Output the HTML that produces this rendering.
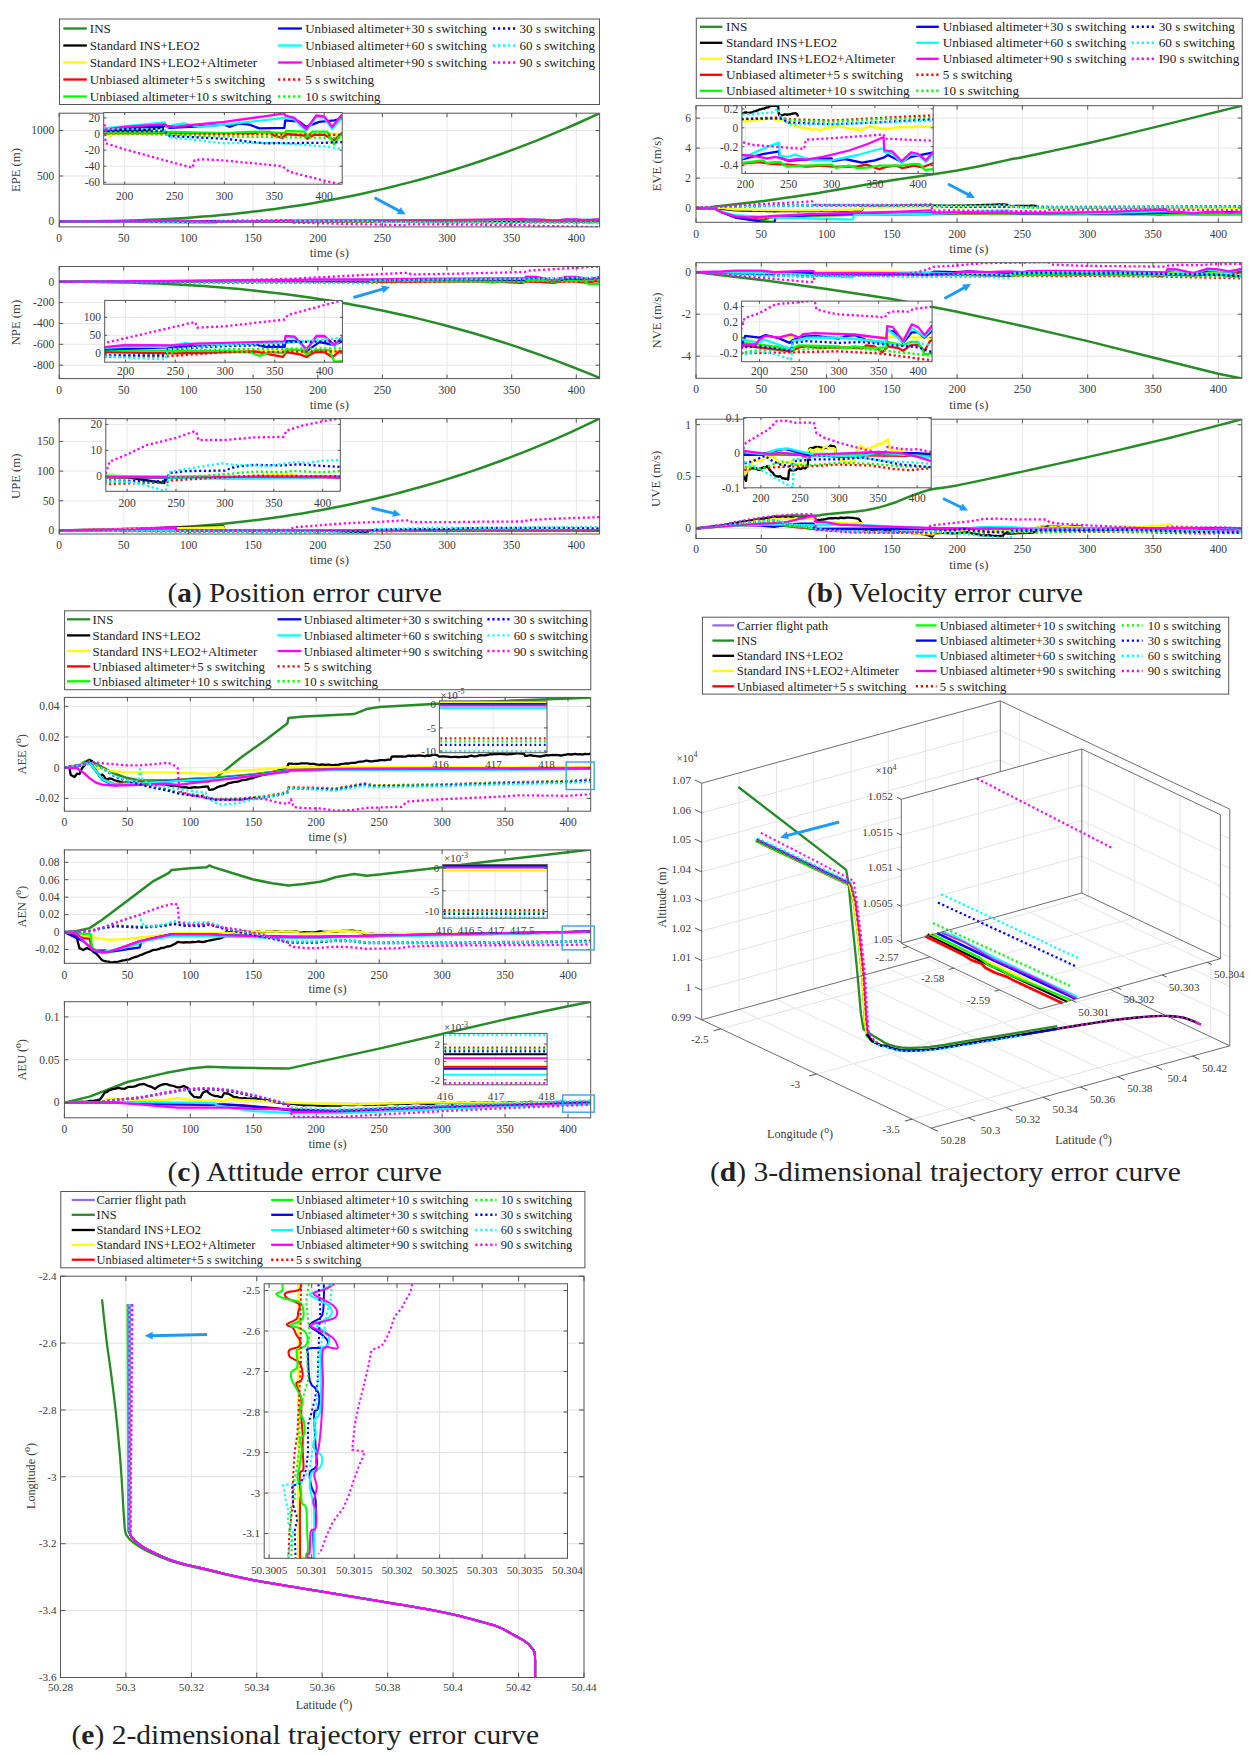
<!DOCTYPE html>
<html><head><meta charset="utf-8"><title>Error curves</title>
<style>
html,body{margin:0;padding:0;background:#fff}
svg{display:block;font-family:'Liberation Serif', 'DejaVu Serif', serif}
</style></head><body>
<svg width="1254" height="1756" viewBox="0 0 1254 1756">
<rect width="1254" height="1756" fill="#fff"/>
<rect x="59.5" y="19" width="540" height="85.5" fill="#fff" stroke="#555555" stroke-width="1"/>
<line x1="63.3" y1="28.5" x2="86.8" y2="28.5" stroke="#278c27" stroke-width="2.3"/>
<text x="89.8" y="33.1" font-size="13.05" text-anchor="start" fill="#222">INS</text>
<line x1="63.3" y1="45.5" x2="86.8" y2="45.5" stroke="#000000" stroke-width="2.3"/>
<text x="89.8" y="50.1" font-size="13.05" text-anchor="start" fill="#222">Standard INS+LEO2</text>
<line x1="63.3" y1="62.5" x2="86.8" y2="62.5" stroke="#ffff00" stroke-width="2.3"/>
<text x="89.8" y="67.1" font-size="13.05" text-anchor="start" fill="#222">Standard INS+LEO2+Altimeter</text>
<line x1="63.3" y1="79.5" x2="86.8" y2="79.5" stroke="#ff0000" stroke-width="2.3"/>
<text x="89.8" y="84.1" font-size="13.05" text-anchor="start" fill="#222">Unbiased altimeter+5 s switching</text>
<line x1="63.3" y1="96.5" x2="86.8" y2="96.5" stroke="#00ff00" stroke-width="2.3"/>
<text x="89.8" y="101.1" font-size="13.05" text-anchor="start" fill="#222">Unbiased altimeter+10 s switching</text>
<line x1="278.1" y1="28.5" x2="301.9" y2="28.5" stroke="#0000ff" stroke-width="2.3"/>
<text x="305.2" y="33.1" font-size="13.05" text-anchor="start" fill="#222">Unbiased altimeter+30 s switching</text>
<line x1="278.1" y1="45.5" x2="301.9" y2="45.5" stroke="#00ffff" stroke-width="2.3"/>
<text x="305.2" y="50.1" font-size="13.05" text-anchor="start" fill="#222">Unbiased altimeter+60 s switching</text>
<line x1="278.1" y1="62.5" x2="301.9" y2="62.5" stroke="#ff00ff" stroke-width="2.3"/>
<text x="305.2" y="67.1" font-size="13.05" text-anchor="start" fill="#222">Unbiased altimeter+90 s switching</text>
<line x1="278.1" y1="79.5" x2="301.9" y2="79.5" stroke="#ff0000" stroke-width="2.4" stroke-dasharray="2.2 2.8"/>
<text x="305.2" y="84.1" font-size="13.05" text-anchor="start" fill="#222">5 s switching</text>
<line x1="278.1" y1="96.5" x2="301.9" y2="96.5" stroke="#00ff00" stroke-width="2.4" stroke-dasharray="2.2 2.8"/>
<text x="305.2" y="101.1" font-size="13.05" text-anchor="start" fill="#222">10 s switching</text>
<line x1="493" y1="28.5" x2="515.4" y2="28.5" stroke="#0000ff" stroke-width="2.4" stroke-dasharray="2.2 2.8"/>
<text x="519.6" y="33.1" font-size="13.05" text-anchor="start" fill="#222">30 s switching</text>
<line x1="493" y1="45.5" x2="515.4" y2="45.5" stroke="#00ffff" stroke-width="2.4" stroke-dasharray="2.2 2.8"/>
<text x="519.6" y="50.1" font-size="13.05" text-anchor="start" fill="#222">60 s switching</text>
<line x1="493" y1="62.5" x2="515.4" y2="62.5" stroke="#ff00ff" stroke-width="2.4" stroke-dasharray="2.2 2.8"/>
<text x="519.6" y="67.1" font-size="13.05" text-anchor="start" fill="#222">90 s switching</text>
<clipPath id="c1"><rect x="59.2" y="113.2" width="540.4" height="113.7"/></clipPath>
<rect x="59.2" y="113.2" width="540.4" height="113.7" fill="#fff" stroke="none" stroke-width="1"/>
<line x1="123.8" y1="113.2" x2="123.8" y2="226.9" stroke="#e7e7e7" stroke-width="1"/>
<line x1="188.5" y1="113.2" x2="188.5" y2="226.9" stroke="#e7e7e7" stroke-width="1"/>
<line x1="253.1" y1="113.2" x2="253.1" y2="226.9" stroke="#e7e7e7" stroke-width="1"/>
<line x1="317.8" y1="113.2" x2="317.8" y2="226.9" stroke="#e7e7e7" stroke-width="1"/>
<line x1="382.4" y1="113.2" x2="382.4" y2="226.9" stroke="#e7e7e7" stroke-width="1"/>
<line x1="447" y1="113.2" x2="447" y2="226.9" stroke="#e7e7e7" stroke-width="1"/>
<line x1="511.7" y1="113.2" x2="511.7" y2="226.9" stroke="#e7e7e7" stroke-width="1"/>
<line x1="576.3" y1="113.2" x2="576.3" y2="226.9" stroke="#e7e7e7" stroke-width="1"/>
<line x1="59.2" y1="221.4" x2="599.6" y2="221.4" stroke="#e7e7e7" stroke-width="1"/>
<line x1="59.2" y1="176" x2="599.6" y2="176" stroke="#e7e7e7" stroke-width="1"/>
<line x1="59.2" y1="130.5" x2="599.6" y2="130.5" stroke="#e7e7e7" stroke-width="1"/>
<polyline points="59.2,221.4 68.2,221.4 77.2,221.4 86.2,221.3 95.2,221.3 104.2,221.1 113.2,221 122.2,220.7 131.3,220.5 140.3,220.2 149.3,219.8 158.3,219.4 167.3,219 176.3,218.5 185.3,217.9 194.3,217.3 203.3,216.6 212.3,215.9 221.3,215.1 230.3,214.2 239.3,213.3 248.3,212.3 257.3,211.2 266.4,210.1 275.4,208.9 284.4,207.6 293.4,206.3 302.4,204.9 311.4,203.4 320.4,201.8 329.4,200.2 338.4,198.5 347.4,196.7 356.4,194.9 365.4,193 374.4,190.9 383.4,188.9 392.4,186.7 401.5,184.4 410.5,182.1 419.5,179.7 428.5,177.2 437.5,174.6 446.5,172 455.5,169.2 464.5,166.4 473.5,163.5 482.5,160.5 491.5,157.4 500.5,154.2 509.5,150.9 518.5,147.6 527.5,144.1 536.6,140.6 545.6,136.9 554.6,133.2 563.6,129.4 572.6,125.5 581.6,121.5 590.6,117.4 599.6,113.2" fill="none" stroke="#278c27" stroke-width="2.5" stroke-linecap="butt" stroke-linejoin="round" clip-path="url(#c1)"/>
<polyline points="59.2,221.4 290.6,221.2 346.2,221 366.9,220.7 367.5,221.1" fill="none" stroke="#000000" stroke-width="2.3" stroke-linecap="butt" stroke-linejoin="round" clip-path="url(#c1)"/>
<polyline points="59.2,221.4 290.6,221.3 295.8,221.4 298.4,221.7 304.8,221.4 369.5,221.4 599.6,221.4" fill="none" stroke="#ffff00" stroke-width="2.3" stroke-linecap="butt" stroke-linejoin="round" clip-path="url(#c1)"/>
<polyline points="59.2,221.4 290.6,221.4 382.4,221.4 485.8,221.4 492.3,221.2 505.2,221.2 511.7,221.6 522,221.9 527.2,221.4 550.5,221.6 554.4,222 563.4,221.5 576.3,221.5 589.3,222.1 595.7,221.6 599.6,221.3" fill="none" stroke="#ff0000" stroke-width="2.3" stroke-linecap="butt" stroke-linejoin="round" clip-path="url(#c1)"/>
<polyline points="59.2,221.4 290.6,221.3 382.4,221.2 447,221.4 485.8,221.2 524.6,221.4 527.2,221.1 550.5,221.2 554.4,221.7 560.8,221.2 580.2,221.2 589.3,222.6 594.4,221.9 599.6,221.4" fill="none" stroke="#00ff00" stroke-width="2.3" stroke-linecap="butt" stroke-linejoin="round" clip-path="url(#c1)"/>
<polyline points="59.2,221.4 290.6,221 369.5,220.5 375.9,220.7 421.2,220.5 447,220.4 453.5,220.6 466.4,220.3 479.4,220.4 492.3,220.8 524.6,220.7 525.9,219.9 544,220 553.1,220.6 569.9,220.1 589.3,219.9 599.6,219.7" fill="none" stroke="#0000ff" stroke-width="2.3" stroke-linecap="butt" stroke-linejoin="round" clip-path="url(#c1)"/>
<polyline points="59.2,221.4 136.8,221.9 188.5,222.8 215.6,223.1 216.9,221.4 290.6,220.8 369.5,220.1 372.1,220.6 385,220.4 395.3,220.3 414.7,220.6 447,220.4 524.6,219.6 525.9,219.5 537.5,219.8 553.1,221.1 566,219.5 576.3,219.6 586.7,220.9 599.6,219.5" fill="none" stroke="#00ffff" stroke-width="2.3" stroke-linecap="butt" stroke-linejoin="round" clip-path="url(#c1)"/>
<polyline points="59.2,221.4 136.8,221.7 175.6,220.5 214.3,221.9 290.6,221 317.8,220.6 369.5,220.4 373.4,220.5 382.4,220.6 408.3,220.4 447,220.1 498.8,219.4 524.6,219.1 525.9,219.4 537.5,219.6 553.1,220.9 566,219.4 576.3,219.4 586.7,220.6 598.3,219.4 599.6,219.4" fill="none" stroke="#ff00ff" stroke-width="2.3" stroke-linecap="butt" stroke-linejoin="round" clip-path="url(#c1)"/>
<polyline points="59.2,221.4 290.6,221.4 382.4,221.4 599.6,221.5" fill="none" stroke="#ff0000" stroke-width="2.3" stroke-linecap="butt" stroke-linejoin="round" stroke-dasharray="2.2 2.6" clip-path="url(#c1)"/>
<polyline points="59.2,221.4 290.6,221.4 375.9,221.5 447,221.7 524.6,221.8 599.6,221.9" fill="none" stroke="#00ff00" stroke-width="2.3" stroke-linecap="butt" stroke-linejoin="round" stroke-dasharray="2.2 2.6" clip-path="url(#c1)"/>
<polyline points="59.2,221.4 290.6,221.1 369.5,221.1 375.9,221.7 447,222 498.8,222.5 576.3,222.4 599.6,222.4" fill="none" stroke="#0000ff" stroke-width="2.3" stroke-linecap="butt" stroke-linejoin="round" stroke-dasharray="2.2 2.6" clip-path="url(#c1)"/>
<polyline points="59.2,221.4 290.6,220.9 369.5,220.9 375.9,221.8 447,222.5 511.7,222.4 576.3,222.8 599.6,223.1" fill="none" stroke="#00ffff" stroke-width="2.3" stroke-linecap="butt" stroke-linejoin="round" stroke-dasharray="2.2 2.6" clip-path="url(#c1)"/>
<polyline points="59.2,221.4 175.6,221 176.8,221.4 290.6,220.1 291.9,220.4 293.2,222.5 317.8,223.2 382.4,224.7 405.7,225.3 408.3,224.4 421.2,224.3 447,224.4 511.7,225 522,225.1 531.1,225.7 576.3,226.7 599.6,227.2" fill="none" stroke="#ff00ff" stroke-width="2.3" stroke-linecap="butt" stroke-linejoin="round" stroke-dasharray="2.2 2.6" clip-path="url(#c1)"/>
<rect x="59.2" y="113.2" width="540.4" height="113.7" fill="none" stroke="#555555" stroke-width="1"/>
<line x1="59.2" y1="226.9" x2="59.2" y2="222.9" stroke="#555555" stroke-width="1"/>
<line x1="59.2" y1="113.2" x2="59.2" y2="117.2" stroke="#555555" stroke-width="1"/>
<text x="59.2" y="242" font-size="11.5" text-anchor="middle" fill="#3a3a3a">0</text>
<line x1="123.8" y1="226.9" x2="123.8" y2="222.9" stroke="#555555" stroke-width="1"/>
<line x1="123.8" y1="113.2" x2="123.8" y2="117.2" stroke="#555555" stroke-width="1"/>
<text x="123.8" y="242" font-size="11.5" text-anchor="middle" fill="#3a3a3a">50</text>
<line x1="188.5" y1="226.9" x2="188.5" y2="222.9" stroke="#555555" stroke-width="1"/>
<line x1="188.5" y1="113.2" x2="188.5" y2="117.2" stroke="#555555" stroke-width="1"/>
<text x="188.5" y="242" font-size="11.5" text-anchor="middle" fill="#3a3a3a">100</text>
<line x1="253.1" y1="226.9" x2="253.1" y2="222.9" stroke="#555555" stroke-width="1"/>
<line x1="253.1" y1="113.2" x2="253.1" y2="117.2" stroke="#555555" stroke-width="1"/>
<text x="253.1" y="242" font-size="11.5" text-anchor="middle" fill="#3a3a3a">150</text>
<line x1="317.8" y1="226.9" x2="317.8" y2="222.9" stroke="#555555" stroke-width="1"/>
<line x1="317.8" y1="113.2" x2="317.8" y2="117.2" stroke="#555555" stroke-width="1"/>
<text x="317.8" y="242" font-size="11.5" text-anchor="middle" fill="#3a3a3a">200</text>
<line x1="382.4" y1="226.9" x2="382.4" y2="222.9" stroke="#555555" stroke-width="1"/>
<line x1="382.4" y1="113.2" x2="382.4" y2="117.2" stroke="#555555" stroke-width="1"/>
<text x="382.4" y="242" font-size="11.5" text-anchor="middle" fill="#3a3a3a">250</text>
<line x1="447" y1="226.9" x2="447" y2="222.9" stroke="#555555" stroke-width="1"/>
<line x1="447" y1="113.2" x2="447" y2="117.2" stroke="#555555" stroke-width="1"/>
<text x="447" y="242" font-size="11.5" text-anchor="middle" fill="#3a3a3a">300</text>
<line x1="511.7" y1="226.9" x2="511.7" y2="222.9" stroke="#555555" stroke-width="1"/>
<line x1="511.7" y1="113.2" x2="511.7" y2="117.2" stroke="#555555" stroke-width="1"/>
<text x="511.7" y="242" font-size="11.5" text-anchor="middle" fill="#3a3a3a">350</text>
<line x1="576.3" y1="226.9" x2="576.3" y2="222.9" stroke="#555555" stroke-width="1"/>
<line x1="576.3" y1="113.2" x2="576.3" y2="117.2" stroke="#555555" stroke-width="1"/>
<text x="576.3" y="242" font-size="11.5" text-anchor="middle" fill="#3a3a3a">400</text>
<line x1="59.2" y1="221.4" x2="63.2" y2="221.4" stroke="#555555" stroke-width="1"/>
<line x1="599.6" y1="221.4" x2="595.6" y2="221.4" stroke="#555555" stroke-width="1"/>
<text x="54.2" y="225.2" font-size="11.5" text-anchor="end" fill="#3a3a3a">0</text>
<line x1="59.2" y1="176" x2="63.2" y2="176" stroke="#555555" stroke-width="1"/>
<line x1="599.6" y1="176" x2="595.6" y2="176" stroke="#555555" stroke-width="1"/>
<text x="54.2" y="179.8" font-size="11.5" text-anchor="end" fill="#3a3a3a">500</text>
<line x1="59.2" y1="130.5" x2="63.2" y2="130.5" stroke="#555555" stroke-width="1"/>
<line x1="599.6" y1="130.5" x2="595.6" y2="130.5" stroke="#555555" stroke-width="1"/>
<text x="54.2" y="134.3" font-size="11.5" text-anchor="end" fill="#3a3a3a">1000</text>
<text x="329.4" y="257.4" font-size="12.7" text-anchor="middle" fill="#3a3a3a">time (s)</text>
<text x="20.3" y="170.1" font-size="12.7" text-anchor="middle" fill="#3a3a3a" transform="rotate(-90 20.3 170.1)">EPE (m)</text>
<clipPath id="c2"><rect x="103.7" y="112.6" width="238.5" height="71.6"/></clipPath>
<rect x="103.7" y="112.6" width="238.5" height="71.6" fill="#fff" stroke="none" stroke-width="1"/>
<line x1="124.7" y1="112.6" x2="124.7" y2="184.2" stroke="#e7e7e7" stroke-width="1"/>
<line x1="174.6" y1="112.6" x2="174.6" y2="184.2" stroke="#e7e7e7" stroke-width="1"/>
<line x1="224.4" y1="112.6" x2="224.4" y2="184.2" stroke="#e7e7e7" stroke-width="1"/>
<line x1="274.3" y1="112.6" x2="274.3" y2="184.2" stroke="#e7e7e7" stroke-width="1"/>
<line x1="324.2" y1="112.6" x2="324.2" y2="184.2" stroke="#e7e7e7" stroke-width="1"/>
<line x1="103.7" y1="117.9" x2="342.2" y2="117.9" stroke="#e7e7e7" stroke-width="1"/>
<line x1="103.7" y1="134" x2="342.2" y2="134" stroke="#e7e7e7" stroke-width="1"/>
<line x1="103.7" y1="150.1" x2="342.2" y2="150.1" stroke="#e7e7e7" stroke-width="1"/>
<line x1="103.7" y1="166.2" x2="342.2" y2="166.2" stroke="#e7e7e7" stroke-width="1"/>
<line x1="103.7" y1="182.3" x2="342.2" y2="182.3" stroke="#e7e7e7" stroke-width="1"/>
<polyline points="98.9,11.7 105.8,-0.2 112.8,-12.6 119.7,-25.7 126.7,-39.4 133.6,-53.8 140.6,-68.8 147.5,-84.5 154.5,-100.9 161.4,-118 168.4,-135.8 175.3,-154.2 182.3,-173.4 189.3,-193.3 196.2,-213.9 203.2,-235.2 210.1,-257.3 217.1,-280 224,-303.6 231,-327.9 237.9,-352.9 244.9,-378.7 251.8,-405.3 258.8,-432.7 265.7,-460.8 272.7,-489.7 279.6,-519.4 286.6,-549.9 293.5,-581.3 300.5,-613.4 307.4,-646.3 314.4,-680.1 321.3,-714.6 328.3,-750 335.2,-786.3 342.2,-823.3" fill="none" stroke="#278c27" stroke-width="2.5" stroke-linecap="butt" stroke-linejoin="round" clip-path="url(#c2)"/>
<polyline points="-74.9,134 103.7,131.6 146.6,130 162.6,127.6 163.1,130.8" fill="none" stroke="#000000" stroke-width="2.3" stroke-linecap="butt" stroke-linejoin="round" clip-path="url(#c2)"/>
<polyline points="-74.9,134 103.7,132.4 107.7,134 109.7,136.4 114.7,134 164.6,133.2 342.2,134" fill="none" stroke="#ffff00" stroke-width="2.3" stroke-linecap="butt" stroke-linejoin="round" clip-path="url(#c2)"/>
<polyline points="-74.9,134 103.7,133.2 174.6,133.2 254.4,133.2 259.4,132 269.4,132 274.3,135.6 282.3,138 286.3,134 304.3,135.6 307.3,138.8 314.3,134.8 324.2,134.8 334.2,140.2 339.2,135.6 342.2,132.8" fill="none" stroke="#ff0000" stroke-width="2.3" stroke-linecap="butt" stroke-linejoin="round" clip-path="url(#c2)"/>
<polyline points="-74.9,134 103.7,132.4 174.6,132 224.4,133.2 254.4,131.6 284.3,133.2 286.3,130.8 304.3,131.6 307.3,136.4 312.3,131.6 327.2,131.6 334.2,144.5 338.2,138 342.2,133.2" fill="none" stroke="#00ff00" stroke-width="2.3" stroke-linecap="butt" stroke-linejoin="round" clip-path="url(#c2)"/>
<polyline points="-74.9,134 103.7,130 164.6,126 169.6,127.8 204.5,126 224.4,124.7 229.4,126.8 239.4,123.5 249.4,124.7 259.4,128.4 284.3,127.8 285.3,120.3 299.3,121.6 306.3,126.8 319.2,121.9 334.2,120.3 342.2,118.7" fill="none" stroke="#0000ff" stroke-width="2.3" stroke-linecap="butt" stroke-linejoin="round" clip-path="url(#c2)"/>
<polyline points="46.8,134 103.7,128.4 164.6,122.3 166.6,126.8 176.5,124.3 184.5,123.5 199.5,126.8 224.4,124.7 284.3,117.9 285.3,117.1 294.3,119.5 306.3,130.8 316.3,117.1 324.2,117.9 332.2,129.2 342.2,117.1" fill="none" stroke="#00ffff" stroke-width="2.3" stroke-linecap="butt" stroke-linejoin="round" clip-path="url(#c2)"/>
<polyline points="44.8,138 103.7,130 124.7,126.8 164.6,124.3 167.6,126 174.6,126.8 194.5,124.7 224.4,121.9 264.4,116.3 284.3,113.4 285.3,115.5 294.3,117.9 306.3,129.2 316.3,115.5 324.2,116.3 332.2,126.8 341.2,115.5 342.2,115.5" fill="none" stroke="#ff00ff" stroke-width="2.3" stroke-linecap="butt" stroke-linejoin="round" clip-path="url(#c2)"/>
<polyline points="-74.9,134 103.7,133.2 174.6,134 342.2,134.8" fill="none" stroke="#ff0000" stroke-width="2.3" stroke-linecap="butt" stroke-linejoin="round" stroke-dasharray="2.2 2.6" clip-path="url(#c2)"/>
<polyline points="-74.9,134 103.7,133.2 169.6,134.8 224.4,136.4 284.3,137.2 342.2,138" fill="none" stroke="#00ff00" stroke-width="2.3" stroke-linecap="butt" stroke-linejoin="round" stroke-dasharray="2.2 2.6" clip-path="url(#c2)"/>
<polyline points="-74.9,134 103.7,130.8 164.6,130.9 169.6,136 224.4,138.8 264.4,143.3 324.2,142.8 342.2,142" fill="none" stroke="#0000ff" stroke-width="2.3" stroke-linecap="butt" stroke-linejoin="round" stroke-dasharray="2.2 2.6" clip-path="url(#c2)"/>
<polyline points="-74.9,134 103.7,129.2 164.6,129.2 169.6,137.2 224.4,143.3 274.3,142.8 324.2,146.4 342.2,149" fill="none" stroke="#00ffff" stroke-width="2.3" stroke-linecap="butt" stroke-linejoin="round" stroke-dasharray="2.2 2.6" clip-path="url(#c2)"/>
<polyline points="15.9,134 103.7,121.9 104.7,125.2 105.7,143.3 124.7,149.3 174.6,163 192.5,167.8 194.5,160.1 204.5,159.3 224.4,160.5 274.3,165.4 282.3,166.2 289.3,171.8 324.2,180.7 342.2,184.7" fill="none" stroke="#ff00ff" stroke-width="2.3" stroke-linecap="butt" stroke-linejoin="round" stroke-dasharray="2.2 2.6" clip-path="url(#c2)"/>
<rect x="103.7" y="112.6" width="238.5" height="71.6" fill="none" stroke="#555555" stroke-width="1"/>
<line x1="124.7" y1="184.2" x2="124.7" y2="181.7" stroke="#555555" stroke-width="1"/>
<line x1="124.7" y1="112.6" x2="124.7" y2="115.1" stroke="#555555" stroke-width="1"/>
<text x="124.7" y="199.6" font-size="11.5" text-anchor="middle" fill="#3a3a3a">200</text>
<line x1="174.6" y1="184.2" x2="174.6" y2="181.7" stroke="#555555" stroke-width="1"/>
<line x1="174.6" y1="112.6" x2="174.6" y2="115.1" stroke="#555555" stroke-width="1"/>
<text x="174.6" y="199.6" font-size="11.5" text-anchor="middle" fill="#3a3a3a">250</text>
<line x1="224.4" y1="184.2" x2="224.4" y2="181.7" stroke="#555555" stroke-width="1"/>
<line x1="224.4" y1="112.6" x2="224.4" y2="115.1" stroke="#555555" stroke-width="1"/>
<text x="224.4" y="199.6" font-size="11.5" text-anchor="middle" fill="#3a3a3a">300</text>
<line x1="274.3" y1="184.2" x2="274.3" y2="181.7" stroke="#555555" stroke-width="1"/>
<line x1="274.3" y1="112.6" x2="274.3" y2="115.1" stroke="#555555" stroke-width="1"/>
<text x="274.3" y="199.6" font-size="11.5" text-anchor="middle" fill="#3a3a3a">350</text>
<line x1="324.2" y1="184.2" x2="324.2" y2="181.7" stroke="#555555" stroke-width="1"/>
<line x1="324.2" y1="112.6" x2="324.2" y2="115.1" stroke="#555555" stroke-width="1"/>
<text x="324.2" y="199.6" font-size="11.5" text-anchor="middle" fill="#3a3a3a">400</text>
<line x1="103.7" y1="117.9" x2="106.2" y2="117.9" stroke="#555555" stroke-width="1"/>
<line x1="342.2" y1="117.9" x2="339.7" y2="117.9" stroke="#555555" stroke-width="1"/>
<text x="100" y="121.7" font-size="11.5" text-anchor="end" fill="#3a3a3a">20</text>
<line x1="103.7" y1="134" x2="106.2" y2="134" stroke="#555555" stroke-width="1"/>
<line x1="342.2" y1="134" x2="339.7" y2="134" stroke="#555555" stroke-width="1"/>
<text x="100" y="137.8" font-size="11.5" text-anchor="end" fill="#3a3a3a">0</text>
<line x1="103.7" y1="150.1" x2="106.2" y2="150.1" stroke="#555555" stroke-width="1"/>
<line x1="342.2" y1="150.1" x2="339.7" y2="150.1" stroke="#555555" stroke-width="1"/>
<text x="100" y="153.9" font-size="11.5" text-anchor="end" fill="#3a3a3a">-20</text>
<line x1="103.7" y1="166.2" x2="106.2" y2="166.2" stroke="#555555" stroke-width="1"/>
<line x1="342.2" y1="166.2" x2="339.7" y2="166.2" stroke="#555555" stroke-width="1"/>
<text x="100" y="170" font-size="11.5" text-anchor="end" fill="#3a3a3a">-40</text>
<line x1="103.7" y1="182.3" x2="106.2" y2="182.3" stroke="#555555" stroke-width="1"/>
<line x1="342.2" y1="182.3" x2="339.7" y2="182.3" stroke="#555555" stroke-width="1"/>
<text x="100" y="186.1" font-size="11.5" text-anchor="end" fill="#3a3a3a">-60</text>
<line x1="374.6" y1="197.7" x2="399.6" y2="211.1" stroke="#1f9bf5" stroke-width="3.0"/>
<polygon points="405.8,214.4 396.9,214.1 400.6,207.2" fill="#1f9bf5"/>
<clipPath id="c3"><rect x="59.2" y="266.5" width="540.4" height="112.1"/></clipPath>
<rect x="59.2" y="266.5" width="540.4" height="112.1" fill="#fff" stroke="none" stroke-width="1"/>
<line x1="123.8" y1="266.5" x2="123.8" y2="378.6" stroke="#e7e7e7" stroke-width="1"/>
<line x1="188.5" y1="266.5" x2="188.5" y2="378.6" stroke="#e7e7e7" stroke-width="1"/>
<line x1="253.1" y1="266.5" x2="253.1" y2="378.6" stroke="#e7e7e7" stroke-width="1"/>
<line x1="317.8" y1="266.5" x2="317.8" y2="378.6" stroke="#e7e7e7" stroke-width="1"/>
<line x1="382.4" y1="266.5" x2="382.4" y2="378.6" stroke="#e7e7e7" stroke-width="1"/>
<line x1="447" y1="266.5" x2="447" y2="378.6" stroke="#e7e7e7" stroke-width="1"/>
<line x1="511.7" y1="266.5" x2="511.7" y2="378.6" stroke="#e7e7e7" stroke-width="1"/>
<line x1="576.3" y1="266.5" x2="576.3" y2="378.6" stroke="#e7e7e7" stroke-width="1"/>
<line x1="59.2" y1="281.8" x2="599.6" y2="281.8" stroke="#e7e7e7" stroke-width="1"/>
<line x1="59.2" y1="302.6" x2="599.6" y2="302.6" stroke="#e7e7e7" stroke-width="1"/>
<line x1="59.2" y1="323.5" x2="599.6" y2="323.5" stroke="#e7e7e7" stroke-width="1"/>
<line x1="59.2" y1="344.3" x2="599.6" y2="344.3" stroke="#e7e7e7" stroke-width="1"/>
<line x1="59.2" y1="365.2" x2="599.6" y2="365.2" stroke="#e7e7e7" stroke-width="1"/>
<polyline points="59.2,281.8 68.2,281.8 77.2,281.8 86.2,281.8 95.2,281.9 104.2,282 113.2,282.2 122.2,282.4 131.3,282.6 140.3,282.9 149.3,283.2 158.3,283.5 167.3,284 176.3,284.4 185.3,284.9 194.3,285.5 203.3,286.1 212.3,286.7 221.3,287.4 230.3,288.2 239.3,289 248.3,289.9 257.3,290.9 266.4,291.9 275.4,292.9 284.4,294.1 293.4,295.2 302.4,296.5 311.4,297.8 320.4,299.2 329.4,300.6 338.4,302.1 347.4,303.7 356.4,305.4 365.4,307.1 374.4,308.9 383.4,310.7 392.4,312.7 401.5,314.7 410.5,316.7 419.5,318.9 428.5,321.1 437.5,323.4 446.5,325.7 455.5,328.2 464.5,330.7 473.5,333.3 482.5,336 491.5,338.7 500.5,341.5 509.5,344.4 518.5,347.4 527.5,350.5 536.6,353.6 545.6,356.9 554.6,360.2 563.6,363.6 572.6,367 581.6,370.6 590.6,374.2 599.6,378" fill="none" stroke="#278c27" stroke-width="2.5" stroke-linecap="butt" stroke-linejoin="round" clip-path="url(#c3)"/>
<polyline points="59.2,281.8 290.6,281.2 369.5,281.2 599.6,281.2" fill="none" stroke="#ffff00" stroke-width="2.3" stroke-linecap="butt" stroke-linejoin="round" clip-path="url(#c3)"/>
<polyline points="59.2,281.8 290.6,281.4 382.4,281.8 447,281.4 485.8,281.2 511.7,282.4 522,282.8 527.2,281.4 544,282.1 553.1,282.8 563.4,281.4 576.3,281.4 586.7,282.9 595.7,281.2 599.6,281.2" fill="none" stroke="#ff0000" stroke-width="2.3" stroke-linecap="butt" stroke-linejoin="round" clip-path="url(#c3)"/>
<polyline points="59.2,281.8 290.6,280.9 447,281.1 479.4,281.4 492.3,282.5 505.2,281.4 524.6,281.8 525.9,280.6 547.9,280.8 553.1,282.1 563.4,280.9 582.8,280.9 589.3,284.2 599.6,284.1" fill="none" stroke="#00ff00" stroke-width="2.3" stroke-linecap="butt" stroke-linejoin="round" clip-path="url(#c3)"/>
<polyline points="59.2,281.8 290.6,280.6 382.4,280 447,279.1 485.8,279.1 498.8,279.9 524.6,279.9 525.9,278.2 544,278.3 553.1,281.1 569.9,278.5 589.3,279.4 599.6,278.2" fill="none" stroke="#0000ff" stroke-width="2.3" stroke-linecap="butt" stroke-linejoin="round" clip-path="url(#c3)"/>
<polyline points="59.2,281.8 290.6,280.2 317.8,279.9 369.5,279.9 382.4,279.3 395.3,278.8 408.3,279.2 524.6,278.6 525.9,277.1 537.5,277.3 553.1,280.8 566,277.1 576.3,277.1 589.3,279.7 599.6,277.4" fill="none" stroke="#00ffff" stroke-width="2.3" stroke-linecap="butt" stroke-linejoin="round" clip-path="url(#c3)"/>
<polyline points="59.2,281.8 290.6,280 317.8,279.4 382.4,279.5 408.3,278.9 524.6,278.3 525.9,276.7 537.5,277 553.1,280.6 566,276.8 576.3,276.8 589.3,279.4 599.6,277" fill="none" stroke="#ff00ff" stroke-width="2.3" stroke-linecap="butt" stroke-linejoin="round" clip-path="url(#c3)"/>
<polyline points="59.2,281.8 290.6,282.8 369.5,282.6 447,281.4 599.6,281.2" fill="none" stroke="#ff0000" stroke-width="2.3" stroke-linecap="butt" stroke-linejoin="round" stroke-dasharray="2.2 2.6" clip-path="url(#c3)"/>
<polyline points="59.2,281.8 290.6,282.4 369.5,282.4 382.4,281.2 447,280.6 599.6,280.3" fill="none" stroke="#00ff00" stroke-width="2.3" stroke-linecap="butt" stroke-linejoin="round" stroke-dasharray="2.2 2.6" clip-path="url(#c3)"/>
<polyline points="59.2,281.8 290.6,282.4 369.5,282.4 372.1,280.6 447,279.7 524.6,279.3 527.2,278.5 599.6,278.2" fill="none" stroke="#0000ff" stroke-width="2.3" stroke-linecap="butt" stroke-linejoin="round" stroke-dasharray="2.2 2.6" clip-path="url(#c3)"/>
<polyline points="59.2,281.8 290.6,282.6 369.5,283.5 372.1,280.6 447,279.4 524.6,278.8 599.6,277.3" fill="none" stroke="#00ffff" stroke-width="2.3" stroke-linecap="butt" stroke-linejoin="round" stroke-dasharray="2.2 2.6" clip-path="url(#c3)"/>
<polyline points="59.2,281.8 188.5,281.2 290.6,278.8 408.3,272.7 410.8,274.4 447,273.9 524.6,272 528.5,270.7 576.3,267.8 599.6,266.4" fill="none" stroke="#ff00ff" stroke-width="2.3" stroke-linecap="butt" stroke-linejoin="round" stroke-dasharray="2.2 2.6" clip-path="url(#c3)"/>
<rect x="59.2" y="266.5" width="540.4" height="112.1" fill="none" stroke="#555555" stroke-width="1"/>
<line x1="59.2" y1="378.6" x2="59.2" y2="374.6" stroke="#555555" stroke-width="1"/>
<line x1="59.2" y1="266.5" x2="59.2" y2="270.5" stroke="#555555" stroke-width="1"/>
<text x="59.2" y="393.7" font-size="11.5" text-anchor="middle" fill="#3a3a3a">0</text>
<line x1="123.8" y1="378.6" x2="123.8" y2="374.6" stroke="#555555" stroke-width="1"/>
<line x1="123.8" y1="266.5" x2="123.8" y2="270.5" stroke="#555555" stroke-width="1"/>
<text x="123.8" y="393.7" font-size="11.5" text-anchor="middle" fill="#3a3a3a">50</text>
<line x1="188.5" y1="378.6" x2="188.5" y2="374.6" stroke="#555555" stroke-width="1"/>
<line x1="188.5" y1="266.5" x2="188.5" y2="270.5" stroke="#555555" stroke-width="1"/>
<text x="188.5" y="393.7" font-size="11.5" text-anchor="middle" fill="#3a3a3a">100</text>
<line x1="253.1" y1="378.6" x2="253.1" y2="374.6" stroke="#555555" stroke-width="1"/>
<line x1="253.1" y1="266.5" x2="253.1" y2="270.5" stroke="#555555" stroke-width="1"/>
<text x="253.1" y="393.7" font-size="11.5" text-anchor="middle" fill="#3a3a3a">150</text>
<line x1="317.8" y1="378.6" x2="317.8" y2="374.6" stroke="#555555" stroke-width="1"/>
<line x1="317.8" y1="266.5" x2="317.8" y2="270.5" stroke="#555555" stroke-width="1"/>
<text x="317.8" y="393.7" font-size="11.5" text-anchor="middle" fill="#3a3a3a">200</text>
<line x1="382.4" y1="378.6" x2="382.4" y2="374.6" stroke="#555555" stroke-width="1"/>
<line x1="382.4" y1="266.5" x2="382.4" y2="270.5" stroke="#555555" stroke-width="1"/>
<text x="382.4" y="393.7" font-size="11.5" text-anchor="middle" fill="#3a3a3a">250</text>
<line x1="447" y1="378.6" x2="447" y2="374.6" stroke="#555555" stroke-width="1"/>
<line x1="447" y1="266.5" x2="447" y2="270.5" stroke="#555555" stroke-width="1"/>
<text x="447" y="393.7" font-size="11.5" text-anchor="middle" fill="#3a3a3a">300</text>
<line x1="511.7" y1="378.6" x2="511.7" y2="374.6" stroke="#555555" stroke-width="1"/>
<line x1="511.7" y1="266.5" x2="511.7" y2="270.5" stroke="#555555" stroke-width="1"/>
<text x="511.7" y="393.7" font-size="11.5" text-anchor="middle" fill="#3a3a3a">350</text>
<line x1="576.3" y1="378.6" x2="576.3" y2="374.6" stroke="#555555" stroke-width="1"/>
<line x1="576.3" y1="266.5" x2="576.3" y2="270.5" stroke="#555555" stroke-width="1"/>
<text x="576.3" y="393.7" font-size="11.5" text-anchor="middle" fill="#3a3a3a">400</text>
<line x1="59.2" y1="281.8" x2="63.2" y2="281.8" stroke="#555555" stroke-width="1"/>
<line x1="599.6" y1="281.8" x2="595.6" y2="281.8" stroke="#555555" stroke-width="1"/>
<text x="54.2" y="285.6" font-size="11.5" text-anchor="end" fill="#3a3a3a">0</text>
<line x1="59.2" y1="302.6" x2="63.2" y2="302.6" stroke="#555555" stroke-width="1"/>
<line x1="599.6" y1="302.6" x2="595.6" y2="302.6" stroke="#555555" stroke-width="1"/>
<text x="54.2" y="306.4" font-size="11.5" text-anchor="end" fill="#3a3a3a">-200</text>
<line x1="59.2" y1="323.5" x2="63.2" y2="323.5" stroke="#555555" stroke-width="1"/>
<line x1="599.6" y1="323.5" x2="595.6" y2="323.5" stroke="#555555" stroke-width="1"/>
<text x="54.2" y="327.3" font-size="11.5" text-anchor="end" fill="#3a3a3a">-400</text>
<line x1="59.2" y1="344.3" x2="63.2" y2="344.3" stroke="#555555" stroke-width="1"/>
<line x1="599.6" y1="344.3" x2="595.6" y2="344.3" stroke="#555555" stroke-width="1"/>
<text x="54.2" y="348.1" font-size="11.5" text-anchor="end" fill="#3a3a3a">-600</text>
<line x1="59.2" y1="365.2" x2="63.2" y2="365.2" stroke="#555555" stroke-width="1"/>
<line x1="599.6" y1="365.2" x2="595.6" y2="365.2" stroke="#555555" stroke-width="1"/>
<text x="54.2" y="368.9" font-size="11.5" text-anchor="end" fill="#3a3a3a">-800</text>
<text x="329.4" y="408.6" font-size="12.7" text-anchor="middle" fill="#3a3a3a">time (s)</text>
<text x="20.3" y="322.6" font-size="12.7" text-anchor="middle" fill="#3a3a3a" transform="rotate(-90 20.3 322.6)">NPE (m)</text>
<clipPath id="c4"><rect x="104.7" y="300.4" width="237.7" height="61.8"/></clipPath>
<rect x="104.7" y="300.4" width="237.7" height="61.8" fill="#fff" stroke="none" stroke-width="1"/>
<line x1="125.6" y1="300.4" x2="125.6" y2="362.2" stroke="#e7e7e7" stroke-width="1"/>
<line x1="175.3" y1="300.4" x2="175.3" y2="362.2" stroke="#e7e7e7" stroke-width="1"/>
<line x1="225" y1="300.4" x2="225" y2="362.2" stroke="#e7e7e7" stroke-width="1"/>
<line x1="274.8" y1="300.4" x2="274.8" y2="362.2" stroke="#e7e7e7" stroke-width="1"/>
<line x1="324.5" y1="300.4" x2="324.5" y2="362.2" stroke="#e7e7e7" stroke-width="1"/>
<line x1="104.7" y1="353.3" x2="342.4" y2="353.3" stroke="#e7e7e7" stroke-width="1"/>
<line x1="104.7" y1="335.3" x2="342.4" y2="335.3" stroke="#e7e7e7" stroke-width="1"/>
<line x1="104.7" y1="317.3" x2="342.4" y2="317.3" stroke="#e7e7e7" stroke-width="1"/>
<polyline points="99.9,395.8 106.8,399.9 113.8,404.2 120.7,408.7 127.6,413.5 134.5,418.5 141.5,423.7 148.4,429.2 155.3,434.9 162.3,440.8 169.2,447 176.1,453.4 183,460 190,466.9 196.9,474.1 203.8,481.5 210.8,489.2 217.7,497.1 224.6,505.2 231.5,513.7 238.5,522.4 245.4,531.3 252.3,540.6 259.3,550.1 266.2,559.8 273.1,569.9 280,580.2 287,590.8 293.9,601.7 300.8,612.8 307.8,624.2 314.7,636 321.6,648 328.5,660.3 335.5,672.8 342.4,685.7" fill="none" stroke="#278c27" stroke-width="2.5" stroke-linecap="butt" stroke-linejoin="round" clip-path="url(#c4)"/>
<polyline points="-73.3,353.3 104.7,351.3 165.4,351.3 342.4,351.5" fill="none" stroke="#ffff00" stroke-width="2.3" stroke-linecap="butt" stroke-linejoin="round" clip-path="url(#c4)"/>
<polyline points="-73.3,353.3 104.7,352.2 175.3,353.3 225,352.2 254.9,351.3 274.8,355.4 282.7,356.9 286.7,352.2 299.6,354.4 306.6,356.9 314.6,352.2 324.5,352.2 332.5,357.3 339.4,351.3 342.4,351.3" fill="none" stroke="#ff0000" stroke-width="2.3" stroke-linecap="butt" stroke-linejoin="round" clip-path="url(#c4)"/>
<polyline points="-73.3,353.3 104.7,350.2 225,351.1 249.9,352.2 259.9,355.8 269.8,352.2 284.7,353.3 285.7,349.3 302.6,350.1 306.6,354.4 314.6,350.2 329.5,350.2 334.4,361.6 342.4,361.2" fill="none" stroke="#00ff00" stroke-width="2.3" stroke-linecap="butt" stroke-linejoin="round" clip-path="url(#c4)"/>
<polyline points="-73.3,353.3 104.7,349.3 175.3,347.2 225,343.9 254.9,343.9 264.8,346.8 284.7,346.8 285.7,341.1 299.6,341.4 306.6,351.1 319.5,342.1 334.4,345 342.4,341.1" fill="none" stroke="#0000ff" stroke-width="2.3" stroke-linecap="butt" stroke-linejoin="round" clip-path="url(#c4)"/>
<polyline points="-73.3,353.3 104.7,347.9 125.6,346.8 165.4,346.8 175.3,344.7 185.3,343.2 195.2,344.3 284.7,342.5 285.7,337.1 294.7,337.8 306.6,350.1 316.5,337.1 324.5,337.1 334.4,346.1 342.4,338.2" fill="none" stroke="#00ffff" stroke-width="2.3" stroke-linecap="butt" stroke-linejoin="round" clip-path="url(#c4)"/>
<polyline points="-73.3,353.3 104.7,347.2 125.6,345 175.3,345.4 195.2,343.6 284.7,341.4 285.7,335.8 294.7,336.7 306.6,349.3 316.5,336 324.5,336 334.4,345 342.4,336.7" fill="none" stroke="#ff00ff" stroke-width="2.3" stroke-linecap="butt" stroke-linejoin="round" clip-path="url(#c4)"/>
<polyline points="-73.3,353.3 104.7,356.9 165.4,356.4 225,352.2 342.4,351.3" fill="none" stroke="#ff0000" stroke-width="2.3" stroke-linecap="butt" stroke-linejoin="round" stroke-dasharray="2.2 2.6" clip-path="url(#c4)"/>
<polyline points="-73.3,353.3 104.7,355.4 165.4,355.4 175.3,351.3 225,349.3 342.4,348.3" fill="none" stroke="#00ff00" stroke-width="2.3" stroke-linecap="butt" stroke-linejoin="round" stroke-dasharray="2.2 2.6" clip-path="url(#c4)"/>
<polyline points="-73.3,353.3 104.7,355.4 165.4,355.4 167.4,349.3 225,346.1 284.7,344.7 286.7,342.1 342.4,341.1" fill="none" stroke="#0000ff" stroke-width="2.3" stroke-linecap="butt" stroke-linejoin="round" stroke-dasharray="2.2 2.6" clip-path="url(#c4)"/>
<polyline points="-73.3,353.3 104.7,356.4 165.4,359.4 167.4,349.3 225,345 284.7,343 342.4,337.8" fill="none" stroke="#00ffff" stroke-width="2.3" stroke-linecap="butt" stroke-linejoin="round" stroke-dasharray="2.2 2.6" clip-path="url(#c4)"/>
<polyline points="26.1,351.5 104.7,343 195.2,322 197.2,327.7 225,326.3 284.7,319.5 287.7,315.1 324.5,305 342.4,300.4" fill="none" stroke="#ff00ff" stroke-width="2.3" stroke-linecap="butt" stroke-linejoin="round" stroke-dasharray="2.2 2.6" clip-path="url(#c4)"/>
<rect x="104.7" y="300.4" width="237.7" height="61.8" fill="none" stroke="#555555" stroke-width="1"/>
<line x1="125.6" y1="362.2" x2="125.6" y2="359.7" stroke="#555555" stroke-width="1"/>
<line x1="125.6" y1="300.4" x2="125.6" y2="302.9" stroke="#555555" stroke-width="1"/>
<text x="125.6" y="375.2" font-size="11.5" text-anchor="middle" fill="#3a3a3a">200</text>
<line x1="175.3" y1="362.2" x2="175.3" y2="359.7" stroke="#555555" stroke-width="1"/>
<line x1="175.3" y1="300.4" x2="175.3" y2="302.9" stroke="#555555" stroke-width="1"/>
<text x="175.3" y="375.2" font-size="11.5" text-anchor="middle" fill="#3a3a3a">250</text>
<line x1="225" y1="362.2" x2="225" y2="359.7" stroke="#555555" stroke-width="1"/>
<line x1="225" y1="300.4" x2="225" y2="302.9" stroke="#555555" stroke-width="1"/>
<text x="225" y="375.2" font-size="11.5" text-anchor="middle" fill="#3a3a3a">300</text>
<line x1="274.8" y1="362.2" x2="274.8" y2="359.7" stroke="#555555" stroke-width="1"/>
<line x1="274.8" y1="300.4" x2="274.8" y2="302.9" stroke="#555555" stroke-width="1"/>
<text x="274.8" y="375.2" font-size="11.5" text-anchor="middle" fill="#3a3a3a">350</text>
<line x1="324.5" y1="362.2" x2="324.5" y2="359.7" stroke="#555555" stroke-width="1"/>
<line x1="324.5" y1="300.4" x2="324.5" y2="302.9" stroke="#555555" stroke-width="1"/>
<text x="324.5" y="375.2" font-size="11.5" text-anchor="middle" fill="#3a3a3a">400</text>
<line x1="104.7" y1="353.3" x2="107.2" y2="353.3" stroke="#555555" stroke-width="1"/>
<line x1="342.4" y1="353.3" x2="339.9" y2="353.3" stroke="#555555" stroke-width="1"/>
<text x="101" y="357.1" font-size="11.5" text-anchor="end" fill="#3a3a3a">0</text>
<line x1="104.7" y1="335.3" x2="107.2" y2="335.3" stroke="#555555" stroke-width="1"/>
<line x1="342.4" y1="335.3" x2="339.9" y2="335.3" stroke="#555555" stroke-width="1"/>
<text x="101" y="339.1" font-size="11.5" text-anchor="end" fill="#3a3a3a">50</text>
<line x1="104.7" y1="317.3" x2="107.2" y2="317.3" stroke="#555555" stroke-width="1"/>
<line x1="342.4" y1="317.3" x2="339.9" y2="317.3" stroke="#555555" stroke-width="1"/>
<text x="101" y="321.1" font-size="11.5" text-anchor="end" fill="#3a3a3a">100</text>
<line x1="353.5" y1="297.5" x2="383.3" y2="288.9" stroke="#1f9bf5" stroke-width="3.0"/>
<polygon points="390,287 383.4,293 381.2,285.5" fill="#1f9bf5"/>
<clipPath id="c5"><rect x="59.2" y="418.6" width="540.4" height="115.4"/></clipPath>
<rect x="59.2" y="418.6" width="540.4" height="115.4" fill="#fff" stroke="none" stroke-width="1"/>
<line x1="123.8" y1="418.6" x2="123.8" y2="534" stroke="#e7e7e7" stroke-width="1"/>
<line x1="188.5" y1="418.6" x2="188.5" y2="534" stroke="#e7e7e7" stroke-width="1"/>
<line x1="253.1" y1="418.6" x2="253.1" y2="534" stroke="#e7e7e7" stroke-width="1"/>
<line x1="317.8" y1="418.6" x2="317.8" y2="534" stroke="#e7e7e7" stroke-width="1"/>
<line x1="382.4" y1="418.6" x2="382.4" y2="534" stroke="#e7e7e7" stroke-width="1"/>
<line x1="447" y1="418.6" x2="447" y2="534" stroke="#e7e7e7" stroke-width="1"/>
<line x1="511.7" y1="418.6" x2="511.7" y2="534" stroke="#e7e7e7" stroke-width="1"/>
<line x1="576.3" y1="418.6" x2="576.3" y2="534" stroke="#e7e7e7" stroke-width="1"/>
<line x1="59.2" y1="530.5" x2="599.6" y2="530.5" stroke="#e7e7e7" stroke-width="1"/>
<line x1="59.2" y1="500.8" x2="599.6" y2="500.8" stroke="#e7e7e7" stroke-width="1"/>
<line x1="59.2" y1="471.1" x2="599.6" y2="471.1" stroke="#e7e7e7" stroke-width="1"/>
<line x1="59.2" y1="441.4" x2="599.6" y2="441.4" stroke="#e7e7e7" stroke-width="1"/>
<polyline points="59.2,530.5 68.2,530.5 77.2,530.5 86.2,530.4 95.2,530.3 104.2,530.2 113.2,530 122.2,529.8 131.3,529.5 140.3,529.2 149.3,528.8 158.3,528.4 167.3,527.9 176.3,527.4 185.3,526.8 194.3,526.2 203.3,525.5 212.3,524.7 221.3,523.9 230.3,523 239.3,522 248.3,521 257.3,519.9 266.4,518.7 275.4,517.5 284.4,516.2 293.4,514.8 302.4,513.4 311.4,511.8 320.4,510.2 329.4,508.5 338.4,506.8 347.4,505 356.4,503 365.4,501 374.4,499 383.4,496.8 392.4,494.6 401.5,492.2 410.5,489.8 419.5,487.3 428.5,484.8 437.5,482.1 446.5,479.4 455.5,476.5 464.5,473.6 473.5,470.6 482.5,467.5 491.5,464.3 500.5,461 509.5,457.6 518.5,454.1 527.5,450.6 536.6,446.9 545.6,443.1 554.6,439.3 563.6,435.3 572.6,431.3 581.6,427.2 590.6,422.9 599.6,418.6" fill="none" stroke="#278c27" stroke-width="2.5" stroke-linecap="butt" stroke-linejoin="round" clip-path="url(#c5)"/>
<polyline points="59.2,530.5 136.8,528.7 175.6,527.5 223.4,526.3 224.7,530.5 290.6,530.7 317.8,530.7 366.9,532 368.2,530.8" fill="none" stroke="#000000" stroke-width="2.3" stroke-linecap="butt" stroke-linejoin="round" clip-path="url(#c5)"/>
<polyline points="59.2,530.5 175.6,528.1 223.4,527.2 224.7,530.5 290.6,530.2 298.4,530.1 304.8,530.5 453.5,530.9 472.9,531 479.4,530.5 524.6,530.1 537.5,530.1 544,530.5 599.6,530.5" fill="none" stroke="#ffff00" stroke-width="2.3" stroke-linecap="butt" stroke-linejoin="round" clip-path="url(#c5)"/>
<polyline points="59.2,530.5 290.6,530.7 599.6,530.7" fill="none" stroke="#ff0000" stroke-width="2.3" stroke-linecap="butt" stroke-linejoin="round" clip-path="url(#c5)"/>
<polyline points="59.2,530.5 290.6,530.7 599.6,530.7" fill="none" stroke="#00ff00" stroke-width="2.3" stroke-linecap="butt" stroke-linejoin="round" clip-path="url(#c5)"/>
<polyline points="59.2,530.5 290.6,530.6 447,530.9 485.8,530.9 492.3,530.6 599.6,530.6" fill="none" stroke="#0000ff" stroke-width="2.3" stroke-linecap="butt" stroke-linejoin="round" clip-path="url(#c5)"/>
<polyline points="59.2,530.5 290.6,530.4 447,531.1 599.6,530.7" fill="none" stroke="#00ffff" stroke-width="2.3" stroke-linecap="butt" stroke-linejoin="round" clip-path="url(#c5)"/>
<polyline points="59.2,530.5 136.8,529.3 175.6,527.5 176.8,530.5 290.6,530.6 576.3,530.7 599.6,530.9" fill="none" stroke="#ff00ff" stroke-width="2.3" stroke-linecap="butt" stroke-linejoin="round" clip-path="url(#c5)"/>
<polyline points="59.2,530.5 290.6,532.3 369.5,531.9 375.9,531.4 447,530.7 485.8,530.4 599.6,530.5" fill="none" stroke="#ff0000" stroke-width="2.3" stroke-linecap="butt" stroke-linejoin="round" stroke-dasharray="2.2 2.6" clip-path="url(#c5)"/>
<polyline points="59.2,530.5 290.6,531.9 369.5,531.7 375.9,530.7 421.2,530.4 447,530 485.8,529.4 524.6,529.5 537.5,529.3 576.3,529.5 599.6,529.3" fill="none" stroke="#00ff00" stroke-width="2.3" stroke-linecap="butt" stroke-linejoin="round" stroke-dasharray="2.2 2.6" clip-path="url(#c5)"/>
<polyline points="59.2,530.5 290.6,531.4 369.5,531.7 373.4,529.8 395.3,529.3 447,529.2 460,528.4 485.8,527.9 524.6,528 544,527.8 576.3,528.1 599.6,528.4" fill="none" stroke="#0000ff" stroke-width="2.3" stroke-linecap="butt" stroke-linejoin="round" stroke-dasharray="2.2 2.6" clip-path="url(#c5)"/>
<polyline points="59.2,530.5 290.6,531.7 317.8,531.7 343.6,532.6 366.9,533.8 370.8,533.3 373.4,529.5 395.3,528.8 421.2,528.1 443.2,527.5 460,527.9 505.2,528.1 537.5,527.3 556.9,527.4 576.3,526.9 599.6,526.8" fill="none" stroke="#00ffff" stroke-width="2.3" stroke-linecap="butt" stroke-linejoin="round" stroke-dasharray="2.2 2.6" clip-path="url(#c5)"/>
<polyline points="59.2,530.5 136.8,528.7 175.6,526.9 176.8,530.5 289.3,529.9 290.6,529.3 294.5,527.2 317.8,525.5 343.6,523.4 382.4,521.7 405.7,520.3 409.6,520.4 412.1,522.2 447,522.2 485.8,521.6 524.6,521.5 528.5,520 550.5,518.9 576.3,517.9 599.6,517.2" fill="none" stroke="#ff00ff" stroke-width="2.3" stroke-linecap="butt" stroke-linejoin="round" stroke-dasharray="2.2 2.6" clip-path="url(#c5)"/>
<rect x="59.2" y="418.6" width="540.4" height="115.4" fill="none" stroke="#555555" stroke-width="1"/>
<line x1="59.2" y1="534" x2="59.2" y2="530" stroke="#555555" stroke-width="1"/>
<line x1="59.2" y1="418.6" x2="59.2" y2="422.6" stroke="#555555" stroke-width="1"/>
<text x="59.2" y="549.1" font-size="11.5" text-anchor="middle" fill="#3a3a3a">0</text>
<line x1="123.8" y1="534" x2="123.8" y2="530" stroke="#555555" stroke-width="1"/>
<line x1="123.8" y1="418.6" x2="123.8" y2="422.6" stroke="#555555" stroke-width="1"/>
<text x="123.8" y="549.1" font-size="11.5" text-anchor="middle" fill="#3a3a3a">50</text>
<line x1="188.5" y1="534" x2="188.5" y2="530" stroke="#555555" stroke-width="1"/>
<line x1="188.5" y1="418.6" x2="188.5" y2="422.6" stroke="#555555" stroke-width="1"/>
<text x="188.5" y="549.1" font-size="11.5" text-anchor="middle" fill="#3a3a3a">100</text>
<line x1="253.1" y1="534" x2="253.1" y2="530" stroke="#555555" stroke-width="1"/>
<line x1="253.1" y1="418.6" x2="253.1" y2="422.6" stroke="#555555" stroke-width="1"/>
<text x="253.1" y="549.1" font-size="11.5" text-anchor="middle" fill="#3a3a3a">150</text>
<line x1="317.8" y1="534" x2="317.8" y2="530" stroke="#555555" stroke-width="1"/>
<line x1="317.8" y1="418.6" x2="317.8" y2="422.6" stroke="#555555" stroke-width="1"/>
<text x="317.8" y="549.1" font-size="11.5" text-anchor="middle" fill="#3a3a3a">200</text>
<line x1="382.4" y1="534" x2="382.4" y2="530" stroke="#555555" stroke-width="1"/>
<line x1="382.4" y1="418.6" x2="382.4" y2="422.6" stroke="#555555" stroke-width="1"/>
<text x="382.4" y="549.1" font-size="11.5" text-anchor="middle" fill="#3a3a3a">250</text>
<line x1="447" y1="534" x2="447" y2="530" stroke="#555555" stroke-width="1"/>
<line x1="447" y1="418.6" x2="447" y2="422.6" stroke="#555555" stroke-width="1"/>
<text x="447" y="549.1" font-size="11.5" text-anchor="middle" fill="#3a3a3a">300</text>
<line x1="511.7" y1="534" x2="511.7" y2="530" stroke="#555555" stroke-width="1"/>
<line x1="511.7" y1="418.6" x2="511.7" y2="422.6" stroke="#555555" stroke-width="1"/>
<text x="511.7" y="549.1" font-size="11.5" text-anchor="middle" fill="#3a3a3a">350</text>
<line x1="576.3" y1="534" x2="576.3" y2="530" stroke="#555555" stroke-width="1"/>
<line x1="576.3" y1="418.6" x2="576.3" y2="422.6" stroke="#555555" stroke-width="1"/>
<text x="576.3" y="549.1" font-size="11.5" text-anchor="middle" fill="#3a3a3a">400</text>
<line x1="59.2" y1="530.5" x2="63.2" y2="530.5" stroke="#555555" stroke-width="1"/>
<line x1="599.6" y1="530.5" x2="595.6" y2="530.5" stroke="#555555" stroke-width="1"/>
<text x="54.2" y="534.3" font-size="11.5" text-anchor="end" fill="#3a3a3a">0</text>
<line x1="59.2" y1="500.8" x2="63.2" y2="500.8" stroke="#555555" stroke-width="1"/>
<line x1="599.6" y1="500.8" x2="595.6" y2="500.8" stroke="#555555" stroke-width="1"/>
<text x="54.2" y="504.6" font-size="11.5" text-anchor="end" fill="#3a3a3a">50</text>
<line x1="59.2" y1="471.1" x2="63.2" y2="471.1" stroke="#555555" stroke-width="1"/>
<line x1="599.6" y1="471.1" x2="595.6" y2="471.1" stroke="#555555" stroke-width="1"/>
<text x="54.2" y="474.9" font-size="11.5" text-anchor="end" fill="#3a3a3a">100</text>
<line x1="59.2" y1="441.4" x2="63.2" y2="441.4" stroke="#555555" stroke-width="1"/>
<line x1="599.6" y1="441.4" x2="595.6" y2="441.4" stroke="#555555" stroke-width="1"/>
<text x="54.2" y="445.2" font-size="11.5" text-anchor="end" fill="#3a3a3a">150</text>
<text x="329.4" y="564" font-size="12.7" text-anchor="middle" fill="#3a3a3a">time (s)</text>
<text x="20.3" y="476.3" font-size="12.7" text-anchor="middle" fill="#3a3a3a" transform="rotate(-90 20.3 476.3)">UPE (m)</text>
<clipPath id="c6"><rect x="105.8" y="418.7" width="234.5" height="72.6"/></clipPath>
<rect x="105.8" y="418.7" width="234.5" height="72.6" fill="#fff" stroke="none" stroke-width="1"/>
<line x1="127.1" y1="418.7" x2="127.1" y2="491.3" stroke="#e7e7e7" stroke-width="1"/>
<line x1="176" y1="418.7" x2="176" y2="491.3" stroke="#e7e7e7" stroke-width="1"/>
<line x1="224.9" y1="418.7" x2="224.9" y2="491.3" stroke="#e7e7e7" stroke-width="1"/>
<line x1="273.8" y1="418.7" x2="273.8" y2="491.3" stroke="#e7e7e7" stroke-width="1"/>
<line x1="322.7" y1="418.7" x2="322.7" y2="491.3" stroke="#e7e7e7" stroke-width="1"/>
<line x1="105.8" y1="476.3" x2="340.3" y2="476.3" stroke="#e7e7e7" stroke-width="1"/>
<line x1="105.8" y1="450.3" x2="340.3" y2="450.3" stroke="#e7e7e7" stroke-width="1"/>
<line x1="105.8" y1="424.4" x2="340.3" y2="424.4" stroke="#e7e7e7" stroke-width="1"/>
<polyline points="101.9,413.8 108.7,407.8 115.5,401.5 122.3,394.8 129.1,387.8 135.9,380.4 142.7,372.8 149.5,364.8 156.4,356.4 163.2,347.7 170,338.6 176.8,329.2 183.6,319.4 190.4,309.3 197.2,298.8 204,287.9 210.9,276.6 217.7,265 224.5,253 231.3,240.6 238.1,227.8 244.9,214.6 251.7,201.1 258.5,187.1 265.4,172.8 272.2,158 279,142.8 285.8,127.3 292.6,111.3 299.4,94.9 306.2,78.1 313,60.9 319.9,43.2 326.7,25.2 333.5,6.7 340.3,-12.2" fill="none" stroke="#278c27" stroke-width="2.5" stroke-linecap="butt" stroke-linejoin="round" clip-path="url(#c6)"/>
<polyline points="56.7,476.3 106.6,477 127.1,477.3 164.3,483 165.3,477.6" fill="none" stroke="#000000" stroke-width="2.3" stroke-linecap="butt" stroke-linejoin="round" clip-path="url(#c6)"/>
<polyline points="56.7,476.3 106.6,475 112.4,474.4 117.3,476.3 229.8,477.8 244.5,478.3 249.4,476.3 283.6,474.7 293.4,474.7 298.3,476.3 340.3,476.3" fill="none" stroke="#ffff00" stroke-width="2.3" stroke-linecap="butt" stroke-linejoin="round" clip-path="url(#c6)"/>
<polyline points="-68.5,476.3 106.6,477.3 340.3,477.3" fill="none" stroke="#ff0000" stroke-width="2.3" stroke-linecap="butt" stroke-linejoin="round" clip-path="url(#c6)"/>
<polyline points="-68.5,476.3 106.6,477 340.3,477" fill="none" stroke="#00ff00" stroke-width="2.3" stroke-linecap="butt" stroke-linejoin="round" clip-path="url(#c6)"/>
<polyline points="-68.5,476.3 106.6,476.8 224.9,477.8 254.2,478.1 259.1,476.8 340.3,476.8" fill="none" stroke="#0000ff" stroke-width="2.3" stroke-linecap="butt" stroke-linejoin="round" clip-path="url(#c6)"/>
<polyline points="-68.5,476.3 106.6,475.7 224.9,478.9 340.3,477.3" fill="none" stroke="#00ffff" stroke-width="2.3" stroke-linecap="butt" stroke-linejoin="round" clip-path="url(#c6)"/>
<polyline points="20.5,476.3 106.6,476.8 322.7,477 340.3,477.8" fill="none" stroke="#ff00ff" stroke-width="2.3" stroke-linecap="butt" stroke-linejoin="round" clip-path="url(#c6)"/>
<polyline points="-68.5,476.3 106.6,484 166.2,482.5 171.1,480.4 224.9,477.3 254.2,475.7 340.3,476.3" fill="none" stroke="#ff0000" stroke-width="2.3" stroke-linecap="butt" stroke-linejoin="round" stroke-dasharray="2.2 2.6" clip-path="url(#c6)"/>
<polyline points="-68.5,476.3 106.6,482.5 166.2,481.4 171.1,477.3 205.4,475.7 224.9,474.2 254.2,471.6 283.6,472.1 293.4,471.1 322.7,472.1 340.3,471.1" fill="none" stroke="#00ff00" stroke-width="2.3" stroke-linecap="butt" stroke-linejoin="round" stroke-dasharray="2.2 2.6" clip-path="url(#c6)"/>
<polyline points="-68.5,476.3 106.6,480.4 166.2,481.4 169.2,473.1 185.8,471.1 224.9,470.6 234.7,466.9 254.2,464.9 283.6,465.4 298.3,464.3 322.7,465.9 340.3,466.9" fill="none" stroke="#0000ff" stroke-width="2.3" stroke-linecap="butt" stroke-linejoin="round" stroke-dasharray="2.2 2.6" clip-path="url(#c6)"/>
<polyline points="-68.5,476.3 106.6,481.4 127.1,481.4 146.7,485.6 164.3,490.8 167.2,488.7 169.2,472.1 185.8,469 205.4,465.9 222,463.3 234.7,464.9 268.9,465.9 293.4,462.3 308,462.8 322.7,460.7 340.3,460.2" fill="none" stroke="#00ffff" stroke-width="2.3" stroke-linecap="butt" stroke-linejoin="round" stroke-dasharray="2.2 2.6" clip-path="url(#c6)"/>
<polyline points="105.6,473.7 106.6,471.1 109.5,461.7 127.1,454.5 146.7,445.1 176,437.9 193.6,431.7 196.5,432.2 198.5,440 224.9,440 254.2,437.4 283.6,436.9 286.5,430.6 303.1,425.4 322.7,421.3 340.3,418.2" fill="none" stroke="#ff00ff" stroke-width="2.3" stroke-linecap="butt" stroke-linejoin="round" stroke-dasharray="2.2 2.6" clip-path="url(#c6)"/>
<rect x="105.8" y="418.7" width="234.5" height="72.6" fill="none" stroke="#555555" stroke-width="1"/>
<line x1="127.1" y1="491.3" x2="127.1" y2="488.8" stroke="#555555" stroke-width="1"/>
<line x1="127.1" y1="418.7" x2="127.1" y2="421.2" stroke="#555555" stroke-width="1"/>
<text x="127.1" y="506.7" font-size="11.5" text-anchor="middle" fill="#3a3a3a">200</text>
<line x1="176" y1="491.3" x2="176" y2="488.8" stroke="#555555" stroke-width="1"/>
<line x1="176" y1="418.7" x2="176" y2="421.2" stroke="#555555" stroke-width="1"/>
<text x="176" y="506.7" font-size="11.5" text-anchor="middle" fill="#3a3a3a">250</text>
<line x1="224.9" y1="491.3" x2="224.9" y2="488.8" stroke="#555555" stroke-width="1"/>
<line x1="224.9" y1="418.7" x2="224.9" y2="421.2" stroke="#555555" stroke-width="1"/>
<text x="224.9" y="506.7" font-size="11.5" text-anchor="middle" fill="#3a3a3a">300</text>
<line x1="273.8" y1="491.3" x2="273.8" y2="488.8" stroke="#555555" stroke-width="1"/>
<line x1="273.8" y1="418.7" x2="273.8" y2="421.2" stroke="#555555" stroke-width="1"/>
<text x="273.8" y="506.7" font-size="11.5" text-anchor="middle" fill="#3a3a3a">350</text>
<line x1="322.7" y1="491.3" x2="322.7" y2="488.8" stroke="#555555" stroke-width="1"/>
<line x1="322.7" y1="418.7" x2="322.7" y2="421.2" stroke="#555555" stroke-width="1"/>
<text x="322.7" y="506.7" font-size="11.5" text-anchor="middle" fill="#3a3a3a">400</text>
<line x1="105.8" y1="476.3" x2="108.3" y2="476.3" stroke="#555555" stroke-width="1"/>
<line x1="340.3" y1="476.3" x2="337.8" y2="476.3" stroke="#555555" stroke-width="1"/>
<text x="102.1" y="480.1" font-size="11.5" text-anchor="end" fill="#3a3a3a">0</text>
<line x1="105.8" y1="450.3" x2="108.3" y2="450.3" stroke="#555555" stroke-width="1"/>
<line x1="340.3" y1="450.3" x2="337.8" y2="450.3" stroke="#555555" stroke-width="1"/>
<text x="102.1" y="454.1" font-size="11.5" text-anchor="end" fill="#3a3a3a">10</text>
<line x1="105.8" y1="424.4" x2="108.3" y2="424.4" stroke="#555555" stroke-width="1"/>
<line x1="340.3" y1="424.4" x2="337.8" y2="424.4" stroke="#555555" stroke-width="1"/>
<text x="102.1" y="428.2" font-size="11.5" text-anchor="end" fill="#3a3a3a">20</text>
<line x1="371.5" y1="508" x2="394.2" y2="513.4" stroke="#1f9bf5" stroke-width="3.0"/>
<polygon points="401,515 392.3,516.9 394.1,509.4" fill="#1f9bf5"/>
<rect x="696.3" y="18.2" width="545.9" height="80.1" fill="#fff" stroke="#555555" stroke-width="1"/>
<line x1="699.9" y1="26.8" x2="722.4" y2="26.8" stroke="#278c27" stroke-width="2.3"/>
<text x="726" y="31.4" font-size="13.2" text-anchor="start" fill="#222">INS</text>
<line x1="699.9" y1="42.8" x2="722.4" y2="42.8" stroke="#000000" stroke-width="2.3"/>
<text x="726" y="47.4" font-size="13.2" text-anchor="start" fill="#222">Standard INS+LEO2</text>
<line x1="699.9" y1="58.8" x2="722.4" y2="58.8" stroke="#ffff00" stroke-width="2.3"/>
<text x="726" y="63.4" font-size="13.2" text-anchor="start" fill="#222">Standard INS+LEO2+Altimeter</text>
<line x1="699.9" y1="74.8" x2="722.4" y2="74.8" stroke="#ff0000" stroke-width="2.3"/>
<text x="726" y="79.4" font-size="13.2" text-anchor="start" fill="#222">Unbiased altimeter+5 s switching</text>
<line x1="699.9" y1="90.8" x2="722.4" y2="90.8" stroke="#00ff00" stroke-width="2.3"/>
<text x="726" y="95.4" font-size="13.2" text-anchor="start" fill="#222">Unbiased altimeter+10 s switching</text>
<line x1="916.3" y1="26.8" x2="938.8" y2="26.8" stroke="#0000ff" stroke-width="2.3"/>
<text x="942.8" y="31.4" font-size="13.2" text-anchor="start" fill="#222">Unbiased altimeter+30 s switching</text>
<line x1="916.3" y1="42.8" x2="938.8" y2="42.8" stroke="#00ffff" stroke-width="2.3"/>
<text x="942.8" y="47.4" font-size="13.2" text-anchor="start" fill="#222">Unbiased altimeter+60 s switching</text>
<line x1="916.3" y1="58.8" x2="938.8" y2="58.8" stroke="#ff00ff" stroke-width="2.3"/>
<text x="942.8" y="63.4" font-size="13.2" text-anchor="start" fill="#222">Unbiased altimeter+90 s switching</text>
<line x1="916.3" y1="74.8" x2="938.8" y2="74.8" stroke="#ff0000" stroke-width="2.4" stroke-dasharray="2.2 2.8"/>
<text x="942.8" y="79.4" font-size="13.2" text-anchor="start" fill="#222">5 s switching</text>
<line x1="916.3" y1="90.8" x2="938.8" y2="90.8" stroke="#00ff00" stroke-width="2.4" stroke-dasharray="2.2 2.8"/>
<text x="942.8" y="95.4" font-size="13.2" text-anchor="start" fill="#222">10 s switching</text>
<line x1="1131.7" y1="26.8" x2="1155" y2="26.8" stroke="#0000ff" stroke-width="2.4" stroke-dasharray="2.2 2.8"/>
<text x="1158.7" y="31.4" font-size="13.2" text-anchor="start" fill="#222">30 s switching</text>
<line x1="1131.7" y1="42.8" x2="1155" y2="42.8" stroke="#00ffff" stroke-width="2.4" stroke-dasharray="2.2 2.8"/>
<text x="1158.7" y="47.4" font-size="13.2" text-anchor="start" fill="#222">60 s switching</text>
<line x1="1131.7" y1="58.8" x2="1155" y2="58.8" stroke="#ff00ff" stroke-width="2.4" stroke-dasharray="2.2 2.8"/>
<text x="1158.7" y="63.4" font-size="13.2" text-anchor="start" fill="#222">I90 s switching</text>
<clipPath id="c7"><rect x="696" y="105.7" width="545.8" height="116.6"/></clipPath>
<rect x="696" y="105.7" width="545.8" height="116.6" fill="#fff" stroke="none" stroke-width="1"/>
<line x1="761.3" y1="105.7" x2="761.3" y2="222.3" stroke="#e7e7e7" stroke-width="1"/>
<line x1="826.6" y1="105.7" x2="826.6" y2="222.3" stroke="#e7e7e7" stroke-width="1"/>
<line x1="891.9" y1="105.7" x2="891.9" y2="222.3" stroke="#e7e7e7" stroke-width="1"/>
<line x1="957.1" y1="105.7" x2="957.1" y2="222.3" stroke="#e7e7e7" stroke-width="1"/>
<line x1="1022.4" y1="105.7" x2="1022.4" y2="222.3" stroke="#e7e7e7" stroke-width="1"/>
<line x1="1087.7" y1="105.7" x2="1087.7" y2="222.3" stroke="#e7e7e7" stroke-width="1"/>
<line x1="1153" y1="105.7" x2="1153" y2="222.3" stroke="#e7e7e7" stroke-width="1"/>
<line x1="1218.3" y1="105.7" x2="1218.3" y2="222.3" stroke="#e7e7e7" stroke-width="1"/>
<line x1="696" y1="208" x2="1241.8" y2="208" stroke="#e7e7e7" stroke-width="1"/>
<line x1="696" y1="178.1" x2="1241.8" y2="178.1" stroke="#e7e7e7" stroke-width="1"/>
<line x1="696" y1="148.1" x2="1241.8" y2="148.1" stroke="#e7e7e7" stroke-width="1"/>
<line x1="696" y1="118.1" x2="1241.8" y2="118.1" stroke="#e7e7e7" stroke-width="1"/>
<polyline points="696,208 699.4,207.9 704.2,207.7 709.1,207.4 712.4,207.1 715.8,206.6 722.1,205.8 732.8,204.6 746.3,203.1 761.3,201.3 779.2,198.8 798.5,196 813.5,193.8 818.8,193 819.8,192.8 826.6,191.5 844.5,188.4 868.2,184.3 891.9,180.3 914.1,177 936.4,173.8 957.1,170.6 977,166.7 995.4,162.7 1009.4,159.6 1014.7,158.6 1015.7,158.6 1022.4,157.2 1040.3,153.5 1064,148.4 1087.7,143.2 1109.5,138.1 1131.2,132.9 1153,127.6 1176.3,121.9 1199.6,116.1 1218.3,111.5 1230.1,108.6 1237.3,106.8 1241.8,105.7" fill="none" stroke="#278c27" stroke-width="2.5" stroke-linecap="butt" stroke-linejoin="round" clip-path="url(#c7)"/>
<polyline points="696,208.1 698,208.1 700,208.1 702,208.1 704,208.3 706,208.4 708.1,208.4 710.1,208.5 712.1,208.6 714.1,208.6 716.1,208.7 718.1,208.7 720.1,208.9 722.1,209 724.3,209.1 726.5,209.4 728.6,209.6 730.8,209.8 733,210 735.2,210.3 737.1,210.3 739.1,210.3 741,210.5 743,210.5 745,210.6 746.9,210.6 748.9,210.7 750.8,210.8 752.8,210.7 754.8,210.7 756.7,210.7 758.7,210.8 760.6,210.8 762.6,210.8 764.6,210.9 766.5,211 768.5,211 770.4,211.1 772.4,211.2 774.3,211.3 776.4,211.2 778.4,211.2 780.4,211.2 782.4,211.2 784.4,211.2 786.4,211.2 788.4,211.2 790.4,211.2 792.4,211.2 794.4,211.2 796.4,211.2 798.5,211.3 800.5,211.2 802.4,211.2 804.4,211.2 806.4,211.2 808.4,211.1 810.4,211 812.3,211 814.3,211 816.3,210.9 818.3,210.9 820.3,210.9 822.2,210.9 824.2,210.9 826.2,210.9 828.2,210.7 830.2,210.6 832.1,210.7 834.1,210.8 836.1,210.7 838.1,210.6 840.1,210.7 842,210.6 844,210.5 846,210.5 848,210.5 850,210.4 851.9,210.3 853.9,210.4 855.9,210.4 857.9,210.4 859.8,210.3 861.8,210.3 863.1,206.6 865.1,206.6 867.1,206.6 869.1,206.5 871.1,206.4 873.1,206.4 875.1,206.4 877.1,206.3 879.1,206.3 881.1,206.3 883.1,206.4 885.1,206.4 887.1,206.3 889.1,206.3 891.1,206.2 893.1,206.2 895.1,206.2 897.1,206.1 899.1,206 901.1,206 903.1,205.9 905.1,206 907.1,205.9 909.1,205.9 911.1,205.8 913.1,205.8 915.1,205.8 917.1,205.7 919.1,205.7 921,205.8 923,205.6 925,205.6 927,205.6 929,205.6 931,205.5 933.1,205.6 935.2,205.6 937.3,205.6 939.4,205.6 941.5,205.6 943.6,205.7 945.7,205.7 947.7,205.8 949.8,205.7 951.9,205.7 954.5,205.7 957.1,205.6 959.3,205.6 961.5,205.7 963.7,205.6 965.9,205.6 968,205.5 970.2,205.4 972.4,205.4 974.6,205.3 976.7,205.2 978.9,205.1 981.1,205.1 983.3,205 985.4,205 987.6,204.9 989.8,204.8 992,204.8 994.1,204.6 996.3,204.6 998.5,204.5 1000.7,204.6 1002.8,204.5 1004.8,204.6 1006.8,204.6 1008.1,206 1010.1,206 1012.2,206.1 1014.2,206 1016.3,205.9 1018.3,205.9 1020.4,206 1022.4,205.9 1024.6,205.9 1026.8,205.8 1029,205.8 1031.1,205.7 1033.3,205.7 1035.5,205.8 1036.8,206.2" fill="none" stroke="#000000" stroke-width="2.3" stroke-linecap="butt" stroke-linejoin="round" clip-path="url(#c7)"/>
<polyline points="696,208.1 698,208 700,208 702,207.9 704,208 706,208.1 708.1,208.1 710.1,208.2 712.1,208.1 714.1,208.1 716.1,208.1 718.1,208.1 720.1,208.1 722.1,208.1 724.3,208.2 726.5,208.5 728.6,208.9 730.8,209.1 733,209.4 735.2,209.5 737.1,209.5 739.1,209.5 741,209.5 743,209.5 745,209.5 746.9,209.6 748.9,209.7 750.8,209.7 752.8,209.8 754.8,209.8 756.7,209.9 758.7,209.9 760.6,210 762.6,210.1 764.6,210.1 766.5,210.2 768.5,210.2 770.4,210.1 772.4,210.1 774.3,210.1 776.4,210.2 778.4,210.2 780.4,210.3 782.4,210.2 784.4,210.3 786.4,210.3 788.4,210.4 790.4,210.3 792.4,210.4 794.4,210.3 796.4,210.3 798.5,210.3 800.5,210.4 802.5,210.3 804.5,210.4 806.5,210.4 808.5,210.4 810.5,210.4 812.5,210.4 814.5,210.3 816.5,210.2 818.5,210.3 820.5,210.2 822.6,210.1 824.6,210.3 826.6,210.4 828.5,210.2 830.5,210.1 832.5,210.1 834.4,210.1 836.4,210.1 838.3,210 840.3,209.8 842.2,209.8 844.2,209.9 846.2,209.8 848.1,209.8 850.1,209.7 852,209.8 854,209.6 856,209.6 857.9,209.5 859.9,209.6 861.8,209.5 863.1,207.2 865.1,207.2 867.1,207.3 869.1,207.2 871,207.3 873,207.3 875,207.3 876.9,207.2 878.9,207.3 880.9,207.3 882.9,207.4 884.8,207.3 886.8,207.2 888.8,207.2 890.8,207.3 892.7,207.2 894.7,207.2 896.7,207.3 898.7,207.3 900.6,207.1 902.6,207.2 904.6,207.2 906.5,207.2 908.5,207.1 910.5,207.2 912.5,207.2 914.4,207.1 916.4,207 918.4,207.2 920.4,207.1 922.3,207.1 924.3,206.9 926.3,207 928.2,207 930.2,206.9 932.2,207 934.2,207.1 936.1,207.1 938.1,206.9 940.1,206.9 942.1,207 944,206.9 946,206.8 948,206.9 950,206.9 951.9,206.9 953.9,207 956,207 958,207 960,207 962,207 964,206.9 966.1,207 968.1,206.8 970.1,206.7 972.1,206.8 974.1,206.7 976.1,206.8 978.2,206.7 980.2,206.7 982.2,206.7 984.2,206.7 986.2,206.7 988.2,206.7 990.3,206.5 992.3,206.6 994.3,206.5 996.3,206.5 998.3,206.6 1000.2,206.7 1002.2,206.8 1004.2,206.8 1006.1,206.8 1008.1,206.8 1010,206.8 1012,206.7 1013.9,206.9 1015.9,206.9 1017.9,207.1 1019.8,207.1 1021.8,207.2 1023.7,207.2 1025.7,207.3 1027.7,207.5 1029.6,207.6 1031.6,207.7 1033.5,207.7 1035.5,207.8 1037.5,207.9 1039.4,207.9 1041.4,208 1043.3,208 1045.3,208.1 1047.2,208.1 1049.2,208.1 1051.2,208.1 1053.1,208.2 1055.1,208.2 1057,208.3 1059,208.3 1061,208.3 1062.9,208.2 1064.9,208.2 1066.8,208.3 1068.8,208.4 1070.7,208.4 1072.7,208.3 1074.7,208.3 1076.8,208.2 1079,208 1081.2,208 1083.4,208 1085.5,208 1087.7,208 1089.7,207.8 1091.7,207.9 1093.7,207.9 1095.8,207.8 1097.8,207.7 1099.8,207.8 1101.8,207.9 1103.8,207.9 1105.8,207.9 1107.8,207.9 1109.8,208.1 1111.8,208 1113.8,208.2 1116,208.3 1118.2,208.1 1120.4,208.2 1122.5,208.3 1124.7,208.2 1126.9,208.3 1128.9,208.4 1130.8,208.4 1132.8,208.3 1134.7,208.3 1136.7,208.1 1138.6,208.1 1140.6,208 1142.6,207.9 1144.5,207.9 1146.5,207.7 1148.4,207.8 1150.4,207.9 1152.4,208 1154.3,208 1156.3,207.9 1158.2,208 1160.2,208.1 1162.1,208.2 1164.1,208.2 1166.1,208.3 1168.1,208.2 1170.1,208.3 1172.1,208.1 1174.1,208.2 1176.1,208.2 1178.1,208.1 1180.1,208.1 1182.1,208 1184.1,208 1186.2,208 1188.2,207.9 1190.2,208 1192.2,207.9 1194.2,207.9 1196.2,207.9 1198.2,207.8 1200.2,208 1202.2,207.8 1204.2,207.9 1206.2,207.8 1208.3,207.9 1210.3,208 1212.3,207.9 1214.3,207.8 1216.3,207.8 1218.3,207.8 1220.3,207.8 1222.2,207.8 1224.2,207.8 1226.1,207.9 1228.1,207.9 1230,207.8 1232,207.8 1234,207.8 1235.9,207.9 1237.9,207.8 1239.8,207.8 1241.8,207.7" fill="none" stroke="#ffff00" stroke-width="2.3" stroke-linecap="butt" stroke-linejoin="round" clip-path="url(#c7)"/>
<polyline points="696,208 715.6,208.9 722.1,212.5 735.2,216.7 761.3,220 774.3,217 813.5,215.5 852.7,214.8 931,214 951.9,213.7 976.7,213.4 996.3,213.7 1022.4,213.9 1048.6,214.2 1074.7,214 1094.3,214.2 1126.9,214.2 1140,213.9 1159.5,214.6 1172.6,214.2 1185.7,214 1194.8,214.4 1211.8,214 1224.8,214.3 1241.8,213.6" fill="none" stroke="#ff0000" stroke-width="2.3" stroke-linecap="butt" stroke-linejoin="round" clip-path="url(#c7)"/>
<polyline points="696,208 715.6,208.9 722.1,212.5 735.2,217 761.3,220.8 774.3,222 775.7,217.5 813.5,215.5 852.7,214.8 931,214 951.9,213.6 983.3,213.2 989.8,213.6 1009.4,213.4 1019.8,214.2 1048.6,214 1087.7,213.9 1094.3,214.4 1113.8,214 1126.9,214.4 1146.5,214.3 1159.5,214 1193.5,214 1211.8,213.7 1220.9,213.8 1228.7,214.7 1241.8,214.6" fill="none" stroke="#00ff00" stroke-width="2.3" stroke-linecap="butt" stroke-linejoin="round" clip-path="url(#c7)"/>
<polyline points="696,208 715.6,208.9 722.1,212.5 735.2,217.5 761.3,221.5 774.3,223 775.7,217 813.5,215.2 852.7,214 931,213.4 951.9,213 983.3,212.2 1008.1,211.8 1009.4,212.8 1022.4,213.3 1048.6,213 1087.7,212.9 1089,213.3 1107.3,213 1133.4,213.5 1153,213.2 1166.1,212.8 1172.6,212.3 1193.5,213.4 1207.9,212.6 1241.8,211.9" fill="none" stroke="#0000ff" stroke-width="2.3" stroke-linecap="butt" stroke-linejoin="round" clip-path="url(#c7)"/>
<polyline points="696,208 715.6,208.9 722.1,212.2 735.2,215.2 774.3,217.5 813.5,218.5 852.7,219.7 854,215.2 891.9,214.3 931,213.7 951.9,212.9 983.3,211.4 1008.1,210.4 1009.4,212.5 1022.4,212.6 1032.9,212.3 1048.6,212.9 1061.6,213.2 1087.7,213.2 1126.9,212.3 1166.1,211.2 1167.4,211.9 1179.1,212.1 1193.5,213.6 1207.9,212.2 1218.3,212.3 1230,213.4 1241.8,212.2" fill="none" stroke="#00ffff" stroke-width="2.3" stroke-linecap="butt" stroke-linejoin="round" clip-path="url(#c7)"/>
<polyline points="696,208 715.6,208.9 722.1,212.5 735.2,216.4 748.2,217.5 761.3,217 774.3,216 813.5,214 852.7,213 891.9,211.9 931,210.3 932.3,212.5 951.9,212.3 970.2,212.5 989.8,212.9 1002.8,212.6 1022.4,213.2 1035.5,213 1048.6,213.1 1074.7,212.6 1113.8,211.6 1140,210.7 1166.1,209.5 1167.4,211.6 1179.1,211.8 1193.5,213.3 1207.9,211.9 1218.3,212.1 1230,213.2 1241.8,211.8" fill="none" stroke="#ff00ff" stroke-width="2.3" stroke-linecap="butt" stroke-linejoin="round" clip-path="url(#c7)"/>
<polyline points="696,208 722.1,206.5 813.5,205 931,205.6 951.9,206.6 1009.4,206.4 1022.4,206.7 1087.7,206.9 1153,206.5 1218.3,206.2 1241.8,206.1" fill="none" stroke="#ff0000" stroke-width="2.3" stroke-linecap="butt" stroke-linejoin="round" stroke-dasharray="2.2 2.6" clip-path="url(#c7)"/>
<polyline points="696,208 722.1,206.5 813.5,205.2 931,205.8 951.9,206.7 1009.4,206.5 1022.4,206.8 1087.7,207 1153,206.7 1218.3,206.4 1241.8,206.4" fill="none" stroke="#00ff00" stroke-width="2.3" stroke-linecap="butt" stroke-linejoin="round" stroke-dasharray="2.2 2.6" clip-path="url(#c7)"/>
<polyline points="696,208 722.1,206.5 813.5,205.3 931,205.8 951.9,206.6 1009.4,206.5 1022.4,207.2 1087.7,207.5 1153,207.2 1241.8,206.7" fill="none" stroke="#0000ff" stroke-width="2.3" stroke-linecap="butt" stroke-linejoin="round" stroke-dasharray="2.2 2.6" clip-path="url(#c7)"/>
<polyline points="696,208 722.1,206.5 813.5,205.3 931,205.6 951.9,205.9 996.3,205.6 1006.8,205 1009.4,206.1 1022.4,207.5 1087.7,207.5 1153,207.2 1241.8,206.9" fill="none" stroke="#00ffff" stroke-width="2.3" stroke-linecap="butt" stroke-linejoin="round" stroke-dasharray="2.2 2.6" clip-path="url(#c7)"/>
<polyline points="696,208 722.1,206.2 761.3,204 800.5,202.2 812.2,201.3 814.8,205 852.7,205 891.9,205 931,204.4 932.3,210.7 951.9,210.3 970.2,210.7 1009.4,211.1 1045.9,211.4 1048.6,209.9 1087.7,209.7 1153,209.2 1166.1,209.1 1168.7,209.7 1218.3,210 1241.8,210.1" fill="none" stroke="#ff00ff" stroke-width="2.3" stroke-linecap="butt" stroke-linejoin="round" stroke-dasharray="2.2 2.6" clip-path="url(#c7)"/>
<rect x="696" y="105.7" width="545.8" height="116.6" fill="none" stroke="#555555" stroke-width="1"/>
<line x1="696" y1="222.3" x2="696" y2="218.3" stroke="#555555" stroke-width="1"/>
<line x1="696" y1="105.7" x2="696" y2="109.7" stroke="#555555" stroke-width="1"/>
<text x="696" y="238.1" font-size="11.5" text-anchor="middle" fill="#3a3a3a">0</text>
<line x1="761.3" y1="222.3" x2="761.3" y2="218.3" stroke="#555555" stroke-width="1"/>
<line x1="761.3" y1="105.7" x2="761.3" y2="109.7" stroke="#555555" stroke-width="1"/>
<text x="761.3" y="238.1" font-size="11.5" text-anchor="middle" fill="#3a3a3a">50</text>
<line x1="826.6" y1="222.3" x2="826.6" y2="218.3" stroke="#555555" stroke-width="1"/>
<line x1="826.6" y1="105.7" x2="826.6" y2="109.7" stroke="#555555" stroke-width="1"/>
<text x="826.6" y="238.1" font-size="11.5" text-anchor="middle" fill="#3a3a3a">100</text>
<line x1="891.9" y1="222.3" x2="891.9" y2="218.3" stroke="#555555" stroke-width="1"/>
<line x1="891.9" y1="105.7" x2="891.9" y2="109.7" stroke="#555555" stroke-width="1"/>
<text x="891.9" y="238.1" font-size="11.5" text-anchor="middle" fill="#3a3a3a">150</text>
<line x1="957.1" y1="222.3" x2="957.1" y2="218.3" stroke="#555555" stroke-width="1"/>
<line x1="957.1" y1="105.7" x2="957.1" y2="109.7" stroke="#555555" stroke-width="1"/>
<text x="957.1" y="238.1" font-size="11.5" text-anchor="middle" fill="#3a3a3a">200</text>
<line x1="1022.4" y1="222.3" x2="1022.4" y2="218.3" stroke="#555555" stroke-width="1"/>
<line x1="1022.4" y1="105.7" x2="1022.4" y2="109.7" stroke="#555555" stroke-width="1"/>
<text x="1022.4" y="238.1" font-size="11.5" text-anchor="middle" fill="#3a3a3a">250</text>
<line x1="1087.7" y1="222.3" x2="1087.7" y2="218.3" stroke="#555555" stroke-width="1"/>
<line x1="1087.7" y1="105.7" x2="1087.7" y2="109.7" stroke="#555555" stroke-width="1"/>
<text x="1087.7" y="238.1" font-size="11.5" text-anchor="middle" fill="#3a3a3a">300</text>
<line x1="1153" y1="222.3" x2="1153" y2="218.3" stroke="#555555" stroke-width="1"/>
<line x1="1153" y1="105.7" x2="1153" y2="109.7" stroke="#555555" stroke-width="1"/>
<text x="1153" y="238.1" font-size="11.5" text-anchor="middle" fill="#3a3a3a">350</text>
<line x1="1218.3" y1="222.3" x2="1218.3" y2="218.3" stroke="#555555" stroke-width="1"/>
<line x1="1218.3" y1="105.7" x2="1218.3" y2="109.7" stroke="#555555" stroke-width="1"/>
<text x="1218.3" y="238.1" font-size="11.5" text-anchor="middle" fill="#3a3a3a">400</text>
<line x1="696" y1="208" x2="700" y2="208" stroke="#555555" stroke-width="1"/>
<line x1="1241.8" y1="208" x2="1237.8" y2="208" stroke="#555555" stroke-width="1"/>
<text x="691" y="211.8" font-size="11.5" text-anchor="end" fill="#3a3a3a">0</text>
<line x1="696" y1="178.1" x2="700" y2="178.1" stroke="#555555" stroke-width="1"/>
<line x1="1241.8" y1="178.1" x2="1237.8" y2="178.1" stroke="#555555" stroke-width="1"/>
<text x="691" y="181.9" font-size="11.5" text-anchor="end" fill="#3a3a3a">2</text>
<line x1="696" y1="148.1" x2="700" y2="148.1" stroke="#555555" stroke-width="1"/>
<line x1="1241.8" y1="148.1" x2="1237.8" y2="148.1" stroke="#555555" stroke-width="1"/>
<text x="691" y="151.9" font-size="11.5" text-anchor="end" fill="#3a3a3a">4</text>
<line x1="696" y1="118.1" x2="700" y2="118.1" stroke="#555555" stroke-width="1"/>
<line x1="1241.8" y1="118.1" x2="1237.8" y2="118.1" stroke="#555555" stroke-width="1"/>
<text x="691" y="121.9" font-size="11.5" text-anchor="end" fill="#3a3a3a">6</text>
<text x="968.9" y="252.6" font-size="12.7" text-anchor="middle" fill="#3a3a3a">time (s)</text>
<text x="660.5" y="164" font-size="12.7" text-anchor="middle" fill="#3a3a3a" transform="rotate(-90 660.5 164)">EVE (m/s)</text>
<clipPath id="c8"><rect x="741.9" y="105.4" width="191.3" height="68"/></clipPath>
<rect x="741.9" y="105.4" width="191.3" height="68" fill="#fff" stroke="none" stroke-width="1"/>
<line x1="745.4" y1="105.4" x2="745.4" y2="173.4" stroke="#e7e7e7" stroke-width="1"/>
<line x1="788.5" y1="105.4" x2="788.5" y2="173.4" stroke="#e7e7e7" stroke-width="1"/>
<line x1="831.7" y1="105.4" x2="831.7" y2="173.4" stroke="#e7e7e7" stroke-width="1"/>
<line x1="874.9" y1="105.4" x2="874.9" y2="173.4" stroke="#e7e7e7" stroke-width="1"/>
<line x1="918.1" y1="105.4" x2="918.1" y2="173.4" stroke="#e7e7e7" stroke-width="1"/>
<line x1="741.9" y1="108.9" x2="933.2" y2="108.9" stroke="#e7e7e7" stroke-width="1"/>
<line x1="741.9" y1="127.8" x2="933.2" y2="127.8" stroke="#e7e7e7" stroke-width="1"/>
<line x1="741.9" y1="146.7" x2="933.2" y2="146.7" stroke="#e7e7e7" stroke-width="1"/>
<line x1="741.9" y1="165.6" x2="933.2" y2="165.6" stroke="#e7e7e7" stroke-width="1"/>
<polyline points="731.6,-87.8 745.4,-108.5 758.5,-132.9 770.6,-158.2 779.9,-177.5 783.4,-183.8 784.1,-184.1 788.5,-192.6 800.4,-216.4 816,-248.4 831.7,-281.4 846.1,-313.4 860.5,-346.4 874.9,-379.7 890.3,-415.6 905.7,-451.8 918.1,-480.8 925.9,-499.3 930.6,-510.5 933.6,-517.7" fill="none" stroke="#278c27" stroke-width="2.5" stroke-linecap="butt" stroke-linejoin="round" clip-path="url(#c8)"/>
<polyline points="740.5,113.1 741.9,113.4 743.6,113 745.4,112.4 746.8,112.5 748.2,112.8 749.7,112.7 751.1,112.5 752.6,112 754,111.4 755.4,111.1 756.9,110.6 758.3,110.2 759.7,109.3 761.2,109.3 762.6,108.6 764.1,108.6 765.5,107.9 766.9,107.4 768.4,107.3 769.8,106.4 771.3,106 772.7,105.7 774.1,106 775.6,105.6 776.9,106 778.2,106.2 779,115.2 780.4,114.8 781.8,115.4 783.1,115 784.5,114.4 785.8,114.4 787.2,114.9 788.5,114.3 790,114.4 791.4,113.8 792.9,113.5 794.3,113.4 795.7,113.2 797.2,114 798,116.5" fill="none" stroke="#000000" stroke-width="2.3" stroke-linecap="butt" stroke-linejoin="round" clip-path="url(#c8)"/>
<polyline points="740.6,120.7 741.9,120.9 743.2,121.1 744.6,121.2 745.9,121.3 747.2,121 748.6,121.3 749.9,120.9 751.2,121.1 752.6,120.1 753.9,119.7 755.2,120.4 756.6,119.5 757.9,119.9 759.3,119.6 760.6,119.2 761.9,119.3 763.3,119.4 764.6,119.2 765.9,119.4 767.3,118.4 768.6,118.9 769.9,118.1 771.3,118.5 772.6,118.9 773.9,119.2 775.2,119.9 776.4,120.4 777.7,120.4 779,120.4 780.3,119.8 781.6,119.4 782.9,120.7 784.2,120.9 785.5,121.9 786.8,121.7 788.1,122.6 789.4,122.4 790.7,123.1 792,124.3 793.3,125.4 794.6,126 795.9,125.5 797.2,126.6 798.5,126.8 799.8,127.3 801.1,127.7 802.4,127.5 803.7,128.4 804.9,128.3 806.2,128.5 807.5,128.4 808.8,129.1 810.1,129.1 811.4,129.5 812.7,129.6 814,129.5 815.3,129.1 816.6,128.7 817.9,129.7 819.2,130.2 820.5,129.9 821.8,129.3 823.1,129.3 824.5,129.1 826,127.8 827.4,127.7 828.8,127.8 830.3,127.7 831.7,127.4 833,126.7 834.4,127.3 835.7,126.8 837,126.4 838.4,126 839.7,126.2 841,126.9 842.3,127.1 843.7,127 845,127.2 846.3,128.1 847.7,128 849,128.9 850.4,129.3 851.9,128.5 853.3,128.9 854.8,129.5 856.2,129.1 857.6,129.4 858.9,130 860.2,130.2 861.5,129.8 862.8,129.4 864.1,128.1 865.4,128.3 866.7,127.4 868,126.7 869.3,126.9 870.6,126 871.9,126.2 873.2,126.7 874.5,127.5 875.8,127.7 877.1,127.2 878.4,127.6 879.7,128.4 880.9,128.6 882.2,128.7 883.5,129.3 884.9,128.8 886.2,129.3 887.5,128.4 888.9,128.8 890.2,129.1 891.5,128.5 892.8,128.6 894.2,127.7 895.5,127.7 896.8,127.7 898.2,127.1 899.5,127.7 900.8,127.2 902.1,127 903.5,127.2 904.8,126.5 906.1,127.4 907.5,126.7 908.8,127.3 910.1,126.6 911.4,127.1 912.8,127.6 914.1,127.2 915.4,126.2 916.8,126.6 918.1,126.5 919.4,126.3 920.7,126.7 922,126.5 923.3,127.1 924.6,126.8 925.9,126.2 927.2,126.4 928.4,126.7 929.7,127.1 931,126.4 932.3,126.4 933.6,125.6" fill="none" stroke="#ffff00" stroke-width="2.3" stroke-linecap="butt" stroke-linejoin="round" clip-path="url(#c8)"/>
<polyline points="728.1,165.6 741.9,163.7 758.3,162 771.3,163.8 788.5,164.7 805.8,166.5 823.1,165.6 836,166.8 857.6,166.5 866.3,164.7 879.2,169.1 887.9,166.5 896.5,165.6 902.5,168.2 913.8,165.6 922.4,167.3 933.6,163" fill="none" stroke="#ff0000" stroke-width="2.3" stroke-linecap="butt" stroke-linejoin="round" clip-path="url(#c8)"/>
<polyline points="728.1,165.6 741.9,163 762.6,160.3 766.9,163 779.9,162 786.8,166.5 805.8,165.6 831.7,164.7 836,167.9 849,165.6 857.6,168.2 870.6,167.3 879.2,165.6 901.7,165.6 913.8,163.8 919.8,164.4 925,170 933.6,169.1" fill="none" stroke="#00ff00" stroke-width="2.3" stroke-linecap="butt" stroke-linejoin="round" clip-path="url(#c8)"/>
<polyline points="728.1,161.8 741.9,159.5 762.6,154.2 779,151.4 779.9,157.7 788.5,160.9 805.8,159.5 831.7,158.5 832.6,161.2 844.7,159 861.9,162.6 874.9,160.3 883.5,157.7 887.9,155 901.7,162 911.2,156.8 933.6,152.4" fill="none" stroke="#0000ff" stroke-width="2.3" stroke-linecap="butt" stroke-linejoin="round" clip-path="url(#c8)"/>
<polyline points="728.1,163.7 741.9,158.5 762.6,148.9 779,142.7 779.9,155.9 788.5,156.8 795.4,154.5 805.8,158.5 814.4,160.3 831.7,160.3 857.6,155 883.5,148 884.4,152.4 892.2,153.3 901.7,163 911.2,154.2 918.1,155 925.9,162 933.6,154.2" fill="none" stroke="#00ffff" stroke-width="2.3" stroke-linecap="butt" stroke-linejoin="round" clip-path="url(#c8)"/>
<polyline points="728.9,156.2 741.9,155 754,155.9 766.9,158.5 775.6,156.8 788.5,160.3 797.2,159 805.8,159.7 823.1,156.8 849,150.5 866.3,144.5 883.5,137.2 884.4,150.3 892.2,151.4 901.7,161.2 911.2,152.4 918.1,153.8 925.9,160.3 933.6,151.4" fill="none" stroke="#ff00ff" stroke-width="2.3" stroke-linecap="butt" stroke-linejoin="round" clip-path="url(#c8)"/>
<polyline points="728.1,112.7 741.9,119 779.9,117.4 788.5,119.3 831.7,120.4 874.9,118.2 918.1,116 933.6,115.5" fill="none" stroke="#ff0000" stroke-width="2.3" stroke-linecap="butt" stroke-linejoin="round" stroke-dasharray="2.2 2.6" clip-path="url(#c8)"/>
<polyline points="728.1,113.6 741.9,119.3 779.9,118.3 788.5,120.2 831.7,121.7 874.9,119.3 918.1,117.9 933.6,117.4" fill="none" stroke="#00ff00" stroke-width="2.3" stroke-linecap="butt" stroke-linejoin="round" stroke-dasharray="2.2 2.6" clip-path="url(#c8)"/>
<polyline points="728.1,113.6 741.9,119 779.9,118.2 788.5,122.5 831.7,124.3 874.9,122.5 933.6,119.3" fill="none" stroke="#0000ff" stroke-width="2.3" stroke-linecap="butt" stroke-linejoin="round" stroke-dasharray="2.2 2.6" clip-path="url(#c8)"/>
<polyline points="728.1,112.7 741.9,114.6 771.3,112.7 778.2,108.5 779.9,115.5 788.5,124.3 831.7,124.3 874.9,122.5 933.6,120.8" fill="none" stroke="#00ffff" stroke-width="2.3" stroke-linecap="butt" stroke-linejoin="round" stroke-dasharray="2.2 2.6" clip-path="url(#c8)"/>
<polyline points="728.9,144.8 741.9,142.2 754,145 779.9,147.1 804.1,148.9 805.8,139.7 831.7,138.2 874.9,135.2 883.5,134.4 885.3,138.7 918.1,140.1 933.6,140.7" fill="none" stroke="#ff00ff" stroke-width="2.3" stroke-linecap="butt" stroke-linejoin="round" stroke-dasharray="2.2 2.6" clip-path="url(#c8)"/>
<rect x="741.9" y="105.4" width="191.3" height="68" fill="none" stroke="#555555" stroke-width="1"/>
<line x1="745.4" y1="173.4" x2="745.4" y2="170.9" stroke="#555555" stroke-width="1"/>
<line x1="745.4" y1="105.4" x2="745.4" y2="107.9" stroke="#555555" stroke-width="1"/>
<text x="745.4" y="188.2" font-size="11.5" text-anchor="middle" fill="#3a3a3a">200</text>
<line x1="788.5" y1="173.4" x2="788.5" y2="170.9" stroke="#555555" stroke-width="1"/>
<line x1="788.5" y1="105.4" x2="788.5" y2="107.9" stroke="#555555" stroke-width="1"/>
<text x="788.5" y="188.2" font-size="11.5" text-anchor="middle" fill="#3a3a3a">250</text>
<line x1="831.7" y1="173.4" x2="831.7" y2="170.9" stroke="#555555" stroke-width="1"/>
<line x1="831.7" y1="105.4" x2="831.7" y2="107.9" stroke="#555555" stroke-width="1"/>
<text x="831.7" y="188.2" font-size="11.5" text-anchor="middle" fill="#3a3a3a">300</text>
<line x1="874.9" y1="173.4" x2="874.9" y2="170.9" stroke="#555555" stroke-width="1"/>
<line x1="874.9" y1="105.4" x2="874.9" y2="107.9" stroke="#555555" stroke-width="1"/>
<text x="874.9" y="188.2" font-size="11.5" text-anchor="middle" fill="#3a3a3a">350</text>
<line x1="918.1" y1="173.4" x2="918.1" y2="170.9" stroke="#555555" stroke-width="1"/>
<line x1="918.1" y1="105.4" x2="918.1" y2="107.9" stroke="#555555" stroke-width="1"/>
<text x="918.1" y="188.2" font-size="11.5" text-anchor="middle" fill="#3a3a3a">400</text>
<line x1="741.9" y1="108.9" x2="744.4" y2="108.9" stroke="#555555" stroke-width="1"/>
<line x1="933.2" y1="108.9" x2="930.7" y2="108.9" stroke="#555555" stroke-width="1"/>
<text x="738.2" y="112.7" font-size="11.5" text-anchor="end" fill="#3a3a3a">0.2</text>
<line x1="741.9" y1="127.8" x2="744.4" y2="127.8" stroke="#555555" stroke-width="1"/>
<line x1="933.2" y1="127.8" x2="930.7" y2="127.8" stroke="#555555" stroke-width="1"/>
<text x="738.2" y="131.6" font-size="11.5" text-anchor="end" fill="#3a3a3a">0</text>
<line x1="741.9" y1="146.7" x2="744.4" y2="146.7" stroke="#555555" stroke-width="1"/>
<line x1="933.2" y1="146.7" x2="930.7" y2="146.7" stroke="#555555" stroke-width="1"/>
<text x="738.2" y="150.5" font-size="11.5" text-anchor="end" fill="#3a3a3a">-0.2</text>
<line x1="741.9" y1="165.6" x2="744.4" y2="165.6" stroke="#555555" stroke-width="1"/>
<line x1="933.2" y1="165.6" x2="930.7" y2="165.6" stroke="#555555" stroke-width="1"/>
<text x="738.2" y="169.4" font-size="11.5" text-anchor="end" fill="#3a3a3a">-0.4</text>
<line x1="948" y1="184" x2="968.8" y2="194.8" stroke="#1f9bf5" stroke-width="3.0"/>
<polygon points="975,198 966.1,197.8 969.7,190.9" fill="#1f9bf5"/>
<clipPath id="c9"><rect x="696" y="262.7" width="545.8" height="115.6"/></clipPath>
<rect x="696" y="262.7" width="545.8" height="115.6" fill="#fff" stroke="none" stroke-width="1"/>
<line x1="761.3" y1="262.7" x2="761.3" y2="378.3" stroke="#e7e7e7" stroke-width="1"/>
<line x1="826.6" y1="262.7" x2="826.6" y2="378.3" stroke="#e7e7e7" stroke-width="1"/>
<line x1="891.9" y1="262.7" x2="891.9" y2="378.3" stroke="#e7e7e7" stroke-width="1"/>
<line x1="957.1" y1="262.7" x2="957.1" y2="378.3" stroke="#e7e7e7" stroke-width="1"/>
<line x1="1022.4" y1="262.7" x2="1022.4" y2="378.3" stroke="#e7e7e7" stroke-width="1"/>
<line x1="1087.7" y1="262.7" x2="1087.7" y2="378.3" stroke="#e7e7e7" stroke-width="1"/>
<line x1="1153" y1="262.7" x2="1153" y2="378.3" stroke="#e7e7e7" stroke-width="1"/>
<line x1="1218.3" y1="262.7" x2="1218.3" y2="378.3" stroke="#e7e7e7" stroke-width="1"/>
<line x1="696" y1="272.2" x2="1241.8" y2="272.2" stroke="#e7e7e7" stroke-width="1"/>
<line x1="696" y1="314.2" x2="1241.8" y2="314.2" stroke="#e7e7e7" stroke-width="1"/>
<line x1="696" y1="356.2" x2="1241.8" y2="356.2" stroke="#e7e7e7" stroke-width="1"/>
<polyline points="696,272.2 761.3,279.9 826.6,289 891.9,299.1 957.1,311.7 1022.4,326 1087.7,341.1 1153,357.5 1218.3,373.7 1241.8,378.5" fill="none" stroke="#278c27" stroke-width="2.5" stroke-linecap="butt" stroke-linejoin="round" clip-path="url(#c9)"/>
<polyline points="696,272.2 826.6,271.7 891.9,271.7 928.4,272.2 996.3,271.9 1022.4,272.2 1172.6,272.1 1241.8,272.2" fill="none" stroke="#ffff00" stroke-width="2.3" stroke-linecap="butt" stroke-linejoin="round" clip-path="url(#c9)"/>
<polyline points="696,272.2 928.4,274.3 1009.4,275.9 1022.4,274.8 1035.5,274.5 1055.1,275 1087.7,274.8 1126.9,275 1133.4,274.3 1146.5,274.5 1159.5,276.2 1168.7,274.5 1185.7,275 1193.5,275.7 1205.2,274.3 1218.3,274 1228.7,275.7 1237.9,273.1 1241.8,272.9" fill="none" stroke="#ff0000" stroke-width="2.3" stroke-linecap="butt" stroke-linejoin="round" clip-path="url(#c9)"/>
<polyline points="696,272.2 928.4,273.6 957.1,274 1009.4,275.2 1022.4,274.3 1087.7,274.5 1094.3,275 1113.8,274.5 1140,275 1166.1,274.8 1168.7,273.4 1193.5,274.3 1205.2,273.4 1218.3,273.4 1228.7,276.7 1241.8,276.4" fill="none" stroke="#00ff00" stroke-width="2.3" stroke-linecap="butt" stroke-linejoin="round" clip-path="url(#c9)"/>
<polyline points="696,272.2 774.3,274.3 775.7,272.2 852.7,274.3 928.4,274 933.6,271.7 957.1,272.2 967.6,271.4 989.8,272.4 1006.8,273.6 1012,272.9 1029,271.9 1048.6,271.7 1074.7,272.2 1087.7,272.4 1100.8,271.7 1113.8,271.4 1133.4,272.9 1166.1,273.6 1167.4,270.3 1179.1,270.5 1193.5,273.6 1207.9,270.7 1218.3,270.7 1228.7,272.2 1241.8,270.3" fill="none" stroke="#0000ff" stroke-width="2.3" stroke-linecap="butt" stroke-linejoin="round" clip-path="url(#c9)"/>
<polyline points="696,272.2 774.3,273.2 852.7,277.4 854,273.2 928.4,272.6 957.1,273.6 963.7,272.6 1009.4,275.2 1012,273.1 1035.5,272.2 1087.7,272.2 1166.1,273.4 1167.4,269.8 1193.5,273.4 1207.9,269.5 1228.7,271.9 1241.8,269.5" fill="none" stroke="#00ffff" stroke-width="2.3" stroke-linecap="butt" stroke-linejoin="round" clip-path="url(#c9)"/>
<polyline points="696,272.2 722.1,271.5 735.2,270.7 761.3,270.7 774.3,272.2 800.5,271.1 813.5,271.1 814.8,273.2 852.7,272.8 891.9,273.2 928.4,275 931,274 950.6,274 957.1,272.6 967.6,271.7 989.8,272.2 998.9,271.7 1009.4,271.3 1022.4,272.2 1029,271.2 1048.6,271 1113.8,271.3 1166.1,272.4 1167.4,269.1 1176.5,269.3 1193.5,273.1 1207.9,268.6 1218.3,269.3 1228.7,271.4 1241.8,268.8" fill="none" stroke="#ff00ff" stroke-width="2.3" stroke-linecap="butt" stroke-linejoin="round" clip-path="url(#c9)"/>
<polyline points="696,272.2 722.1,274.3 813.5,276.4 814.8,275.3 928.4,276.4 1009.4,276.2 1087.7,275.9 1153,276.4 1218.3,277.8 1241.8,278.3" fill="none" stroke="#ff0000" stroke-width="2.3" stroke-linecap="butt" stroke-linejoin="round" stroke-dasharray="2.2 2.6" clip-path="url(#c9)"/>
<polyline points="696,272.2 722.1,274.3 813.5,276.4 814.8,275.3 928.4,276.2 957.1,275.5 1009.4,275.7 1035.5,275.2 1087.7,274.8 1166.1,275.7 1218.3,276.7 1241.8,277.2" fill="none" stroke="#00ff00" stroke-width="2.3" stroke-linecap="butt" stroke-linejoin="round" stroke-dasharray="2.2 2.6" clip-path="url(#c9)"/>
<polyline points="696,272.2 722.1,274.3 813.5,276.4 814.8,275.3 928.4,274.8 957.1,274.5 1009.4,275.7 1012,273.6 1035.5,273.1 1087.7,273.6 1126.9,273.4 1166.1,274 1218.3,274.8 1241.8,276.2" fill="none" stroke="#0000ff" stroke-width="2.3" stroke-linecap="butt" stroke-linejoin="round" stroke-dasharray="2.2 2.6" clip-path="url(#c9)"/>
<polyline points="696,272.2 722.1,274.3 813.5,276.8 814.8,275.3 928.4,276.9 957.1,275.7 983.3,276.7 1009.4,278.1 1012,273.1 1048.6,272.2 1087.7,272.2 1126.9,272.6 1166.1,274 1218.3,273.6 1241.8,274.3" fill="none" stroke="#00ffff" stroke-width="2.3" stroke-linecap="butt" stroke-linejoin="round" stroke-dasharray="2.2 2.6" clip-path="url(#c9)"/>
<polyline points="696,272.2 722.1,274.3 735.2,275.9 774.3,278.9 807,281.8 813.5,281.8 814.8,274.3 826.6,275.1 891.9,275.5 918,272.2 928.4,269.3 932.3,266.9 957.1,265.5 983.3,263.1 1022.4,262.6 1045.9,262.1 1048.6,262.6 1051.2,264.5 1074.7,265.5 1087.7,265.9 1140,266.4 1163.5,266.7 1168.7,265.5 1179.1,265 1202.6,265.1 1211.8,264.3 1241.8,263.8" fill="none" stroke="#ff00ff" stroke-width="2.3" stroke-linecap="butt" stroke-linejoin="round" stroke-dasharray="2.2 2.6" clip-path="url(#c9)"/>
<rect x="696" y="262.7" width="545.8" height="115.6" fill="none" stroke="#555555" stroke-width="1"/>
<line x1="696" y1="378.3" x2="696" y2="374.3" stroke="#555555" stroke-width="1"/>
<line x1="696" y1="262.7" x2="696" y2="266.7" stroke="#555555" stroke-width="1"/>
<text x="696" y="392.9" font-size="11.5" text-anchor="middle" fill="#3a3a3a">0</text>
<line x1="761.3" y1="378.3" x2="761.3" y2="374.3" stroke="#555555" stroke-width="1"/>
<line x1="761.3" y1="262.7" x2="761.3" y2="266.7" stroke="#555555" stroke-width="1"/>
<text x="761.3" y="392.9" font-size="11.5" text-anchor="middle" fill="#3a3a3a">50</text>
<line x1="826.6" y1="378.3" x2="826.6" y2="374.3" stroke="#555555" stroke-width="1"/>
<line x1="826.6" y1="262.7" x2="826.6" y2="266.7" stroke="#555555" stroke-width="1"/>
<text x="826.6" y="392.9" font-size="11.5" text-anchor="middle" fill="#3a3a3a">100</text>
<line x1="891.9" y1="378.3" x2="891.9" y2="374.3" stroke="#555555" stroke-width="1"/>
<line x1="891.9" y1="262.7" x2="891.9" y2="266.7" stroke="#555555" stroke-width="1"/>
<text x="891.9" y="392.9" font-size="11.5" text-anchor="middle" fill="#3a3a3a">150</text>
<line x1="957.1" y1="378.3" x2="957.1" y2="374.3" stroke="#555555" stroke-width="1"/>
<line x1="957.1" y1="262.7" x2="957.1" y2="266.7" stroke="#555555" stroke-width="1"/>
<text x="957.1" y="392.9" font-size="11.5" text-anchor="middle" fill="#3a3a3a">200</text>
<line x1="1022.4" y1="378.3" x2="1022.4" y2="374.3" stroke="#555555" stroke-width="1"/>
<line x1="1022.4" y1="262.7" x2="1022.4" y2="266.7" stroke="#555555" stroke-width="1"/>
<text x="1022.4" y="392.9" font-size="11.5" text-anchor="middle" fill="#3a3a3a">250</text>
<line x1="1087.7" y1="378.3" x2="1087.7" y2="374.3" stroke="#555555" stroke-width="1"/>
<line x1="1087.7" y1="262.7" x2="1087.7" y2="266.7" stroke="#555555" stroke-width="1"/>
<text x="1087.7" y="392.9" font-size="11.5" text-anchor="middle" fill="#3a3a3a">300</text>
<line x1="1153" y1="378.3" x2="1153" y2="374.3" stroke="#555555" stroke-width="1"/>
<line x1="1153" y1="262.7" x2="1153" y2="266.7" stroke="#555555" stroke-width="1"/>
<text x="1153" y="392.9" font-size="11.5" text-anchor="middle" fill="#3a3a3a">350</text>
<line x1="1218.3" y1="378.3" x2="1218.3" y2="374.3" stroke="#555555" stroke-width="1"/>
<line x1="1218.3" y1="262.7" x2="1218.3" y2="266.7" stroke="#555555" stroke-width="1"/>
<text x="1218.3" y="392.9" font-size="11.5" text-anchor="middle" fill="#3a3a3a">400</text>
<line x1="696" y1="272.2" x2="700" y2="272.2" stroke="#555555" stroke-width="1"/>
<line x1="1241.8" y1="272.2" x2="1237.8" y2="272.2" stroke="#555555" stroke-width="1"/>
<text x="691" y="276" font-size="11.5" text-anchor="end" fill="#3a3a3a">0</text>
<line x1="696" y1="314.2" x2="700" y2="314.2" stroke="#555555" stroke-width="1"/>
<line x1="1241.8" y1="314.2" x2="1237.8" y2="314.2" stroke="#555555" stroke-width="1"/>
<text x="691" y="318" font-size="11.5" text-anchor="end" fill="#3a3a3a">-2</text>
<line x1="696" y1="356.2" x2="700" y2="356.2" stroke="#555555" stroke-width="1"/>
<line x1="1241.8" y1="356.2" x2="1237.8" y2="356.2" stroke="#555555" stroke-width="1"/>
<text x="691" y="360" font-size="11.5" text-anchor="end" fill="#3a3a3a">-4</text>
<text x="968.9" y="408.9" font-size="12.7" text-anchor="middle" fill="#3a3a3a">time (s)</text>
<text x="660.5" y="320.5" font-size="12.7" text-anchor="middle" fill="#3a3a3a" transform="rotate(-90 660.5 320.5)">NVE (m/s)</text>
<clipPath id="c10"><rect x="741.6" y="301.1" width="190.5" height="60.6"/></clipPath>
<rect x="741.6" y="301.1" width="190.5" height="60.6" fill="#fff" stroke="none" stroke-width="1"/>
<line x1="759.5" y1="301.1" x2="759.5" y2="361.7" stroke="#e7e7e7" stroke-width="1"/>
<line x1="799.2" y1="301.1" x2="799.2" y2="361.7" stroke="#e7e7e7" stroke-width="1"/>
<line x1="838.8" y1="301.1" x2="838.8" y2="361.7" stroke="#e7e7e7" stroke-width="1"/>
<line x1="878.5" y1="301.1" x2="878.5" y2="361.7" stroke="#e7e7e7" stroke-width="1"/>
<line x1="918.1" y1="301.1" x2="918.1" y2="361.7" stroke="#e7e7e7" stroke-width="1"/>
<line x1="741.6" y1="306.6" x2="932.1" y2="306.6" stroke="#e7e7e7" stroke-width="1"/>
<line x1="741.6" y1="322.1" x2="932.1" y2="322.1" stroke="#e7e7e7" stroke-width="1"/>
<line x1="741.6" y1="337.6" x2="932.1" y2="337.6" stroke="#e7e7e7" stroke-width="1"/>
<line x1="741.6" y1="353.1" x2="932.1" y2="353.1" stroke="#e7e7e7" stroke-width="1"/>
<polyline points="719.9,436.8 759.5,483.3 799.2,536 838.8,591.8 878.5,652.2 918.1,711.9 932.4,729.7" fill="none" stroke="#278c27" stroke-width="2.5" stroke-linecap="butt" stroke-linejoin="round" clip-path="url(#c10)"/>
<polyline points="719.9,336 742.1,337.6 783.3,336.8 799.2,337.6 890.4,337.2 932.4,337.6" fill="none" stroke="#ffff00" stroke-width="2.3" stroke-linecap="butt" stroke-linejoin="round" clip-path="url(#c10)"/>
<polyline points="600.9,337.6 742.1,345.3 791.2,351.5 799.2,347.3 807.1,346.1 819,348.1 838.8,347.3 862.6,348.1 866.6,345.3 874.5,346.4 882.5,352.3 888,346.4 898.3,348.1 903.1,350.8 910.2,345.3 918.1,344.6 924.5,350.8 930,341.1 932.4,340.2" fill="none" stroke="#ff0000" stroke-width="2.3" stroke-linecap="butt" stroke-linejoin="round" clip-path="url(#c10)"/>
<polyline points="600.9,337.6 742.1,342.9 759.5,344.6 791.2,349 799.2,345.3 838.8,346.4 842.8,348.1 854.7,346.4 870.6,348.1 886.4,347.3 888,342 903.1,345.3 910.2,342 918.1,342 924.5,354.3 932.4,353.4" fill="none" stroke="#00ff00" stroke-width="2.3" stroke-linecap="butt" stroke-linejoin="round" clip-path="url(#c10)"/>
<polyline points="696.1,345.3 742.1,344.6 745.2,335.8 759.5,337.6 765.9,335 779.4,338.5 789.7,342.9 792.8,340.2 803.1,336.7 815,335.8 830.9,337.6 838.8,338.5 846.8,335.8 854.7,335 866.6,340.2 886.4,342.9 887.2,330.6 894.3,331.4 903.1,342.9 911.8,332.3 918.1,332.3 924.5,337.6 932.4,330.6" fill="none" stroke="#0000ff" stroke-width="2.3" stroke-linecap="butt" stroke-linejoin="round" clip-path="url(#c10)"/>
<polyline points="696.9,341.5 742.1,339.4 759.5,342.9 763.5,339.4 791.2,349 792.8,341.1 807.1,337.6 838.8,337.6 886.4,342 887.2,328.8 903.1,342 911.8,327.9 924.5,336.7 932.4,327.9" fill="none" stroke="#00ffff" stroke-width="2.3" stroke-linecap="butt" stroke-linejoin="round" clip-path="url(#c10)"/>
<polyline points="719.9,341.5 742.1,348.1 743.7,344.6 755.6,344.6 759.5,339.4 765.9,335.8 779.4,337.6 784.9,335.8 791.2,334.5 799.2,337.6 803.1,334.1 815,333.2 854.7,334.5 886.4,338.5 887.2,326.2 892.8,327.1 903.1,341.1 911.8,324.4 918.1,327.1 924.5,335 932.4,325.3" fill="none" stroke="#ff00ff" stroke-width="2.3" stroke-linecap="butt" stroke-linejoin="round" clip-path="url(#c10)"/>
<polyline points="673.1,349.2 742.1,353.4 791.2,352.3 838.8,351.3 878.5,353.4 918.1,358.5 932.4,360.4" fill="none" stroke="#ff0000" stroke-width="2.3" stroke-linecap="butt" stroke-linejoin="round" stroke-dasharray="2.2 2.6" clip-path="url(#c10)"/>
<polyline points="673.1,349.2 742.1,352.3 759.5,350 791.2,350.8 807.1,349 838.8,347.3 886.4,350.8 918.1,354.3 932.4,356" fill="none" stroke="#00ff00" stroke-width="2.3" stroke-linecap="butt" stroke-linejoin="round" stroke-dasharray="2.2 2.6" clip-path="url(#c10)"/>
<polyline points="673.1,349.2 742.1,347.3 759.5,346.4 791.2,350.8 792.8,342.9 807.1,341.1 838.8,342.9 862.6,342 886.4,344.6 918.1,347.3 932.4,352.3" fill="none" stroke="#0000ff" stroke-width="2.3" stroke-linecap="butt" stroke-linejoin="round" stroke-dasharray="2.2 2.6" clip-path="url(#c10)"/>
<polyline points="673.1,349.2 742.1,355.1 759.5,350.8 775.4,354.3 791.2,359.5 792.8,341.1 815,337.6 838.8,337.6 862.6,339.4 886.4,344.6 918.1,342.9 932.4,345.3" fill="none" stroke="#00ffff" stroke-width="2.3" stroke-linecap="butt" stroke-linejoin="round" stroke-dasharray="2.2 2.6" clip-path="url(#c10)"/>
<polyline points="735.7,337.6 742.1,327.1 744.5,318.2 759.5,313 775.4,304.3 799.2,302.2 813.5,300.4 815,302.5 816.6,309.5 830.9,313 838.8,314.4 870.6,316.2 884.8,317.5 888,313 894.3,311.3 908.6,311.6 914.2,308.6 932.4,306.9" fill="none" stroke="#ff00ff" stroke-width="2.3" stroke-linecap="butt" stroke-linejoin="round" stroke-dasharray="2.2 2.6" clip-path="url(#c10)"/>
<rect x="741.6" y="301.1" width="190.5" height="60.6" fill="none" stroke="#555555" stroke-width="1"/>
<line x1="759.5" y1="361.7" x2="759.5" y2="359.2" stroke="#555555" stroke-width="1"/>
<line x1="759.5" y1="301.1" x2="759.5" y2="303.6" stroke="#555555" stroke-width="1"/>
<text x="759.5" y="375.2" font-size="11.5" text-anchor="middle" fill="#3a3a3a">200</text>
<line x1="799.2" y1="361.7" x2="799.2" y2="359.2" stroke="#555555" stroke-width="1"/>
<line x1="799.2" y1="301.1" x2="799.2" y2="303.6" stroke="#555555" stroke-width="1"/>
<text x="799.2" y="375.2" font-size="11.5" text-anchor="middle" fill="#3a3a3a">250</text>
<line x1="838.8" y1="361.7" x2="838.8" y2="359.2" stroke="#555555" stroke-width="1"/>
<line x1="838.8" y1="301.1" x2="838.8" y2="303.6" stroke="#555555" stroke-width="1"/>
<text x="838.8" y="375.2" font-size="11.5" text-anchor="middle" fill="#3a3a3a">300</text>
<line x1="878.5" y1="361.7" x2="878.5" y2="359.2" stroke="#555555" stroke-width="1"/>
<line x1="878.5" y1="301.1" x2="878.5" y2="303.6" stroke="#555555" stroke-width="1"/>
<text x="878.5" y="375.2" font-size="11.5" text-anchor="middle" fill="#3a3a3a">350</text>
<line x1="918.1" y1="361.7" x2="918.1" y2="359.2" stroke="#555555" stroke-width="1"/>
<line x1="918.1" y1="301.1" x2="918.1" y2="303.6" stroke="#555555" stroke-width="1"/>
<text x="918.1" y="375.2" font-size="11.5" text-anchor="middle" fill="#3a3a3a">400</text>
<line x1="741.6" y1="306.6" x2="744.1" y2="306.6" stroke="#555555" stroke-width="1"/>
<line x1="932.1" y1="306.6" x2="929.6" y2="306.6" stroke="#555555" stroke-width="1"/>
<text x="737.9" y="310.4" font-size="11.5" text-anchor="end" fill="#3a3a3a">0.4</text>
<line x1="741.6" y1="322.1" x2="744.1" y2="322.1" stroke="#555555" stroke-width="1"/>
<line x1="932.1" y1="322.1" x2="929.6" y2="322.1" stroke="#555555" stroke-width="1"/>
<text x="737.9" y="325.9" font-size="11.5" text-anchor="end" fill="#3a3a3a">0.2</text>
<line x1="741.6" y1="337.6" x2="744.1" y2="337.6" stroke="#555555" stroke-width="1"/>
<line x1="932.1" y1="337.6" x2="929.6" y2="337.6" stroke="#555555" stroke-width="1"/>
<text x="737.9" y="341.4" font-size="11.5" text-anchor="end" fill="#3a3a3a">0</text>
<line x1="741.6" y1="353.1" x2="744.1" y2="353.1" stroke="#555555" stroke-width="1"/>
<line x1="932.1" y1="353.1" x2="929.6" y2="353.1" stroke="#555555" stroke-width="1"/>
<text x="737.9" y="356.9" font-size="11.5" text-anchor="end" fill="#3a3a3a">-0.2</text>
<line x1="944.5" y1="298.5" x2="964.9" y2="287.4" stroke="#1f9bf5" stroke-width="3.0"/>
<polygon points="971,284 965.9,291.3 962.1,284.4" fill="#1f9bf5"/>
<clipPath id="c11"><rect x="696" y="419.2" width="545.8" height="119.3"/></clipPath>
<rect x="696" y="419.2" width="545.8" height="119.3" fill="#fff" stroke="none" stroke-width="1"/>
<line x1="761.3" y1="419.2" x2="761.3" y2="538.5" stroke="#e7e7e7" stroke-width="1"/>
<line x1="826.6" y1="419.2" x2="826.6" y2="538.5" stroke="#e7e7e7" stroke-width="1"/>
<line x1="891.9" y1="419.2" x2="891.9" y2="538.5" stroke="#e7e7e7" stroke-width="1"/>
<line x1="957.1" y1="419.2" x2="957.1" y2="538.5" stroke="#e7e7e7" stroke-width="1"/>
<line x1="1022.4" y1="419.2" x2="1022.4" y2="538.5" stroke="#e7e7e7" stroke-width="1"/>
<line x1="1087.7" y1="419.2" x2="1087.7" y2="538.5" stroke="#e7e7e7" stroke-width="1"/>
<line x1="1153" y1="419.2" x2="1153" y2="538.5" stroke="#e7e7e7" stroke-width="1"/>
<line x1="1218.3" y1="419.2" x2="1218.3" y2="538.5" stroke="#e7e7e7" stroke-width="1"/>
<line x1="696" y1="528.4" x2="1241.8" y2="528.4" stroke="#e7e7e7" stroke-width="1"/>
<line x1="696" y1="476.6" x2="1241.8" y2="476.6" stroke="#e7e7e7" stroke-width="1"/>
<line x1="696" y1="424.7" x2="1241.8" y2="424.7" stroke="#e7e7e7" stroke-width="1"/>
<polyline points="696,528.4 700.4,528.1 706.6,527.5 714.1,526.8 722.1,525.7 731.3,524.2 741.7,522.2 752.1,520.3 761.3,518.7 768.7,517.6 775.1,516.8 781.1,516.2 787.4,515.8 794.5,515.6 802,515.7 809,515.8 814.8,515.8 818.2,515.6 820,515.2 822.1,514.8 826.6,514.2 834.7,513.5 845.3,512.6 856.2,511.5 865.7,510.3 873.3,508.8 880,507.1 886.1,505.4 891.9,503.5 897.2,501.7 902.1,499.7 906.7,497.7 911.4,495.9 916.2,494.1 920.8,492.5 925.7,490.9 931,489.5 936.2,488.6 941.2,487.9 947.7,487.1 957.1,485.4 970.7,482.6 987.3,479.1 1005.2,475.3 1022.4,471.6 1038.8,468 1055.1,464.4 1071.4,460.8 1087.7,457.1 1104,453.4 1120.4,449.6 1136.7,445.8 1153,441.9 1170.3,437.7 1188.3,433.1 1204.9,428.9 1218.3,425.4 1227.7,423 1234.1,421.2 1238.6,420 1241.8,419.1" fill="none" stroke="#278c27" stroke-width="2.5" stroke-linecap="butt" stroke-linejoin="round" clip-path="url(#c11)"/>
<polyline points="696,528.5 697.6,528.2 699.3,527.9 700.9,528 702.5,528 704.2,527.8 705.8,527.6 707.4,527.1 709.1,526.8 710.7,526.6 712.3,526.4 714,526.1 715.6,526.2 717.2,526 718.9,526 720.5,525.4 722.1,525.5 723.7,525 725.4,525 727,524.5 728.6,524.3 730.3,524.1 731.9,523.5 733.5,523.6 735.2,523.5 736.8,522.8 738.4,522.5 740.1,522.5 741.7,521.8 743.3,521.3 745,521.4 746.6,521.2 748.2,521.1 749.9,520.9 751.5,520.5 753.1,520.4 754.8,519.9 756.4,520 758,519.8 759.7,519.2 761.3,519 762.9,518.8 764.6,518.5 766.2,518.2 767.8,518.1 769.4,518.1 771.1,517.6 772.7,517 774.3,516.6 776,516.7 777.6,517 779.2,517.1 780.9,517.1 782.5,517 784.1,517.4 785.8,517.5 787.4,517.6 789,517.6 790.7,517.4 792.3,517.5 793.9,518 795.6,517.7 797.2,517.9 798.8,518 800.5,518.2 802.1,517.9 803.7,517.7 805.4,517.1 807,517.1 808.6,516.7 810.3,516.6 811.9,516.1 813.5,516.1 814.8,516.8 816.1,520.4 817.9,520 819.6,520 821.4,519.6 823.1,519.5 824.8,519.3 826.6,518.9 828.2,518.4 829.8,518.4 831.5,518.1 833.1,518.4 834.7,518 836.4,518.1 838,518.3 839.6,518 841.3,517.7 842.9,518 844.5,518 846.2,517.7 847.8,517.7 849.4,517.7 851.1,517.9 852.7,517.9 854.3,518.2 856,518.3 857.6,518.6 859.2,519.4 861.8,523.7 863.1,530.4 864.7,530.2 866.3,530.1 867.9,530.2 869.5,530.5 871.1,530.5 872.7,530.6 874.3,530.6 875.9,530.8 877.5,530.6 879.1,530.5 880.7,530.9 882.3,531.1 883.9,530.9 885.5,531.1 887.1,530.9 888.7,531.1 890.3,531.1 891.9,531.1 893.5,531.5 895.1,531.8 896.8,532 898.4,531.9 900,532 901.7,532.4 903.3,532.2 904.9,532.4 906.6,532.8 908.2,532.9 909.8,532.7 911.4,532.9 913.1,533 914.7,533 916.3,533 918,533.2 919.7,533.7 921.5,534 923.2,534.2 924.9,534.4 926.7,534.8 928.4,535.4 930.4,536.1 932.3,536.6 935,532.7 936.8,533.2 938.6,533.1 940.4,532.9 942.3,532.9 944.1,532.9 945.7,532.8 947.4,533 949,532.9 950.6,533.1 952.3,533.4 953.9,533.4 955.5,533.4 957.1,533 958.9,532.8 960.6,532.7 962.4,532.6 964.1,532.7 965.9,532.5 967.6,532.2 969.4,532.7 971.3,533.2 973.1,533.6 974.9,534 976.7,534.2 978.6,534.6 980.4,535.1 982.2,535.3 984,535.3 985.9,535.3 987.6,535.3 989.3,535.2 991,535.5 992.7,535.9 994.4,535.8 996.1,535.9 997.8,536.1 999.5,535.9 1001.2,536 1002.8,536.2 1004.2,533.6 1005.8,533.2 1007.5,533.5 1009.2,533.5 1010.9,533.5 1012.5,533.5 1014.2,533.4 1015.9,533.4 1017.6,533 1019.3,533 1021,532.9 1022.7,533.1 1024.4,533.1 1026.1,532.9 1027.8,532.7 1029.5,532.9 1031.2,532.9 1032.9,532.6 1035.5,531.7 1038.1,527.1 1039.7,527.1 1041.3,526.9 1042.9,527 1044.5,526.9 1046.1,526.8 1047.6,526.5 1049.2,526.6 1050.8,526.6 1052.4,526.8 1054,526.6 1055.6,526.8 1057.2,526.7 1058.8,526.8 1060.4,526.8 1061.9,527 1063.5,527 1065.1,526.8 1066.7,526.8 1068.3,526.9 1069.9,526.5 1071.5,526.6 1073.1,526.2 1074.7,526.2 1076.3,526.5 1077.9,526.4 1079.6,526.4 1081.2,526.8 1082.5,529.6" fill="none" stroke="#000000" stroke-width="2.3" stroke-linecap="butt" stroke-linejoin="round" clip-path="url(#c11)"/>
<polyline points="696,528.5 697.6,528.3 699.3,527.8 700.9,527.9 702.5,527.8 704.2,527.6 705.8,527.8 707.4,527.6 709.1,527.3 710.7,527 712.3,527.3 714,527.3 715.6,527.4 717.2,526.8 718.9,526.5 720.5,526.8 722.1,526.1 723.7,525.6 725.3,525.5 726.9,525.3 728.4,525.6 730,525.7 731.6,525.3 733.2,525.3 734.8,525.2 736.4,524.9 737.9,524.9 739.5,524.4 741.1,524 742.7,523.4 744.3,523.2 745.9,522.9 747.4,522.7 749,522.4 750.6,522.3 752.2,522.3 753.8,521.6 755.4,521.1 756.9,520.9 758.5,520.7 760.1,520.9 761.7,521 763.3,520.9 764.8,520.9 766.4,520.3 768,520.1 769.6,519.6 771.2,519.5 772.8,518.9 774.3,518.6 775.9,519.2 777.5,519.3 779,518.8 780.6,518.9 782.2,518.5 783.7,518.7 785.3,519.1 786.9,518.8 788.4,518.5 790,518.8 791.6,519 793.1,519 794.7,518.4 796.3,518.2 797.8,518.6 799.4,518.7 801,518.9 802.5,519 804.1,518.5 805.7,518.6 807.2,518.4 808.8,518.3 810.4,518.5 811.9,518.1 813.5,518.4 816.1,522.3 817.7,522.6 819.3,522.6 820.9,522.7 822.4,522.8 824,522.3 825.6,522.1 827.2,522.4 828.7,522.2 830.3,522.6 831.9,522.7 833.5,522.4 835,522.4 836.6,522.9 838.2,522.4 839.8,522.8 841.3,523 842.9,522.7 844.5,522.9 846.1,523.1 847.6,523.4 849.2,523.6 850.8,523.3 852.4,523.4 853.9,523.2 855.5,523.3 857.1,523.3 858.7,522.9 860.3,523.1 861.8,523.1 863.1,531.2 864.7,531.6 866.3,532 867.9,531.5 869.5,531.4 871.1,531.8 872.7,532.1 874.3,531.9 875.9,531.6 877.5,532 879.1,531.7 880.7,531.6 882.2,531.7 883.8,532 885.4,532.5 887,532.8 888.6,532.3 890.2,532.6 891.8,532.4 893.4,532.7 895,532.4 896.6,532.4 898.2,532.7 899.8,533 901.4,532.8 902.9,533.2 904.5,533.3 906.1,533.1 907.7,532.8 909.3,532.8 910.9,533.1 912.5,532.8 914.1,533.2 915.7,533.7 917.3,533.7 918.9,533.6 920.5,533.9 922.1,534 923.6,533.9 925.2,533.7 926.8,534 928.4,534 930.4,534.2 932.3,534.5 934.1,533.7 935.8,532.8 937.6,532 939.2,532.1 940.8,532 942.5,531.8 944.1,530.8 945.7,530.6 947.4,530.3 949,530.9 950.6,530.7 952.3,530.8 953.9,530.6 955.5,530.8 957.1,530.4 958.8,530.8 960.4,530.5 962,530.2 963.7,529.8 965.3,529.7 966.9,529.5 968.6,529.4 970.2,529.1 971.8,529.5 973.5,529.4 975.1,529.2 976.7,529.1 978.4,529.7 980,529.8 981.6,530 983.3,530.4 984.9,530.7 986.5,531.2 988.2,531.4 989.8,531.6 991.4,532 993.1,531.8 994.7,531.3 996.3,531.1 998,531.1 999.6,531.4 1001.2,531.3 1002.8,531.3 1004.5,531.2 1006.1,530.8 1007.7,531.1 1009.4,530.6 1011,531.3 1012.6,531.4 1014.3,531.6 1015.9,532.1 1017.5,531.7 1019.2,531.7 1020.8,531.5 1022.4,531.1 1024.1,531.4 1025.7,531.8 1027.3,531.7 1029,531.4 1030.6,530.8 1032.2,530.1 1033.9,528.8 1035.5,527.9 1038.1,527.5 1039.8,527.2 1041.6,527.6 1043.3,527.5 1045.1,527.8 1046.8,527.9 1048.6,527.6 1050.2,527.2 1051.8,527 1053.4,527.3 1055.1,527.2 1056.7,527.4 1058.3,527.6 1060,527.4 1061.6,527 1063.2,526.7 1064.9,526.6 1066.5,526.3 1068.1,526.7 1069.8,527 1071.4,526.9 1073,527 1074.7,527 1076.3,527 1077.9,526.9 1079.6,527 1081.2,527.2 1082.5,529.6 1084.2,529.3 1085.8,529.7 1087.5,530.2 1089.1,530.6 1090.8,530.2 1092.5,530.7 1094.1,530.4 1095.8,530.5 1097.5,530.7 1099.1,530.5 1100.8,531.1 1102.4,531.2 1104,531 1105.7,531.2 1107.3,530.6 1108.9,530.7 1110.6,530.8 1112.2,531 1113.8,530.5 1116.4,528 1118,527.6 1119.6,527.2 1121.1,526.8 1122.7,526.3 1124.3,526.1 1126.1,526.6 1127.9,526.7 1129.8,527 1131.6,527.4 1133.4,527.2 1135.1,526.9 1136.7,527.1 1138.3,527.1 1140,527.1 1141.6,526.8 1143.2,526.7 1144.8,526.6 1146.5,526.4 1148.1,526.4 1149.7,526.1 1151.4,525.7 1153,526.1 1154.6,525.6 1156.3,525.5 1157.9,525.8 1159.5,525.7 1161.3,525.4 1163,525 1164.8,525.1 1166.5,524.9 1168.2,524.5 1170,524.3 1172.6,527.1 1174.2,527.4 1175.9,527.5 1177.5,527.9 1179.1,527.7 1180.8,527.6 1182.4,527.6 1184,527.6 1185.7,528 1187.3,527.7 1188.9,527.5 1190.5,527.4 1192.2,527.7 1193.8,527.7 1195.4,528.1 1197.1,527.9 1198.7,527.8 1200.3,528.2 1202,528.7 1203.6,528.7 1205.2,528.6 1206.9,528.4 1208.5,528.6 1210.1,529 1211.8,528.7 1213.4,529.1 1215,528.8 1216.7,529.1 1218.3,529.2 1219.9,528.9 1221.4,529.2 1223,529.4 1224.6,529.2 1226.1,528.9 1227.7,528.7 1229.3,528.6 1230.8,528.4 1232.4,528.6 1234,528.4 1235.5,529 1237.1,529.2 1238.7,529.1 1240.2,529.2 1241.8,528.9" fill="none" stroke="#ffff00" stroke-width="2.3" stroke-linecap="butt" stroke-linejoin="round" clip-path="url(#c11)"/>
<polyline points="696,528.4 735.2,525.3 774.3,524.8 814.8,529 928.4,528.7 1241.8,529.3" fill="none" stroke="#ff0000" stroke-width="2.3" stroke-linecap="butt" stroke-linejoin="round" clip-path="url(#c11)"/>
<polyline points="696,528.4 735.2,525.3 774.3,524.3 814.8,528.4 928.4,528.4 1241.8,529" fill="none" stroke="#00ff00" stroke-width="2.3" stroke-linecap="butt" stroke-linejoin="round" clip-path="url(#c11)"/>
<polyline points="696,528.4 735.2,524.7 761.3,525.7 774.3,526.9 787.4,524.7 800.5,523.6 813.5,523.6 814.8,529.1 928.4,529 957.1,529 976.7,527.9 996.3,527.1 1009.4,527.7 1035.5,529 1087.7,529.5 1126.9,529.6 1133.4,528.4 1218.3,528.4 1241.8,528.7" fill="none" stroke="#0000ff" stroke-width="2.3" stroke-linecap="butt" stroke-linejoin="round" clip-path="url(#c11)"/>
<polyline points="696,528.4 735.2,525.3 774.3,524.3 813.5,525.3 852.7,524.7 928.4,528.2 963.7,528.7 983.3,527.4 1002.8,527 1022.4,527.9 1048.6,529 1087.7,529.2 1126.9,529.2 1153,528.1 1241.8,529.7" fill="none" stroke="#00ffff" stroke-width="2.3" stroke-linecap="butt" stroke-linejoin="round" clip-path="url(#c11)"/>
<polyline points="696,528.4 735.2,525.3 761.3,523.6 774.3,523.1 787.4,521.8 800.5,518.7 813.5,515.8 814.8,515.8 816.1,521.8 826.6,522.4 839.6,524.7 861.8,525.7 891.9,526.9 928.4,527.8 957.1,528.4 976.7,528.7 989.8,528.3 1022.4,529 1035.5,529.7 1048.6,529 1087.7,528.6 1153,528.1 1192.2,528.4 1218.3,529.5 1241.8,530.8" fill="none" stroke="#ff00ff" stroke-width="2.3" stroke-linecap="butt" stroke-linejoin="round" clip-path="url(#c11)"/>
<polyline points="696,528.4 722.1,525.3 774.3,521.2 787.4,524.3 800.5,526.4 813.5,528.4 826.6,530.2 865.7,532 928.4,533.4 957.1,532.8 1009.4,532.3 1035.5,532.3 1087.7,531.8 1140,532.1 1179.1,533.1 1205.2,533.5 1241.8,532.8" fill="none" stroke="#ff0000" stroke-width="2.3" stroke-linecap="butt" stroke-linejoin="round" stroke-dasharray="2.2 2.6" clip-path="url(#c11)"/>
<polyline points="696,528.4 722.1,525.3 774.3,520.7 787.4,523.8 800.5,526.4 813.5,528.4 826.6,530.2 865.7,532 928.4,532.3 957.1,533.1 976.7,531.8 996.3,530.8 1009.4,531.8 1035.5,532.1 1087.7,531.3 1140,531.5 1192.2,532.3 1241.8,532.6" fill="none" stroke="#00ff00" stroke-width="2.3" stroke-linecap="butt" stroke-linejoin="round" stroke-dasharray="2.2 2.6" clip-path="url(#c11)"/>
<polyline points="696,528.4 722.1,525.3 774.3,520.1 787.4,523.3 800.5,525.8 813.5,528.4 826.6,530.2 865.7,532 928.4,531.5 944.1,530.8 963.7,529.2 976.7,530.8 989.8,531.8 1009.4,532.3 1013.3,530.8 1048.6,530.3 1087.7,530.3 1126.9,529.7 1153,530.5 1192.2,531.8 1241.8,532.6" fill="none" stroke="#0000ff" stroke-width="2.3" stroke-linecap="butt" stroke-linejoin="round" stroke-dasharray="2.2 2.6" clip-path="url(#c11)"/>
<polyline points="696,528.4 722.1,525.3 774.3,520.1 787.4,523.3 800.5,525.8 813.5,528.4 826.6,530.2 865.7,532 928.4,530.8 957.1,533.4 983.3,536 1006.8,538.3 1010.7,538.6 1012,530.3 1035.5,529.7 1061.6,529.2 1087.7,529.2 1126.9,529.7 1166.1,530.8 1218.3,531.3 1241.8,531.5" fill="none" stroke="#00ffff" stroke-width="2.3" stroke-linecap="butt" stroke-linejoin="round" stroke-dasharray="2.2 2.6" clip-path="url(#c11)"/>
<polyline points="696,528.4 722.1,524.7 748.2,519.6 774.3,515.8 800.5,514.2 813.5,514.2 814.8,521.2 816.1,529.8 826.6,530.5 852.7,532.6 891.9,532.6 924.5,531.3 928.4,526.6 932.3,525.3 957.1,522.7 970.2,521.4 983.3,518.9 996.3,518.7 1015.9,519.5 1035.5,519.4 1045.9,519.5 1049.9,522.5 1061.6,523.8 1087.7,525.3 1113.8,526.6 1140,527.8 1163.5,529.2 1168.7,526.6 1192.2,527.1 1205.2,527.4 1218.3,527.2 1241.8,528.1" fill="none" stroke="#ff00ff" stroke-width="2.3" stroke-linecap="butt" stroke-linejoin="round" stroke-dasharray="2.2 2.6" clip-path="url(#c11)"/>
<rect x="696" y="419.2" width="545.8" height="119.3" fill="none" stroke="#555555" stroke-width="1"/>
<line x1="696" y1="538.5" x2="696" y2="534.5" stroke="#555555" stroke-width="1"/>
<line x1="696" y1="419.2" x2="696" y2="423.2" stroke="#555555" stroke-width="1"/>
<text x="696" y="552.7" font-size="11.5" text-anchor="middle" fill="#3a3a3a">0</text>
<line x1="761.3" y1="538.5" x2="761.3" y2="534.5" stroke="#555555" stroke-width="1"/>
<line x1="761.3" y1="419.2" x2="761.3" y2="423.2" stroke="#555555" stroke-width="1"/>
<text x="761.3" y="552.7" font-size="11.5" text-anchor="middle" fill="#3a3a3a">50</text>
<line x1="826.6" y1="538.5" x2="826.6" y2="534.5" stroke="#555555" stroke-width="1"/>
<line x1="826.6" y1="419.2" x2="826.6" y2="423.2" stroke="#555555" stroke-width="1"/>
<text x="826.6" y="552.7" font-size="11.5" text-anchor="middle" fill="#3a3a3a">100</text>
<line x1="891.9" y1="538.5" x2="891.9" y2="534.5" stroke="#555555" stroke-width="1"/>
<line x1="891.9" y1="419.2" x2="891.9" y2="423.2" stroke="#555555" stroke-width="1"/>
<text x="891.9" y="552.7" font-size="11.5" text-anchor="middle" fill="#3a3a3a">150</text>
<line x1="957.1" y1="538.5" x2="957.1" y2="534.5" stroke="#555555" stroke-width="1"/>
<line x1="957.1" y1="419.2" x2="957.1" y2="423.2" stroke="#555555" stroke-width="1"/>
<text x="957.1" y="552.7" font-size="11.5" text-anchor="middle" fill="#3a3a3a">200</text>
<line x1="1022.4" y1="538.5" x2="1022.4" y2="534.5" stroke="#555555" stroke-width="1"/>
<line x1="1022.4" y1="419.2" x2="1022.4" y2="423.2" stroke="#555555" stroke-width="1"/>
<text x="1022.4" y="552.7" font-size="11.5" text-anchor="middle" fill="#3a3a3a">250</text>
<line x1="1087.7" y1="538.5" x2="1087.7" y2="534.5" stroke="#555555" stroke-width="1"/>
<line x1="1087.7" y1="419.2" x2="1087.7" y2="423.2" stroke="#555555" stroke-width="1"/>
<text x="1087.7" y="552.7" font-size="11.5" text-anchor="middle" fill="#3a3a3a">300</text>
<line x1="1153" y1="538.5" x2="1153" y2="534.5" stroke="#555555" stroke-width="1"/>
<line x1="1153" y1="419.2" x2="1153" y2="423.2" stroke="#555555" stroke-width="1"/>
<text x="1153" y="552.7" font-size="11.5" text-anchor="middle" fill="#3a3a3a">350</text>
<line x1="1218.3" y1="538.5" x2="1218.3" y2="534.5" stroke="#555555" stroke-width="1"/>
<line x1="1218.3" y1="419.2" x2="1218.3" y2="423.2" stroke="#555555" stroke-width="1"/>
<text x="1218.3" y="552.7" font-size="11.5" text-anchor="middle" fill="#3a3a3a">400</text>
<line x1="696" y1="528.4" x2="700" y2="528.4" stroke="#555555" stroke-width="1"/>
<line x1="1241.8" y1="528.4" x2="1237.8" y2="528.4" stroke="#555555" stroke-width="1"/>
<text x="691" y="532.2" font-size="11.5" text-anchor="end" fill="#3a3a3a">0</text>
<line x1="696" y1="476.6" x2="700" y2="476.6" stroke="#555555" stroke-width="1"/>
<line x1="1241.8" y1="476.6" x2="1237.8" y2="476.6" stroke="#555555" stroke-width="1"/>
<text x="691" y="480.4" font-size="11.5" text-anchor="end" fill="#3a3a3a">0.5</text>
<line x1="696" y1="424.7" x2="700" y2="424.7" stroke="#555555" stroke-width="1"/>
<line x1="1241.8" y1="424.7" x2="1237.8" y2="424.7" stroke="#555555" stroke-width="1"/>
<text x="691" y="428.5" font-size="11.5" text-anchor="end" fill="#3a3a3a">1</text>
<text x="968.9" y="569.2" font-size="12.7" text-anchor="middle" fill="#3a3a3a">time (s)</text>
<text x="660.5" y="478.9" font-size="12.7" text-anchor="middle" fill="#3a3a3a" transform="rotate(-90 660.5 478.9)">UVE (m/s)</text>
<clipPath id="c12"><rect x="743.7" y="417.6" width="187.5" height="70.2"/></clipPath>
<rect x="743.7" y="417.6" width="187.5" height="70.2" fill="#fff" stroke="none" stroke-width="1"/>
<line x1="760.9" y1="417.6" x2="760.9" y2="487.8" stroke="#e7e7e7" stroke-width="1"/>
<line x1="800" y1="417.6" x2="800" y2="487.8" stroke="#e7e7e7" stroke-width="1"/>
<line x1="839" y1="417.6" x2="839" y2="487.8" stroke="#e7e7e7" stroke-width="1"/>
<line x1="878.1" y1="417.6" x2="878.1" y2="487.8" stroke="#e7e7e7" stroke-width="1"/>
<line x1="917.1" y1="417.6" x2="917.1" y2="487.8" stroke="#e7e7e7" stroke-width="1"/>
<line x1="743.7" y1="453.2" x2="931.2" y2="453.2" stroke="#e7e7e7" stroke-width="1"/>
<polyline points="742.1,326.3 745.3,321.6 748.3,318.3 751.4,316.1 755.2,313.2 760.9,307.5 769,298.2 779,286.4 789.6,273.5 800,260.8 809.7,248.8 819.5,236.6 829.2,224.2 839,211.7 848.8,199.1 858.5,186.5 868.3,173.6 878.1,160.5 888.4,146 899.2,130.7 909.1,116.3 917.1,104.6 922.7,96.4 926.6,90.5 929.3,86.3 931.2,83.2" fill="none" stroke="#278c27" stroke-width="2.5" stroke-linecap="butt" stroke-linejoin="round" clip-path="url(#c12)"/>
<polyline points="742.7,474.9 743.7,476.6 744.9,479.2 746,480.8 747.6,467.7 748.7,469.2 749.8,468.8 750.9,468.3 752,468.4 753.1,468.4 754.1,468 755,468.5 756,468.2 757,468.9 758,469.8 758.9,469.8 759.9,469.9 760.9,468.5 761.9,467.9 763,467.6 764,467.1 765.1,467.7 766.1,467 767.1,466.1 768.2,467.6 769.3,469.4 770.4,470.6 771.5,472 772.6,472.5 773.7,474.1 774.8,475.6 775.9,476.3 777,476.3 778.1,476.5 779.1,476.5 780.1,476 781.1,476.9 782.1,478.3 783.2,478.2 784.2,478.3 785.2,479 786.2,478.5 787.2,478.9 788.2,479.5 789,470.7 790,469.3 791,470.4 792,470.3 793,470.3 794,470.4 795,470 796,470.1 797.1,468.7 798.1,468.7 799.1,468.2 800.1,469 801.1,468.9 802.1,468.4 803.2,467.6 804.2,468.4 805.2,468.3 806.2,467.4 807.8,464.4 809.3,448.7 810.3,448.6 811.2,447.9 812.2,448.3 813.1,447.9 814.1,447.6 815,446.8 816,447.1 816.9,446.9 817.9,447.5 818.8,447 819.8,447.5 820.7,447.4 821.7,447.6 822.6,447.8 823.6,448.2 824.5,448.2 825.5,447.5 826.4,447.7 827.4,448.1 828.3,446.8 829.3,447 830.2,445.7 831.2,445.6 832.2,446.5 833.2,446.2 834.1,446.1 835.1,447.5 835.9,457.2" fill="none" stroke="#000000" stroke-width="2.3" stroke-linecap="butt" stroke-linejoin="round" clip-path="url(#c12)"/>
<polyline points="742.7,472.1 743.7,472 744.9,472.6 746,473.6 747.1,470.8 748.1,467.9 749.2,465.3 750.1,465.4 751.1,465.3 752.1,464.7 753.1,461.3 754.1,460.7 755,459.5 756,461.5 757,461 758,461.1 758.9,460.4 759.9,461.2 760.9,459.8 761.9,461 762.8,460.3 763.8,459.2 764.8,457.8 765.8,457.3 766.7,457 767.7,456.3 768.7,455.4 769.7,456.7 770.7,456.5 771.6,455.8 772.6,455.5 773.6,457.4 774.6,457.9 775.5,458.3 776.5,459.8 777.5,460.8 778.5,462.5 779.4,463.3 780.4,464 781.4,465.3 782.4,464.5 783.3,462.9 784.3,462.3 785.3,462.3 786.3,463.2 787.3,462.7 788.2,462.8 789.2,462.7 790.2,461.2 791.2,462.2 792.1,460.7 793.1,463 794.1,463.2 795.1,464 796,465.5 797,464.4 798,464.2 799,463.6 800,462.3 800.9,463.4 801.9,464.6 802.9,464.4 803.9,463.1 804.8,461.1 805.8,458.9 806.8,454.5 807.8,451.4 809.3,450 810.4,449.1 811.4,450.2 812.5,449.9 813.5,451.2 814.5,451.3 815.6,450.3 816.6,449.1 817.5,448.4 818.5,449.3 819.5,449.1 820.5,449.7 821.4,450.4 822.4,449.7 823.4,448.2 824.4,447.3 825.3,447 826.3,446.1 827.3,447.3 828.3,448.3 829.2,448 830.2,448.2 831.2,448.4 832.2,448.5 833.2,448 834.1,448.3 835.1,449.1 835.9,457 836.9,456.2 837.9,457.3 838.9,459.2 839.9,460.6 840.9,459.2 841.9,460.8 842.8,460 843.8,460 844.8,460.9 845.8,460.2 846.8,462.1 847.8,462.5 848.8,461.8 849.8,462.4 850.7,460.5 851.7,460.9 852.7,461.3 853.7,461.8 854.6,460.3 856.2,451.6 857.1,450.2 858.1,449 859,447.5 860,445.9 860.9,445.4 862,447.1 863.1,447.4 864.2,448.5 865.3,449.7 866.4,449.1 867.3,447.9 868.3,448.7 869.3,448.8 870.3,448.7 871.2,447.5 872.2,447.3 873.2,446.9 874.2,446.1 875.1,446.4 876.1,445.2 877.1,444 878.1,445.4 879.1,443.7 880,443.1 881,444.2 882,443.8 883,442.9 884.1,441.4 885.1,441.8 886.1,441.3 887.2,440 888.2,439.3 889.8,448.7 890.8,449.8 891.7,450 892.7,451.4 893.7,450.8 894.7,450.3 895.7,450.5 896.6,450.4 897.6,451.9 898.6,450.9 899.6,450.1 900.5,449.6 901.5,450.7 902.5,450.7 903.5,452.1 904.4,451.3 905.4,451.1 906.4,452.4 907.4,454 908.3,454.1 909.3,453.9 910.3,453.2 911.3,453.6 912.3,455.2 913.2,454.1 914.2,455.6 915.2,454.4 916.2,455.6 917.1,455.9 918.1,454.7 919,455.8 920,456.5 920.9,455.8 921.8,454.8 922.8,453.9 923.7,453.8 924.6,453 925.6,453.8 926.5,453 927.5,454.9 928.4,455.7 929.3,455.3 930.3,455.8 931.2,454.8" fill="none" stroke="#ffff00" stroke-width="2.3" stroke-linecap="butt" stroke-linejoin="round" clip-path="url(#c12)"/>
<polyline points="675.7,454.9 743.7,454.2 931.2,456" fill="none" stroke="#ff0000" stroke-width="2.3" stroke-linecap="butt" stroke-linejoin="round" clip-path="url(#c12)"/>
<polyline points="675.7,453.2 743.7,453.2 931.2,454.9" fill="none" stroke="#00ff00" stroke-width="2.3" stroke-linecap="butt" stroke-linejoin="round" clip-path="url(#c12)"/>
<polyline points="675.7,455.3 743.7,454.9 760.9,454.9 772.6,451.4 784.3,448.8 792.1,450.6 807.8,454.9 839,456.7 862.5,457.2 866.4,453.2 917.1,453.2 931.2,454.1" fill="none" stroke="#0000ff" stroke-width="2.3" stroke-linecap="butt" stroke-linejoin="round" clip-path="url(#c12)"/>
<polyline points="698.4,440.6 743.7,452.3 764.8,454.1 776.5,449.7 788.2,448.5 800,451.4 815.6,454.9 839,455.8 862.5,455.8 878.1,452 931.2,457.6" fill="none" stroke="#00ffff" stroke-width="2.3" stroke-linecap="butt" stroke-linejoin="round" clip-path="url(#c12)"/>
<polyline points="721.8,447.9 743.7,450.9 760.9,453.2 772.6,454.1 780.4,452.7 800,454.9 807.8,457.6 815.6,454.9 839,453.7 878.1,452 901.5,453.2 917.1,456.7 931.2,461.1" fill="none" stroke="#ff00ff" stroke-width="2.3" stroke-linecap="butt" stroke-linejoin="round" clip-path="url(#c12)"/>
<polyline points="706.2,465.1 743.7,469.9 760.9,468.1 792.1,466.4 807.8,466.4 839,464.6 870.3,465.5 893.7,469 909.3,470.2 931.2,468.1" fill="none" stroke="#ff0000" stroke-width="2.3" stroke-linecap="butt" stroke-linejoin="round" stroke-dasharray="2.2 2.6" clip-path="url(#c12)"/>
<polyline points="706.2,465.1 743.7,466.4 760.9,469 772.6,464.6 784.3,461.1 792.1,464.6 807.8,465.5 839,462.8 870.3,463.7 901.5,466.4 931.2,467.2" fill="none" stroke="#00ff00" stroke-width="2.3" stroke-linecap="butt" stroke-linejoin="round" stroke-dasharray="2.2 2.6" clip-path="url(#c12)"/>
<polyline points="706.2,465.1 743.7,463.7 753.1,461.1 764.8,455.8 772.6,461.1 780.4,464.6 792.1,466.4 794.5,461.1 815.6,459.3 839,459.3 862.5,457.6 878.1,460.2 901.5,464.6 931.2,467.2" fill="none" stroke="#0000ff" stroke-width="2.3" stroke-linecap="butt" stroke-linejoin="round" stroke-dasharray="2.2 2.6" clip-path="url(#c12)"/>
<polyline points="706.2,465.1 743.7,461.1 760.9,469.9 776.5,478.6 790.6,486.5 792.9,487.4 793.7,459.3 807.8,457.6 823.4,455.8 839,455.8 862.5,457.6 885.9,461.1 917.1,462.8 931.2,463.7" fill="none" stroke="#00ffff" stroke-width="2.3" stroke-linecap="butt" stroke-linejoin="round" stroke-dasharray="2.2 2.6" clip-path="url(#c12)"/>
<polyline points="741.4,463 743.7,447 746,442.7 760.9,433.9 768.7,429.5 776.5,421.1 784.3,420.4 796,422.8 807.8,422.5 814,422.8 816.4,433 823.4,437.4 839,442.7 854.6,447 870.3,450.9 884.3,455.8 887.5,447 901.5,448.8 909.3,449.7 917.1,449.2 931.2,452" fill="none" stroke="#ff00ff" stroke-width="2.3" stroke-linecap="butt" stroke-linejoin="round" stroke-dasharray="2.2 2.6" clip-path="url(#c12)"/>
<rect x="743.7" y="417.6" width="187.5" height="70.2" fill="none" stroke="#555555" stroke-width="1"/>
<line x1="760.9" y1="487.8" x2="760.9" y2="485.3" stroke="#555555" stroke-width="1"/>
<line x1="760.9" y1="417.6" x2="760.9" y2="420.1" stroke="#555555" stroke-width="1"/>
<text x="760.9" y="502.2" font-size="11.5" text-anchor="middle" fill="#3a3a3a">200</text>
<line x1="800" y1="487.8" x2="800" y2="485.3" stroke="#555555" stroke-width="1"/>
<line x1="800" y1="417.6" x2="800" y2="420.1" stroke="#555555" stroke-width="1"/>
<text x="800" y="502.2" font-size="11.5" text-anchor="middle" fill="#3a3a3a">250</text>
<line x1="839" y1="487.8" x2="839" y2="485.3" stroke="#555555" stroke-width="1"/>
<line x1="839" y1="417.6" x2="839" y2="420.1" stroke="#555555" stroke-width="1"/>
<text x="839" y="502.2" font-size="11.5" text-anchor="middle" fill="#3a3a3a">300</text>
<line x1="878.1" y1="487.8" x2="878.1" y2="485.3" stroke="#555555" stroke-width="1"/>
<line x1="878.1" y1="417.6" x2="878.1" y2="420.1" stroke="#555555" stroke-width="1"/>
<text x="878.1" y="502.2" font-size="11.5" text-anchor="middle" fill="#3a3a3a">350</text>
<line x1="917.1" y1="487.8" x2="917.1" y2="485.3" stroke="#555555" stroke-width="1"/>
<line x1="917.1" y1="417.6" x2="917.1" y2="420.1" stroke="#555555" stroke-width="1"/>
<text x="917.1" y="502.2" font-size="11.5" text-anchor="middle" fill="#3a3a3a">400</text>
<line x1="743.7" y1="418.1" x2="746.2" y2="418.1" stroke="#555555" stroke-width="1"/>
<line x1="931.2" y1="418.1" x2="928.7" y2="418.1" stroke="#555555" stroke-width="1"/>
<text x="740" y="421.9" font-size="11.5" text-anchor="end" fill="#3a3a3a">0.1</text>
<line x1="743.7" y1="453.2" x2="746.2" y2="453.2" stroke="#555555" stroke-width="1"/>
<line x1="931.2" y1="453.2" x2="928.7" y2="453.2" stroke="#555555" stroke-width="1"/>
<text x="740" y="457" font-size="11.5" text-anchor="end" fill="#3a3a3a">0</text>
<line x1="743.7" y1="488.3" x2="746.2" y2="488.3" stroke="#555555" stroke-width="1"/>
<line x1="931.2" y1="488.3" x2="928.7" y2="488.3" stroke="#555555" stroke-width="1"/>
<text x="740" y="492.1" font-size="11.5" text-anchor="end" fill="#3a3a3a">-0.1</text>
<line x1="943" y1="498.5" x2="961.7" y2="507.5" stroke="#1f9bf5" stroke-width="3.0"/>
<polygon points="968,510.5 959.1,510.6 962.5,503.5" fill="#1f9bf5"/>
<rect x="64.6" y="610.8" width="526.2" height="78.9" fill="#fff" stroke="#555555" stroke-width="1"/>
<line x1="67" y1="619.3" x2="90.2" y2="619.3" stroke="#278c27" stroke-width="2.3"/>
<text x="92.6" y="623.8" font-size="12.85" text-anchor="start" fill="#222">INS</text>
<line x1="67" y1="635.4" x2="90.2" y2="635.4" stroke="#000000" stroke-width="2.3"/>
<text x="92.6" y="639.9" font-size="12.85" text-anchor="start" fill="#222">Standard INS+LEO2</text>
<line x1="67" y1="651" x2="90.2" y2="651" stroke="#ffff00" stroke-width="2.3"/>
<text x="92.6" y="655.5" font-size="12.85" text-anchor="start" fill="#222">Standard INS+LEO2+Altimeter</text>
<line x1="67" y1="666.4" x2="90.2" y2="666.4" stroke="#ff0000" stroke-width="2.3"/>
<text x="92.6" y="670.9" font-size="12.85" text-anchor="start" fill="#222">Unbiased altimeter+5 s switching</text>
<line x1="67" y1="681.3" x2="90.2" y2="681.3" stroke="#00ff00" stroke-width="2.3"/>
<text x="92.6" y="685.8" font-size="12.85" text-anchor="start" fill="#222">Unbiased altimeter+10 s switching</text>
<line x1="277.5" y1="619.3" x2="301.4" y2="619.3" stroke="#0000ff" stroke-width="2.3"/>
<text x="303.8" y="623.8" font-size="12.85" text-anchor="start" fill="#222">Unbiased altimeter+30 s switching</text>
<line x1="277.5" y1="635.4" x2="301.4" y2="635.4" stroke="#00ffff" stroke-width="2.3"/>
<text x="303.8" y="639.9" font-size="12.85" text-anchor="start" fill="#222">Unbiased altimeter+60 s switching</text>
<line x1="277.5" y1="651" x2="301.4" y2="651" stroke="#ff00ff" stroke-width="2.3"/>
<text x="303.8" y="655.5" font-size="12.85" text-anchor="start" fill="#222">Unbiased altimeter+90 s switching</text>
<line x1="277.5" y1="666.4" x2="301.4" y2="666.4" stroke="#ff0000" stroke-width="2.4" stroke-dasharray="2.2 2.8"/>
<text x="303.8" y="670.9" font-size="12.85" text-anchor="start" fill="#222">5 s switching</text>
<line x1="277.5" y1="681.3" x2="301.4" y2="681.3" stroke="#00ff00" stroke-width="2.4" stroke-dasharray="2.2 2.8"/>
<text x="303.8" y="685.8" font-size="12.85" text-anchor="start" fill="#222">10 s switching</text>
<line x1="487.4" y1="619.3" x2="509.4" y2="619.3" stroke="#0000ff" stroke-width="2.4" stroke-dasharray="2.2 2.8"/>
<text x="513.7" y="623.8" font-size="12.85" text-anchor="start" fill="#222">30 s switching</text>
<line x1="487.4" y1="635.4" x2="509.4" y2="635.4" stroke="#00ffff" stroke-width="2.4" stroke-dasharray="2.2 2.8"/>
<text x="513.7" y="639.9" font-size="12.85" text-anchor="start" fill="#222">60 s switching</text>
<line x1="487.4" y1="651" x2="509.4" y2="651" stroke="#ff00ff" stroke-width="2.4" stroke-dasharray="2.2 2.8"/>
<text x="513.7" y="655.5" font-size="12.85" text-anchor="start" fill="#222">90 s switching</text>
<clipPath id="c13"><rect x="64.4" y="697.4" width="526.3" height="113.8"/></clipPath>
<rect x="64.4" y="697.4" width="526.3" height="113.8" fill="#fff" stroke="none" stroke-width="1"/>
<line x1="127.4" y1="697.4" x2="127.4" y2="811.2" stroke="#e7e7e7" stroke-width="1"/>
<line x1="190.3" y1="697.4" x2="190.3" y2="811.2" stroke="#e7e7e7" stroke-width="1"/>
<line x1="253.3" y1="697.4" x2="253.3" y2="811.2" stroke="#e7e7e7" stroke-width="1"/>
<line x1="316.2" y1="697.4" x2="316.2" y2="811.2" stroke="#e7e7e7" stroke-width="1"/>
<line x1="379.2" y1="697.4" x2="379.2" y2="811.2" stroke="#e7e7e7" stroke-width="1"/>
<line x1="442.1" y1="697.4" x2="442.1" y2="811.2" stroke="#e7e7e7" stroke-width="1"/>
<line x1="505.1" y1="697.4" x2="505.1" y2="811.2" stroke="#e7e7e7" stroke-width="1"/>
<line x1="568" y1="697.4" x2="568" y2="811.2" stroke="#e7e7e7" stroke-width="1"/>
<line x1="64.4" y1="706.3" x2="590.7" y2="706.3" stroke="#e7e7e7" stroke-width="1"/>
<line x1="64.4" y1="737" x2="590.7" y2="737" stroke="#e7e7e7" stroke-width="1"/>
<line x1="64.4" y1="767.7" x2="590.7" y2="767.7" stroke="#e7e7e7" stroke-width="1"/>
<line x1="64.4" y1="798.4" x2="590.7" y2="798.4" stroke="#e7e7e7" stroke-width="1"/>
<polyline points="64.4,767.7 77,767.1 83.3,762.6 89.6,759.7 95.9,763.7 102.2,767.1 114.8,773.8 127.4,778.1 139.9,780.4 165.1,780.4 190.3,781.1 209.2,781.5 215.5,778.1 240.7,757.7 265.9,739.8 287.3,723.6 288.5,718 303.6,716.4 320,715.7 354,714.1 366.6,709.1 379.2,707.1 442.1,703.4 505.1,700.9 568,698.6 590.7,697.4" fill="none" stroke="#278c27" stroke-width="2.5" stroke-linecap="butt" stroke-linejoin="round" clip-path="url(#c13)"/>
<polyline points="64.4,768 66.9,767.8 69.4,767.8 70.7,774.8 72.6,775.9 74.5,777 77,773.7 79.5,774.1 82,768.3 84.5,765.4 87.1,761.6 89.6,760.4 92.1,761.4 94,766.3 95.9,770.6 97.8,773.1 99.7,776.2 102.2,774.5 104.1,776.4 106,779.3 107.8,779.2 109.7,778.4 112.2,779 114.8,780.4 116.9,781 119,781.4 121.1,782.1 123.2,782.5 125.3,782.6 127.4,782.8 129.5,783.2 131.6,783.4 133.7,783.7 135.7,783.7 137.8,783.9 139.9,784.4 141.9,783.9 143.8,783.9 145.8,783.8 147.7,784.3 149.6,783.8 151.6,783.7 153.5,784.4 155.4,784.6 157.4,784.4 159.3,784.4 161.3,784.1 163.2,784.5 165.1,784.4 167.2,784.8 169.3,785.5 171.4,785.8 173.3,785.7 175.2,785.7 177.1,786.1 179,786.3 180.9,787.1 182.8,787.4 184.6,787.1 186.5,787.4 188.4,787.8 190.3,787.8 192.4,787.5 194.5,787.2 196.6,787.3 198.7,787.3 200.8,787.2 202.9,786.8 205.4,786.6 207.9,786.4 209.2,789.8 211.3,789.7 213.4,789.4 215.5,788.3 217.6,787.1 219.7,786.4 221.8,785.8 223.9,785.4 226,784.6 228.1,783.3 230.2,782.8 232.3,782.5 234.4,781.8 236.5,781.9 238.6,781.4 240.7,780.6 242.6,780.2 244.5,779.9 246.5,779.7 248.4,779.1 250.4,778.2 252.3,778.4 254.2,777.5 256.2,776.8 258.1,776.1 260,775.6 262,775.1 263.9,774.9 265.9,774.5 267.8,774 269.7,773.7 271.7,772.5 273.6,771.8 275.6,771.5 277.5,770.7 279.5,770 281.4,769.4 283.4,768.7 285.3,767.9 287.3,767 288.5,763.6 290.7,763.6 292.9,763.9 295.1,763.9 297.3,763.8 299.4,763.7 301.5,763.4 303.6,763.3 305.7,763.4 307.8,763.4 309.9,764 311.9,763.8 314,763.8 316,764.3 318,764.7 320,764.9 321.9,764.5 323.8,764.7 325.7,764.9 327.6,764.6 329.4,764.7 331.3,765.1 333.2,765.2 335.1,765 337,764.9 338.9,764.7 340.8,764.1 342.7,763.8 344.5,763.7 346.4,763.4 348.3,763.6 350.2,763.2 352.1,762.9 354,762.8 356.1,762.7 358.2,761.8 360.3,761.6 362.4,761.6 364.5,761.1 366.6,760.5 368.6,761 370.6,761.3 372.6,761.3 374.6,760.8 376.5,760.9 378.5,760.5 380.5,760.2 382.5,760.2 384.5,760.4 386.5,759.8 388.5,759.6 390.5,759.7 391.8,756.6 393.7,756.4 395.6,756.5 397.6,756.3 399.5,756.5 401.4,756.3 403.4,756.7 405.3,756.7 407.3,756 409.2,755.7 411.1,756 413.1,755.7 415,756 416.9,755.6 419,755.5 421,755.6 423,755.9 425,756.2 427,755.5 429,755.9 431,755.3 433.1,754.8 435.1,754.9 437.1,755.2 439.6,756.7 441.6,756.3 443.6,756.3 445.5,756.5 447.5,756.7 449.5,756.9 451.5,757.1 453.5,756.8 455.4,756.8 457.4,757 459.4,757.2 461.4,756.8 463.4,756.9 465.3,756.7 467.3,756.8 469.2,756.2 471.2,755.7 473.1,756.2 475.1,756.3 477,756.2 478.9,755.4 480.9,755.1 482.8,755.3 484.7,755.4 486.7,755 488.6,754.6 490.6,754.2 492.5,754.4 494.4,754.1 496.4,754 498.3,754.1 500.2,753.7 502.2,754.1 504.1,753.9 506.1,754.3 508,754.4 509.9,753.8 511.9,754 513.8,753.6 515.7,753.5 517.7,753.2 519.8,753.5 521.9,753.6 524,753.8 525.2,755.8 527.2,755.8 529.1,755.4 531.1,755.2 533.1,755.8 535,755.8 537,756.1 538.9,756.4 540.9,756.5 542.9,755.8 544.8,755.5 546.7,755.1 548.7,755.4 550.6,755.2 552.5,755 554.5,755.1 556.4,755 558.4,755.2 560.3,755.5 562.2,755.4 564.2,754.8 566.1,754.6 568,754.2 569.9,754.3 571.8,754.5 573.7,754.2 575.6,753.9 577.5,754.4 579.4,754.1 581.3,754.4 583.1,754.5 585,753.8 586.9,754.2 588.8,754.2 590.7,753.4" fill="none" stroke="#000000" stroke-width="2.3" stroke-linecap="butt" stroke-linejoin="round" clip-path="url(#c13)"/>
<polyline points="64.4,767.7 89.6,762.6 95.9,767.1 108.5,770.8 127.4,772.3 165.1,772.3 190.3,773.1 209.2,773.8 228.1,771.5 265.9,769.2 288.5,767.1 335.1,767.1 590.7,767.7" fill="none" stroke="#ffff00" stroke-width="2.3" stroke-linecap="butt" stroke-linejoin="round" clip-path="url(#c13)"/>
<polyline points="64.4,767.7 83.3,764.6 89.6,762.6 95.9,770.8 102.2,778.8 114.8,784.4 139.9,781.5 165.1,780.6 190.3,778.8 215.5,777.7 253.3,774.3 288.5,769.8 335.1,768.8 590.7,767.9" fill="none" stroke="#ff0000" stroke-width="2.3" stroke-linecap="butt" stroke-linejoin="round" clip-path="url(#c13)"/>
<polyline points="64.4,767.7 83.3,764.6 89.6,762.6 95.9,770.8 102.2,779.1 114.8,784.7 139.9,781.8 165.1,780.9 190.3,779.1 215.5,778 253.3,774.6 288.5,770.2 335.1,769.1 590.7,768.2" fill="none" stroke="#00ff00" stroke-width="2.3" stroke-linecap="butt" stroke-linejoin="round" clip-path="url(#c13)"/>
<polyline points="64.4,767.7 83.3,764.6 89.6,762.6 95.9,770.8 102.2,779.7 114.8,785.4 139.9,782.4 165.1,781.5 190.3,779.7 215.5,778.6 253.3,775.2 288.5,770.8 335.1,769.7 590.7,768.8" fill="none" stroke="#0000ff" stroke-width="2.3" stroke-linecap="butt" stroke-linejoin="round" clip-path="url(#c13)"/>
<polyline points="64.4,767.7 83.3,764.6 89.6,762.6 95.9,770.8 102.2,779.2 114.8,784.9 139.9,782.9 165.1,782 190.3,780.1 215.5,779.1 253.3,775.7 288.5,771.2 335.1,770.2 590.7,769.2" fill="none" stroke="#00ffff" stroke-width="2.3" stroke-linecap="butt" stroke-linejoin="round" clip-path="url(#c13)"/>
<polyline points="64.4,767.7 77,768.2 83.3,772.6 89.6,778.1 95.9,782.6 102.2,784.6 114.8,785.5 139.9,784.9 165.1,783.7 177.7,784.9 190.3,783.4 215.5,780.4 253.3,776 288.5,771.5 291,770.3 335.1,769.2 590.7,768.5" fill="none" stroke="#ff00ff" stroke-width="2.3" stroke-linecap="butt" stroke-linejoin="round" clip-path="url(#c13)"/>
<polyline points="64.4,767.7 83.3,764.6 89.6,761.6 102.2,768.2 114.8,775.5 127.4,780 139.9,783.2 152.5,786.6 165.1,788.9 177.7,792.3 190.3,794.4 202.9,795.5 209.2,797.9 215.5,798.9 228.1,798.9 240.7,798.4 253.3,797.2 265.9,796.2 278.4,793.9 287.3,791.8 288.5,787.2 303.6,787.7 320,787.8 335.1,788.7 364.1,783.4 372.9,785.4 442.1,784.4 505.1,782.3 568,781.1 590.7,779.4" fill="none" stroke="#ff0000" stroke-width="2.3" stroke-linecap="butt" stroke-linejoin="round" stroke-dasharray="2.2 2.6" clip-path="url(#c13)"/>
<polyline points="64.4,767.7 83.3,764.6 89.6,761.6 102.2,768.2 114.8,776 127.4,780.4 139.9,783.7 152.5,787 165.1,789.3 177.7,792.7 190.3,794.9 202.9,795.9 209.2,798.4 215.5,799.3 228.1,799.3 240.7,798.9 253.3,797.6 265.9,796.7 278.4,794.4 287.3,792.3 288.5,787.7 303.6,788.1 320,788.3 335.1,789.2 364.1,783.8 372.9,785.8 442.1,784.9 505.1,782.7 568,781.5 590.7,779.8" fill="none" stroke="#00ff00" stroke-width="2.3" stroke-linecap="butt" stroke-linejoin="round" stroke-dasharray="2.2 2.6" clip-path="url(#c13)"/>
<polyline points="64.4,767.7 83.3,764.6 89.6,761.6 102.2,768.2 114.8,776.6 127.4,781.1 139.9,784.3 152.5,787.7 165.1,790 177.7,793.3 190.3,795.5 202.9,796.6 209.2,799 215.5,799.9 228.1,799.9 240.7,799.5 253.3,798.2 265.9,797.3 278.4,795 287.3,792.9 288.5,788.3 303.6,788.7 320,788.9 335.1,789.8 364.1,784.4 372.9,786.4 442.1,785.5 505.1,783.4 568,782.1 590.7,780.4" fill="none" stroke="#0000ff" stroke-width="2.3" stroke-linecap="butt" stroke-linejoin="round" stroke-dasharray="2.2 2.6" clip-path="url(#c13)"/>
<polyline points="64.4,767.7 83.3,764.6 89.6,761.6 102.2,768.2 114.8,776 127.4,780.4 138.7,781.5 139.9,769.2 142.5,779.2 152.5,786 165.1,786.4 177.7,789.2 190.3,790.9 205.4,792.7 209.2,799.3 215.5,802.7 221.8,804.8 228.1,804.2 240.7,802.7 253.3,799.3 265.9,797.2 278.4,794.9 287.3,792.7 288.5,788.3 303.6,788.6 320,790.1 335.1,790.7 364.1,785.8 372.9,787.3 442.1,786.1 505.1,784.3 568,783 590.7,781.7" fill="none" stroke="#00ffff" stroke-width="2.3" stroke-linecap="butt" stroke-linejoin="round" stroke-dasharray="2.2 2.6" clip-path="url(#c13)"/>
<polyline points="64.4,767.7 83.3,764.6 89.6,761.6 95.9,762.6 102.2,763.2 127.4,765.4 139.9,765.4 158.8,763.7 167.6,762.6 175.2,765.9 177.7,768.2 179,786.1 180.2,791.5 190.3,794.9 209.2,798.4 215.5,799.3 240.7,799.8 253.3,798.4 265.9,799.3 278.4,802.7 288.5,803.8 291,799.3 293.6,807.1 303.6,808.2 320,808.4 335.1,810.7 354,809.9 366.6,807.9 401.8,806.8 406.9,801.6 442.1,799.2 505.1,796.4 517.7,795.3 568,795.8 590.7,794.3" fill="none" stroke="#ff00ff" stroke-width="2.3" stroke-linecap="butt" stroke-linejoin="round" stroke-dasharray="2.2 2.6" clip-path="url(#c13)"/>
<rect x="64.4" y="697.4" width="526.3" height="113.8" fill="none" stroke="#555555" stroke-width="1"/>
<line x1="64.4" y1="811.2" x2="64.4" y2="807.2" stroke="#555555" stroke-width="1"/>
<line x1="64.4" y1="697.4" x2="64.4" y2="701.4" stroke="#555555" stroke-width="1"/>
<text x="64.4" y="825.9" font-size="11.5" text-anchor="middle" fill="#3a3a3a">0</text>
<line x1="127.4" y1="811.2" x2="127.4" y2="807.2" stroke="#555555" stroke-width="1"/>
<line x1="127.4" y1="697.4" x2="127.4" y2="701.4" stroke="#555555" stroke-width="1"/>
<text x="127.4" y="825.9" font-size="11.5" text-anchor="middle" fill="#3a3a3a">50</text>
<line x1="190.3" y1="811.2" x2="190.3" y2="807.2" stroke="#555555" stroke-width="1"/>
<line x1="190.3" y1="697.4" x2="190.3" y2="701.4" stroke="#555555" stroke-width="1"/>
<text x="190.3" y="825.9" font-size="11.5" text-anchor="middle" fill="#3a3a3a">100</text>
<line x1="253.3" y1="811.2" x2="253.3" y2="807.2" stroke="#555555" stroke-width="1"/>
<line x1="253.3" y1="697.4" x2="253.3" y2="701.4" stroke="#555555" stroke-width="1"/>
<text x="253.3" y="825.9" font-size="11.5" text-anchor="middle" fill="#3a3a3a">150</text>
<line x1="316.2" y1="811.2" x2="316.2" y2="807.2" stroke="#555555" stroke-width="1"/>
<line x1="316.2" y1="697.4" x2="316.2" y2="701.4" stroke="#555555" stroke-width="1"/>
<text x="316.2" y="825.9" font-size="11.5" text-anchor="middle" fill="#3a3a3a">200</text>
<line x1="379.2" y1="811.2" x2="379.2" y2="807.2" stroke="#555555" stroke-width="1"/>
<line x1="379.2" y1="697.4" x2="379.2" y2="701.4" stroke="#555555" stroke-width="1"/>
<text x="379.2" y="825.9" font-size="11.5" text-anchor="middle" fill="#3a3a3a">250</text>
<line x1="442.1" y1="811.2" x2="442.1" y2="807.2" stroke="#555555" stroke-width="1"/>
<line x1="442.1" y1="697.4" x2="442.1" y2="701.4" stroke="#555555" stroke-width="1"/>
<text x="442.1" y="825.9" font-size="11.5" text-anchor="middle" fill="#3a3a3a">300</text>
<line x1="505.1" y1="811.2" x2="505.1" y2="807.2" stroke="#555555" stroke-width="1"/>
<line x1="505.1" y1="697.4" x2="505.1" y2="701.4" stroke="#555555" stroke-width="1"/>
<text x="505.1" y="825.9" font-size="11.5" text-anchor="middle" fill="#3a3a3a">350</text>
<line x1="568" y1="811.2" x2="568" y2="807.2" stroke="#555555" stroke-width="1"/>
<line x1="568" y1="697.4" x2="568" y2="701.4" stroke="#555555" stroke-width="1"/>
<text x="568" y="825.9" font-size="11.5" text-anchor="middle" fill="#3a3a3a">400</text>
<line x1="64.4" y1="706.3" x2="68.4" y2="706.3" stroke="#555555" stroke-width="1"/>
<line x1="590.7" y1="706.3" x2="586.7" y2="706.3" stroke="#555555" stroke-width="1"/>
<text x="59.4" y="710.1" font-size="11.5" text-anchor="end" fill="#3a3a3a">0.04</text>
<line x1="64.4" y1="737" x2="68.4" y2="737" stroke="#555555" stroke-width="1"/>
<line x1="590.7" y1="737" x2="586.7" y2="737" stroke="#555555" stroke-width="1"/>
<text x="59.4" y="740.8" font-size="11.5" text-anchor="end" fill="#3a3a3a">0.02</text>
<line x1="64.4" y1="767.7" x2="68.4" y2="767.7" stroke="#555555" stroke-width="1"/>
<line x1="590.7" y1="767.7" x2="586.7" y2="767.7" stroke="#555555" stroke-width="1"/>
<text x="59.4" y="771.5" font-size="11.5" text-anchor="end" fill="#3a3a3a">0</text>
<line x1="64.4" y1="798.4" x2="68.4" y2="798.4" stroke="#555555" stroke-width="1"/>
<line x1="590.7" y1="798.4" x2="586.7" y2="798.4" stroke="#555555" stroke-width="1"/>
<text x="59.4" y="802.2" font-size="11.5" text-anchor="end" fill="#3a3a3a">-0.02</text>
<text x="327.6" y="841" font-size="12.4" text-anchor="middle" fill="#3a3a3a">time (s)</text>
<text x="26" y="754.3" font-size="12.4" text-anchor="middle" fill="#3a3a3a" transform="rotate(-90 26 754.3)">AEE (<tspan font-size="9.5" dy="-5">o</tspan><tspan dy="5">)</tspan></text>
<clipPath id="c14"><rect x="64.4" y="849.9" width="526.3" height="113.4"/></clipPath>
<rect x="64.4" y="849.9" width="526.3" height="113.4" fill="#fff" stroke="none" stroke-width="1"/>
<line x1="127.4" y1="849.9" x2="127.4" y2="963.3" stroke="#e7e7e7" stroke-width="1"/>
<line x1="190.3" y1="849.9" x2="190.3" y2="963.3" stroke="#e7e7e7" stroke-width="1"/>
<line x1="253.3" y1="849.9" x2="253.3" y2="963.3" stroke="#e7e7e7" stroke-width="1"/>
<line x1="316.2" y1="849.9" x2="316.2" y2="963.3" stroke="#e7e7e7" stroke-width="1"/>
<line x1="379.2" y1="849.9" x2="379.2" y2="963.3" stroke="#e7e7e7" stroke-width="1"/>
<line x1="442.1" y1="849.9" x2="442.1" y2="963.3" stroke="#e7e7e7" stroke-width="1"/>
<line x1="505.1" y1="849.9" x2="505.1" y2="963.3" stroke="#e7e7e7" stroke-width="1"/>
<line x1="568" y1="849.9" x2="568" y2="963.3" stroke="#e7e7e7" stroke-width="1"/>
<line x1="64.4" y1="862.3" x2="590.7" y2="862.3" stroke="#e7e7e7" stroke-width="1"/>
<line x1="64.4" y1="879.7" x2="590.7" y2="879.7" stroke="#e7e7e7" stroke-width="1"/>
<line x1="64.4" y1="897.2" x2="590.7" y2="897.2" stroke="#e7e7e7" stroke-width="1"/>
<line x1="64.4" y1="914.6" x2="590.7" y2="914.6" stroke="#e7e7e7" stroke-width="1"/>
<line x1="64.4" y1="932.1" x2="590.7" y2="932.1" stroke="#e7e7e7" stroke-width="1"/>
<line x1="64.4" y1="949.5" x2="590.7" y2="949.5" stroke="#e7e7e7" stroke-width="1"/>
<polyline points="64.4,932.1 77,931 89.6,928.1 102.2,919.8 127.4,900.8 152.5,881.7 168.9,872.8 171.4,870.1 190.3,868.3 206.7,867.2 209.2,865.4 211.7,866.6 228.1,871.7 253.3,879.5 272.2,883.3 288.5,885.6 303.6,884 320,881.7 326.3,880.2 335.1,877.3 354,874 366.6,875.8 379.2,874.5 442.1,867.3 505.1,859.5 568,852.2 590.7,849.5" fill="none" stroke="#278c27" stroke-width="2.5" stroke-linecap="butt" stroke-linejoin="round" clip-path="url(#c14)"/>
<polyline points="64.4,932.3 66.4,932.8 68.4,932.9 70.4,933.3 72.5,933.7 74.5,933.7 77,938.8 79.5,948.4 81.4,948.9 83.3,950 85.2,948.9 87.1,948 89.6,949.3 92.1,950.6 94,952.3 95.9,953.4 97.8,955.3 99.7,957.4 102.2,960.2 104.3,961 106.4,961.4 108.5,961.6 110.4,962.1 112.2,962.5 114.4,961.9 116.7,962.1 118.9,961.5 121.1,960.9 123.2,960.4 125.3,960.2 127.4,959.6 129.5,959.3 131.6,958.2 133.7,957.5 135.7,956.8 137.8,956.3 139.9,955.2 142,954.6 144.1,953.6 146.2,952.8 148.3,952 150.4,951.3 152.5,950.2 154.6,949.9 156.7,949.6 158.8,949.2 160.9,948 163,947.8 165.1,947.3 167.2,946.5 169.3,946.3 171.4,945.7 173.5,944.5 175.6,943.5 177.7,941.8 179.8,942.2 181.9,942.3 184,942.5 186.1,942.2 188.2,942.4 190.3,942.4 192.4,942 194.5,942.1 196.6,941.9 198.7,941.4 200.8,941.8 202.9,942 205,941.7 207.1,941 209.2,940.5 211.3,940.2 213.4,939.7 215.5,939.3 217.7,938.7 219.9,938.5 222.1,937.6 224.3,936.7 225.6,932.4 227.5,932.3 229.5,932.1 231.5,932.7 233.5,932.8 235.5,932.2 237.4,932 239.4,932.1 241.4,931.7 243.4,931.7 245.3,931.5 247.3,931.8 249.3,932 251.3,931.9 253.3,932.1 255.2,932 257.1,931.4 259.1,931.6 261,932 262.9,932.2 264.9,932.1 266.8,931.6 268.8,931.6 270.7,931.7 272.6,931.9 274.6,931.2 276.5,931.3 278.4,931.5 280.3,931.8 282.2,931.9 284.1,931.9 286,931.5 287.9,931.7 289.8,931.9 291.7,931.6 293.6,931.7 295.4,931.1 297.3,931.5 298.6,933.1 300.5,932.7 302.4,932.7 304.3,932.2 306.1,932.3 308,932.5 309.9,932.4 311.8,932.7 313.7,932.5 315.6,932.4 317.5,931.8 319.4,931.4 321.3,931.5 323.1,931.8 325,931.8 326.9,931.8 328.8,931.8 330.8,931.8 332.7,931.2 334.7,931.5 336.7,931.8 338.6,931.2 340.6,931.2 342.6,930.8 344.5,931 346.5,930.8 348.5,930.8 350.4,930.7 352.4,930.7 354.4,930.9 356.4,931.4 358.3,931.6 360.3,931.1 362.2,932.4 364.1,933.7 366,934.1 367.9,934.1 369.8,934 371.7,934 373.6,933.9 375.5,934.1 377.4,934.1 379.3,934.1 381.2,934.4 383.1,934.1 385,933.8 386.9,934.5 388.8,934.1 390.7,933.8 392.6,934 394.5,934.6 396.4,934.2 398.3,934.7 400.2,934.2 402.1,934.2 404,934.7 406,935 407.9,934.7 409.8,934.6 411.7,934.4 413.6,934.1 415.5,934.5 417.4,935 419.3,934.5 421.2,935 423.1,934.5 425,934.9 426.9,934.5 428.8,934.3 430.7,934.1 432.6,934.3 434.5,934.1 436.4,934.6 438.3,934.5 440.2,934.7 442.1,934.4 444,934.2 445.9,934.4 447.8,934.4 449.7,934.9 451.7,935.1 453.6,934.8 455.5,934.6 457.4,934.2 459.3,934.2 461.2,934.5 463.1,934.5 465,934.2 466.9,934.2 468.8,934.6 470.7,934.1 472.6,933.8 474.5,934.3 476.4,934.1 478.3,934.2 480.2,933.8 482.1,934 484,934.2 485.9,934.1 487.8,933.6 489.7,934 491.7,934.2 493.6,933.9 495.5,933.5 497.4,933.5 499.3,933.6 501.2,933.3 503.1,933.1 505,933.6 506.9,933.2 508.8,933.6 510.7,933.7 512.6,933.2 514.5,933.3 516.4,933 518.3,933.4 520.2,933 522.1,933.3 524,933.6 525.9,933.4 527.8,933.4 529.7,933.2 531.7,932.8 533.6,932.6 535.5,933.2 537.4,933.2 539.3,933 541.2,932.9 543.1,932.7 545,932.7 546.9,933.1 548.8,933.1 550.7,932.6 552.6,932.7 554.5,932.4 556.4,932 558.3,932.1 560.2,932.1 562.1,932.1 564,932.4 565.9,932 567.8,932.1 569.7,931.8 571.7,932.2 573.6,931.9 575.5,931.7 577.4,931.8 579.3,932 581.2,932.3 583.1,932 585,932.1 586.9,931.9 588.8,932.2 590.7,932.4" fill="none" stroke="#000000" stroke-width="2.3" stroke-linecap="butt" stroke-linejoin="round" clip-path="url(#c14)"/>
<polyline points="64.4,932.1 77,933.2 83.3,936.1 95.9,937.7 108.5,939.9 127.4,938.8 152.5,936.1 177.7,933.2 224.3,933.2 253.3,931.7 297.3,931.7 298.6,933.7 320,933.2 335.1,931 360.3,931.7 366.6,933.8 442.1,933.8 590.7,932.5" fill="none" stroke="#ffff00" stroke-width="2.3" stroke-linecap="butt" stroke-linejoin="round" clip-path="url(#c14)"/>
<polyline points="64.4,932.1 83.3,938.2 89.6,938.8 92.1,950 98.4,950.4 104.7,950.4 108.5,951.8 121.1,947.8 133.7,943.3 139.9,941.1 152.5,938.4 171.4,934.4 209.2,934.4 228.1,935.4 265.9,936.5 291,937 320,937 379.2,935.6 442.1,934.4 505.1,933.2 568,932.1 590.7,931.4" fill="none" stroke="#ff0000" stroke-width="2.3" stroke-linecap="butt" stroke-linejoin="round" clip-path="url(#c14)"/>
<polyline points="64.4,932.1 83.3,933.8 89.6,933.8 90.8,934.4 92.1,947.8 102.2,953.4 114.8,951.1 139.9,943.3 141.2,941.1 152.5,938.4 171.4,934.4 209.2,934.4 228.1,935.4 265.9,936.5 291,937 320,937 379.2,935.6 442.1,934.4 505.1,933.2 568,932.1 590.7,931.4" fill="none" stroke="#00ff00" stroke-width="2.3" stroke-linecap="butt" stroke-linejoin="round" clip-path="url(#c14)"/>
<polyline points="64.4,932.1 83.3,941.1 89.6,946.7 95.9,951.8 114.8,951.1 139.9,947.3 141.2,941.5 152.5,938.4 171.4,934.4 209.2,934.4 228.1,935.4 265.9,936.5 291,937 320,937 379.2,935.6 442.1,934.4 505.1,933.2 568,932.1 590.7,931.4" fill="none" stroke="#0000ff" stroke-width="2.3" stroke-linecap="butt" stroke-linejoin="round" clip-path="url(#c14)"/>
<polyline points="64.4,932.1 77,933.2 83.3,941.1 89.6,946.7 95.9,951.1 102.2,952.2 121.1,948.7 139.9,942.6 152.5,939.5 171.4,936.1 209.2,936.1 291,938.2 379.2,936.5 590.7,932.1" fill="none" stroke="#00ffff" stroke-width="2.3" stroke-linecap="butt" stroke-linejoin="round" clip-path="url(#c14)"/>
<polyline points="64.4,932.1 77,933.2 83.3,941.1 89.6,946.7 95.9,951.1 102.2,952.2 108.5,951.8 121.1,947.8 133.7,943.3 139.9,941.1 152.5,938.4 171.4,934.4 209.2,934.4 228.1,935.4 265.9,936.5 291,937 320,937 379.2,935.6 442.1,934.4 505.1,933.2 568,932.1 590.7,931.4" fill="none" stroke="#ff00ff" stroke-width="2.3" stroke-linecap="butt" stroke-linejoin="round" clip-path="url(#c14)"/>
<polyline points="64.4,932.1 89.6,931 102.2,927.7 114.8,925.5 127.4,926.2 139.9,926.9 152.5,926.2 165.1,925 173.9,923.3 184,925 202.9,925.5 209.2,923.9 215.5,925.5 228.1,929.5 253.3,934 272.2,938 288.5,941.8 316.2,941.8 335.1,940.2 354,940.6 366.6,942.5 442.1,942.5 505.1,942 568,941.2 590.7,940.6" fill="none" stroke="#ff0000" stroke-width="2.3" stroke-linecap="butt" stroke-linejoin="round" stroke-dasharray="2.2 2.6" clip-path="url(#c14)"/>
<polyline points="64.4,932.1 89.6,931 102.2,928.1 114.8,925.8 127.4,926.5 139.9,927.2 152.5,926.5 165.1,925.4 173.9,923.6 184,925.4 202.9,925.8 209.2,924.2 215.5,925.8 228.1,929.8 253.3,934.4 272.2,938.4 288.5,942.1 316.2,942.1 335.1,940.6 354,941 366.6,942.8 442.1,942.8 505.1,942.4 568,941.5 590.7,941" fill="none" stroke="#00ff00" stroke-width="2.3" stroke-linecap="butt" stroke-linejoin="round" stroke-dasharray="2.2 2.6" clip-path="url(#c14)"/>
<polyline points="64.4,932.1 89.6,931 102.2,928.4 114.8,926.2 127.4,926.9 139.9,927.6 152.5,926.9 165.1,925.7 173.9,924 184,925.7 202.9,926.2 209.2,924.6 215.5,926.2 228.1,930.2 253.3,934.7 272.2,938.7 288.5,942.5 316.2,942.5 335.1,940.9 354,941.3 366.6,943.2 442.1,943.2 505.1,942.7 568,941.9 590.7,941.3" fill="none" stroke="#0000ff" stroke-width="2.3" stroke-linecap="butt" stroke-linejoin="round" stroke-dasharray="2.2 2.6" clip-path="url(#c14)"/>
<polyline points="64.4,932.1 89.6,931 102.2,927.6 127.4,918.7 139.9,915.3 141.2,920.9 143.7,925.4 152.5,926.5 165.1,924.2 173.9,920.9 177.7,922.1 190.3,922.7 209.2,922.1 215.5,924.2 228.1,928.8 253.3,933.2 272.2,937.7 288.5,941.5 316.2,941.5 335.1,940.6 354,941 366.6,942.8 442.1,942.8 505.1,942.4 568,941.5 590.7,941.9" fill="none" stroke="#00ffff" stroke-width="2.3" stroke-linecap="butt" stroke-linejoin="round" stroke-dasharray="2.2 2.6" clip-path="url(#c14)"/>
<polyline points="64.4,932.1 89.6,931 102.2,927.6 127.4,918.7 139.9,914.6 158.8,907.5 173.9,903.5 177.7,904.8 179,922.1 190.3,924.9 209.2,923.6 215.5,926.5 240.7,929.8 265.9,935.4 287.3,942.1 291,946.7 303.6,947.8 316.2,948.2 335.1,946.7 354,947.4 366.6,948.8 401.8,948.2 406.9,946.7 442.1,945.6 505.1,945.2 568,944.9 590.7,944.4" fill="none" stroke="#ff00ff" stroke-width="2.3" stroke-linecap="butt" stroke-linejoin="round" stroke-dasharray="2.2 2.6" clip-path="url(#c14)"/>
<rect x="64.4" y="849.9" width="526.3" height="113.4" fill="none" stroke="#555555" stroke-width="1"/>
<line x1="64.4" y1="963.3" x2="64.4" y2="959.3" stroke="#555555" stroke-width="1"/>
<line x1="64.4" y1="849.9" x2="64.4" y2="853.9" stroke="#555555" stroke-width="1"/>
<text x="64.4" y="978.5" font-size="11.5" text-anchor="middle" fill="#3a3a3a">0</text>
<line x1="127.4" y1="963.3" x2="127.4" y2="959.3" stroke="#555555" stroke-width="1"/>
<line x1="127.4" y1="849.9" x2="127.4" y2="853.9" stroke="#555555" stroke-width="1"/>
<text x="127.4" y="978.5" font-size="11.5" text-anchor="middle" fill="#3a3a3a">50</text>
<line x1="190.3" y1="963.3" x2="190.3" y2="959.3" stroke="#555555" stroke-width="1"/>
<line x1="190.3" y1="849.9" x2="190.3" y2="853.9" stroke="#555555" stroke-width="1"/>
<text x="190.3" y="978.5" font-size="11.5" text-anchor="middle" fill="#3a3a3a">100</text>
<line x1="253.3" y1="963.3" x2="253.3" y2="959.3" stroke="#555555" stroke-width="1"/>
<line x1="253.3" y1="849.9" x2="253.3" y2="853.9" stroke="#555555" stroke-width="1"/>
<text x="253.3" y="978.5" font-size="11.5" text-anchor="middle" fill="#3a3a3a">150</text>
<line x1="316.2" y1="963.3" x2="316.2" y2="959.3" stroke="#555555" stroke-width="1"/>
<line x1="316.2" y1="849.9" x2="316.2" y2="853.9" stroke="#555555" stroke-width="1"/>
<text x="316.2" y="978.5" font-size="11.5" text-anchor="middle" fill="#3a3a3a">200</text>
<line x1="379.2" y1="963.3" x2="379.2" y2="959.3" stroke="#555555" stroke-width="1"/>
<line x1="379.2" y1="849.9" x2="379.2" y2="853.9" stroke="#555555" stroke-width="1"/>
<text x="379.2" y="978.5" font-size="11.5" text-anchor="middle" fill="#3a3a3a">250</text>
<line x1="442.1" y1="963.3" x2="442.1" y2="959.3" stroke="#555555" stroke-width="1"/>
<line x1="442.1" y1="849.9" x2="442.1" y2="853.9" stroke="#555555" stroke-width="1"/>
<text x="442.1" y="978.5" font-size="11.5" text-anchor="middle" fill="#3a3a3a">300</text>
<line x1="505.1" y1="963.3" x2="505.1" y2="959.3" stroke="#555555" stroke-width="1"/>
<line x1="505.1" y1="849.9" x2="505.1" y2="853.9" stroke="#555555" stroke-width="1"/>
<text x="505.1" y="978.5" font-size="11.5" text-anchor="middle" fill="#3a3a3a">350</text>
<line x1="568" y1="963.3" x2="568" y2="959.3" stroke="#555555" stroke-width="1"/>
<line x1="568" y1="849.9" x2="568" y2="853.9" stroke="#555555" stroke-width="1"/>
<text x="568" y="978.5" font-size="11.5" text-anchor="middle" fill="#3a3a3a">400</text>
<line x1="64.4" y1="862.3" x2="68.4" y2="862.3" stroke="#555555" stroke-width="1"/>
<line x1="590.7" y1="862.3" x2="586.7" y2="862.3" stroke="#555555" stroke-width="1"/>
<text x="59.4" y="866.1" font-size="11.5" text-anchor="end" fill="#3a3a3a">0.08</text>
<line x1="64.4" y1="879.7" x2="68.4" y2="879.7" stroke="#555555" stroke-width="1"/>
<line x1="590.7" y1="879.7" x2="586.7" y2="879.7" stroke="#555555" stroke-width="1"/>
<text x="59.4" y="883.5" font-size="11.5" text-anchor="end" fill="#3a3a3a">0.06</text>
<line x1="64.4" y1="897.2" x2="68.4" y2="897.2" stroke="#555555" stroke-width="1"/>
<line x1="590.7" y1="897.2" x2="586.7" y2="897.2" stroke="#555555" stroke-width="1"/>
<text x="59.4" y="901" font-size="11.5" text-anchor="end" fill="#3a3a3a">0.04</text>
<line x1="64.4" y1="914.6" x2="68.4" y2="914.6" stroke="#555555" stroke-width="1"/>
<line x1="590.7" y1="914.6" x2="586.7" y2="914.6" stroke="#555555" stroke-width="1"/>
<text x="59.4" y="918.4" font-size="11.5" text-anchor="end" fill="#3a3a3a">0.02</text>
<line x1="64.4" y1="932.1" x2="68.4" y2="932.1" stroke="#555555" stroke-width="1"/>
<line x1="590.7" y1="932.1" x2="586.7" y2="932.1" stroke="#555555" stroke-width="1"/>
<text x="59.4" y="935.9" font-size="11.5" text-anchor="end" fill="#3a3a3a">0</text>
<line x1="64.4" y1="949.5" x2="68.4" y2="949.5" stroke="#555555" stroke-width="1"/>
<line x1="590.7" y1="949.5" x2="586.7" y2="949.5" stroke="#555555" stroke-width="1"/>
<text x="59.4" y="953.3" font-size="11.5" text-anchor="end" fill="#3a3a3a">-0.02</text>
<text x="327.6" y="993.2" font-size="12.4" text-anchor="middle" fill="#3a3a3a">time (s)</text>
<text x="26" y="906.6" font-size="12.4" text-anchor="middle" fill="#3a3a3a" transform="rotate(-90 26 906.6)">AEN (<tspan font-size="9.5" dy="-5">o</tspan><tspan dy="5">)</tspan></text>
<clipPath id="c15"><rect x="64.4" y="1001.7" width="526.3" height="116.1"/></clipPath>
<rect x="64.4" y="1001.7" width="526.3" height="116.1" fill="#fff" stroke="none" stroke-width="1"/>
<line x1="127.4" y1="1001.7" x2="127.4" y2="1117.8" stroke="#e7e7e7" stroke-width="1"/>
<line x1="190.3" y1="1001.7" x2="190.3" y2="1117.8" stroke="#e7e7e7" stroke-width="1"/>
<line x1="253.3" y1="1001.7" x2="253.3" y2="1117.8" stroke="#e7e7e7" stroke-width="1"/>
<line x1="316.2" y1="1001.7" x2="316.2" y2="1117.8" stroke="#e7e7e7" stroke-width="1"/>
<line x1="379.2" y1="1001.7" x2="379.2" y2="1117.8" stroke="#e7e7e7" stroke-width="1"/>
<line x1="442.1" y1="1001.7" x2="442.1" y2="1117.8" stroke="#e7e7e7" stroke-width="1"/>
<line x1="505.1" y1="1001.7" x2="505.1" y2="1117.8" stroke="#e7e7e7" stroke-width="1"/>
<line x1="568" y1="1001.7" x2="568" y2="1117.8" stroke="#e7e7e7" stroke-width="1"/>
<line x1="64.4" y1="1016.9" x2="590.7" y2="1016.9" stroke="#e7e7e7" stroke-width="1"/>
<line x1="64.4" y1="1059.7" x2="590.7" y2="1059.7" stroke="#e7e7e7" stroke-width="1"/>
<line x1="64.4" y1="1102.6" x2="590.7" y2="1102.6" stroke="#e7e7e7" stroke-width="1"/>
<polyline points="64.4,1102.6 89.6,1096.6 127.4,1082 165.1,1073.1 190.3,1068.6 207.9,1066.8 228.1,1067.5 265.9,1068.2 288.5,1068.6 316.2,1062.4 379.2,1048.6 442.1,1034 505.1,1019.4 568,1006.2 590.7,1001.7" fill="none" stroke="#278c27" stroke-width="2.5" stroke-linecap="butt" stroke-linejoin="round" clip-path="url(#c15)"/>
<polyline points="64.4,1102.7 66.4,1102.8 68.3,1102.4 70.3,1102.6 72.2,1102.2 74.2,1102.1 76.2,1102.3 78.1,1101.9 80.1,1102 82,1101.7 84,1101.8 85.9,1101.7 87.9,1101.4 89.9,1100.8 91.8,1100.9 93.8,1100.9 95.7,1100.5 97.7,1099.9 99.7,1099.8 102.2,1096.5 104.7,1092.7 106.6,1092.2 108.5,1090.8 110.4,1090 112.2,1089.2 114.8,1088.8 117.3,1088.2 119.2,1088 121.1,1088.6 122.9,1088.7 124.8,1088.8 127.4,1087.2 129.5,1086.8 131.6,1086.8 133.7,1086.7 135.7,1086.1 137.8,1085.1 139.9,1084.4 141.8,1084.3 143.7,1083.9 145.8,1084.8 147.9,1085.8 150,1086.4 152.5,1087.4 155.1,1089 156.9,1087.4 158.8,1086 160.9,1085.1 163,1084.4 165.1,1084.2 167.2,1084.2 169.3,1085.1 171.4,1085.6 173.5,1085.9 175.6,1086.8 177.7,1087.3 179.8,1087.3 181.9,1086.6 184,1085.9 185.9,1087 187.8,1087.9 190.3,1093.1 192.2,1095 194.1,1097 196.2,1097.2 198.3,1097.5 200.4,1097.4 202.9,1092.6 204.8,1091.8 206.7,1090.7 208.6,1092.9 210.5,1094.3 213,1095.3 215.5,1096.1 217.6,1096.2 219.7,1096.8 221.8,1097.2 224.3,1093 226.2,1093.5 228.1,1093.4 230.2,1094.7 232.3,1096 234.4,1097.3 236.5,1097.2 238.6,1097.8 240.7,1098.2 242.8,1098.3 244.9,1098 247,1098.6 249.1,1098.7 251.2,1098.7 253.3,1098.5 255.4,1098.6 257.5,1098.8 259.6,1099.4 261.7,1099.8 263.8,1100.2 265.9,1100.1 268,1100.1 270.1,1100.9 272.2,1101.5 274.2,1101.9 276.3,1102.3 278.4,1102.5 280.5,1102.5 282.5,1102.9 284.5,1103.4 286.5,1103.5 288.5,1103.6 290.7,1103.8 292.9,1103.8 295.1,1104.1 297.3,1104.6 299.4,1104.7 301.5,1104.8 303.6,1105.4 305.7,1105.1 307.8,1105 309.9,1105 311.9,1104.9 313.8,1105.1 315.7,1105.3 317.7,1105.6 319.6,1105.3 321.5,1105.6 323.5,1105.8 325.4,1105.7 327.4,1105.7 329.3,1105.5 331.2,1105.6 333.2,1105.7 335.1,1105.6 337,1105.6 338.9,1105.4 340.9,1105.5 342.8,1104.9 344.7,1104.7 346.6,1105 348.5,1105.1 350.4,1105 352.3,1105 354.3,1105.1 356.2,1104.6 358.1,1104.1 360,1104.3 361.9,1104.4 363.8,1104.8 365.8,1105 367.7,1104.9 369.6,1104.9 371.5,1104.4 373.4,1104.7 375.3,1104.9 377.3,1104.3 379.2,1104.3 381.1,1104.6 383,1104.4 384.9,1104.7 386.8,1104.4 388.7,1103.9 390.6,1103.7 392.5,1103.6 394.4,1104 396.3,1104.1 398.2,1104.3 400.2,1103.9 402.1,1103.9 404,1103.6 405.9,1103.9 407.8,1104.1 409.7,1103.7 411.6,1103.3 413.5,1103.1 415.4,1103.1 417.3,1103 419.2,1103.1 421.1,1103.5 423.1,1103.5 425,1103.6 426.9,1104 428.8,1104.2 430.7,1104.1 432.6,1104 434.5,1103.6 436.4,1103.1 438.3,1103.2 440.2,1102.9 442.1,1102.6 444,1102.5 445.9,1102.9 447.8,1103.2 449.7,1103.5 451.7,1103.6 453.6,1103.7 455.5,1103.3 457.4,1102.9 459.3,1102.7 461.2,1102.9 463.1,1102.8 465,1102.6 466.9,1103.2 468.8,1103 470.7,1102.6 472.6,1102.5 474.5,1102.5 476.4,1102.7 478.3,1103.1 480.2,1102.7 482.1,1102.9 484,1102.7 485.9,1102.3 487.8,1102.6 489.7,1102.8 491.7,1102.4 493.6,1102.4 495.5,1102.8 497.4,1103.1 499.3,1103.2 501.2,1102.7 503.1,1102.4 505,1102.8 506.9,1102.5 508.8,1102.1 510.7,1102.2 512.6,1102.5 514.5,1102.5 516.4,1102.8 518.3,1103.1 520.2,1102.5 522.1,1102.4 524,1102.4 525.9,1102.1 527.8,1102.3 529.7,1102 531.7,1101.9 533.6,1102.4 535.5,1102.6 537.4,1102.7 539.3,1102.8 541.2,1102.5 543.1,1102.6 545,1102.6 546.9,1102.8 548.8,1102.2 550.7,1102.4 552.6,1102.3 554.5,1102.2 556.4,1101.9 558.3,1102.1 560.2,1101.7 562.1,1101.9 564,1102 565.9,1102 567.8,1102.5 569.7,1102.4 571.7,1102.5 573.6,1102.7 575.5,1102.2 577.4,1102.4 579.3,1102.3 581.2,1101.9 583.1,1101.9 585,1102.1 586.9,1102 588.8,1101.9 590.7,1101.7" fill="none" stroke="#000000" stroke-width="2.3" stroke-linecap="butt" stroke-linejoin="round" clip-path="url(#c15)"/>
<polyline points="64.4,1102.6 99.7,1102.2 108.5,1098.8 127.4,1098.8 139.9,1100 165.1,1100 177.7,1098.1 190.3,1100 202.9,1101.1 215.5,1100 224.3,1101.7 228.1,1098.8 240.7,1100 265.9,1101.1 288.5,1102.6 303.6,1103.3 335.1,1104 354,1104.3 391.8,1103.3 416.9,1102.6 590.7,1102.6" fill="none" stroke="#ffff00" stroke-width="2.3" stroke-linecap="butt" stroke-linejoin="round" clip-path="url(#c15)"/>
<polyline points="64.4,1102.6 114.8,1102.2 139.9,1103 165.1,1103.9 209.2,1104.3 240.7,1105.2 265.9,1107.3 288.5,1109.5 335.1,1110.7 379.2,1108.8 442.1,1106.6 505.1,1104.9 590.7,1103.2" fill="none" stroke="#ff0000" stroke-width="2.3" stroke-linecap="butt" stroke-linejoin="round" clip-path="url(#c15)"/>
<polyline points="64.4,1102.6 114.8,1102.2 139.9,1103.3 165.1,1104.3 209.2,1104.8 224.3,1104.3 240.7,1105.5 265.9,1107.7 288.5,1110 335.1,1111.1 379.2,1109 442.1,1106.9 505.1,1105.2 590.7,1103.4" fill="none" stroke="#0000ff" stroke-width="2.3" stroke-linecap="butt" stroke-linejoin="round" clip-path="url(#c15)"/>
<polyline points="64.4,1102.6 139.9,1102.2 190.3,1102.6 215.5,1103.3 216.8,1105.5 253.3,1111.1 288.5,1112.9 292.3,1113.3 335.1,1113.3 379.2,1111.6 442.1,1109 505.1,1106.5 590.7,1104" fill="none" stroke="#00ffff" stroke-width="2.3" stroke-linecap="butt" stroke-linejoin="round" clip-path="url(#c15)"/>
<polyline points="64.4,1102.6 114.8,1102.6 139.9,1104.3 165.1,1106.6 177.7,1107.7 228.1,1107.7 253.3,1108.9 288.5,1109.3 292.3,1112 335.1,1111.5 379.2,1109.5 442.1,1106.9 505.1,1105.2 568,1103 590.7,1102.3" fill="none" stroke="#ff00ff" stroke-width="2.3" stroke-linecap="butt" stroke-linejoin="round" clip-path="url(#c15)"/>
<polyline points="64.4,1102.6 99.7,1102.2 114.8,1099.8 139.9,1097.4 165.1,1092.9 184,1089.6 202.9,1088.6 215.5,1089.1 228.1,1090.3 240.7,1092.9 259.6,1097.4 278.4,1101.9 288.5,1105.3 292.3,1108.6 316.2,1109.7 335.1,1110.4 379.2,1108.8 442.1,1106.2 505.1,1104.1 568,1101.9 590.7,1101.2" fill="none" stroke="#ff0000" stroke-width="2.3" stroke-linecap="butt" stroke-linejoin="round" stroke-dasharray="2.2 2.6" clip-path="url(#c15)"/>
<polyline points="64.4,1102.6 99.7,1102.2 114.8,1100 139.9,1097.7 165.1,1093.2 184,1089.9 202.9,1088.9 215.5,1089.4 228.1,1090.6 240.7,1093.2 259.6,1097.7 278.4,1102.2 288.5,1105.5 292.3,1108.9 316.2,1110 335.1,1110.7 379.2,1109 442.1,1106.5 505.1,1104.3 568,1102.2 590.7,1101.5" fill="none" stroke="#00ff00" stroke-width="2.3" stroke-linecap="butt" stroke-linejoin="round" stroke-dasharray="2.2 2.6" clip-path="url(#c15)"/>
<polyline points="64.4,1102.6 99.7,1102.2 114.8,1100.3 139.9,1098 165.1,1093.4 184,1090.2 202.9,1089.1 215.5,1089.6 228.1,1090.8 240.7,1093.4 259.6,1098 278.4,1102.4 288.5,1105.8 292.3,1109.1 316.2,1110.2 335.1,1110.9 379.2,1109.3 442.1,1106.7 505.1,1104.6 568,1102.4 590.7,1101.7" fill="none" stroke="#0000ff" stroke-width="2.3" stroke-linecap="butt" stroke-linejoin="round" stroke-dasharray="2.2 2.6" clip-path="url(#c15)"/>
<polyline points="64.4,1102.6 99.7,1102.2 114.8,1100 139.9,1097.7 165.1,1093.2 184,1089.9 202.9,1087.8 215.5,1088.4 228.1,1089.6 240.7,1092.1 259.6,1096.7 278.4,1101.1 288.5,1104.5 292.3,1107.8 316.2,1108.9 335.1,1109.6 379.2,1108 442.1,1105.4 505.1,1103.3 568,1101.1 590.7,1100.5" fill="none" stroke="#00ffff" stroke-width="2.3" stroke-linecap="butt" stroke-linejoin="round" stroke-dasharray="2.2 2.6" clip-path="url(#c15)"/>
<polyline points="64.4,1102.6 99.7,1102.2 114.8,1100 139.9,1097.4 165.1,1092.7 184,1089.3 202.9,1088.3 215.5,1088.9 228.1,1089.9 240.7,1092.3 259.6,1096.6 278.4,1101.7 288.5,1105.2 292.3,1116.7 335.1,1117.3 379.2,1114.6 442.1,1111.2 505.1,1108.2 568,1105.6 590.7,1104.7" fill="none" stroke="#ff00ff" stroke-width="2.3" stroke-linecap="butt" stroke-linejoin="round" stroke-dasharray="2.2 2.6" clip-path="url(#c15)"/>
<rect x="64.4" y="1001.7" width="526.3" height="116.1" fill="none" stroke="#555555" stroke-width="1"/>
<line x1="64.4" y1="1117.8" x2="64.4" y2="1113.8" stroke="#555555" stroke-width="1"/>
<line x1="64.4" y1="1001.7" x2="64.4" y2="1005.7" stroke="#555555" stroke-width="1"/>
<text x="64.4" y="1133" font-size="11.5" text-anchor="middle" fill="#3a3a3a">0</text>
<line x1="127.4" y1="1117.8" x2="127.4" y2="1113.8" stroke="#555555" stroke-width="1"/>
<line x1="127.4" y1="1001.7" x2="127.4" y2="1005.7" stroke="#555555" stroke-width="1"/>
<text x="127.4" y="1133" font-size="11.5" text-anchor="middle" fill="#3a3a3a">50</text>
<line x1="190.3" y1="1117.8" x2="190.3" y2="1113.8" stroke="#555555" stroke-width="1"/>
<line x1="190.3" y1="1001.7" x2="190.3" y2="1005.7" stroke="#555555" stroke-width="1"/>
<text x="190.3" y="1133" font-size="11.5" text-anchor="middle" fill="#3a3a3a">100</text>
<line x1="253.3" y1="1117.8" x2="253.3" y2="1113.8" stroke="#555555" stroke-width="1"/>
<line x1="253.3" y1="1001.7" x2="253.3" y2="1005.7" stroke="#555555" stroke-width="1"/>
<text x="253.3" y="1133" font-size="11.5" text-anchor="middle" fill="#3a3a3a">150</text>
<line x1="316.2" y1="1117.8" x2="316.2" y2="1113.8" stroke="#555555" stroke-width="1"/>
<line x1="316.2" y1="1001.7" x2="316.2" y2="1005.7" stroke="#555555" stroke-width="1"/>
<text x="316.2" y="1133" font-size="11.5" text-anchor="middle" fill="#3a3a3a">200</text>
<line x1="379.2" y1="1117.8" x2="379.2" y2="1113.8" stroke="#555555" stroke-width="1"/>
<line x1="379.2" y1="1001.7" x2="379.2" y2="1005.7" stroke="#555555" stroke-width="1"/>
<text x="379.2" y="1133" font-size="11.5" text-anchor="middle" fill="#3a3a3a">250</text>
<line x1="442.1" y1="1117.8" x2="442.1" y2="1113.8" stroke="#555555" stroke-width="1"/>
<line x1="442.1" y1="1001.7" x2="442.1" y2="1005.7" stroke="#555555" stroke-width="1"/>
<text x="442.1" y="1133" font-size="11.5" text-anchor="middle" fill="#3a3a3a">300</text>
<line x1="505.1" y1="1117.8" x2="505.1" y2="1113.8" stroke="#555555" stroke-width="1"/>
<line x1="505.1" y1="1001.7" x2="505.1" y2="1005.7" stroke="#555555" stroke-width="1"/>
<text x="505.1" y="1133" font-size="11.5" text-anchor="middle" fill="#3a3a3a">350</text>
<line x1="568" y1="1117.8" x2="568" y2="1113.8" stroke="#555555" stroke-width="1"/>
<line x1="568" y1="1001.7" x2="568" y2="1005.7" stroke="#555555" stroke-width="1"/>
<text x="568" y="1133" font-size="11.5" text-anchor="middle" fill="#3a3a3a">400</text>
<line x1="64.4" y1="1016.9" x2="68.4" y2="1016.9" stroke="#555555" stroke-width="1"/>
<line x1="590.7" y1="1016.9" x2="586.7" y2="1016.9" stroke="#555555" stroke-width="1"/>
<text x="59.4" y="1020.7" font-size="11.5" text-anchor="end" fill="#3a3a3a">0.1</text>
<line x1="64.4" y1="1059.7" x2="68.4" y2="1059.7" stroke="#555555" stroke-width="1"/>
<line x1="590.7" y1="1059.7" x2="586.7" y2="1059.7" stroke="#555555" stroke-width="1"/>
<text x="59.4" y="1063.5" font-size="11.5" text-anchor="end" fill="#3a3a3a">0.05</text>
<line x1="64.4" y1="1102.6" x2="68.4" y2="1102.6" stroke="#555555" stroke-width="1"/>
<line x1="590.7" y1="1102.6" x2="586.7" y2="1102.6" stroke="#555555" stroke-width="1"/>
<text x="59.4" y="1106.4" font-size="11.5" text-anchor="end" fill="#3a3a3a">0</text>
<text x="327.6" y="1147.7" font-size="12.4" text-anchor="middle" fill="#3a3a3a">time (s)</text>
<text x="26" y="1059.8" font-size="12.4" text-anchor="middle" fill="#3a3a3a" transform="rotate(-90 26 1059.8)">AEU (<tspan font-size="9.5" dy="-5">o</tspan><tspan dy="5">)</tspan></text>
<rect x="439.4" y="700.9" width="107.6" height="51.8" fill="#fff" stroke="none" stroke-width="1"/>
<line x1="493.2" y1="700.9" x2="493.2" y2="752.7" stroke="#e7e7e7" stroke-width="1"/>
<line x1="439.4" y1="704.7" x2="547" y2="704.7" stroke="#e7e7e7" stroke-width="1"/>
<line x1="439.4" y1="727.9" x2="547" y2="727.9" stroke="#e7e7e7" stroke-width="1"/>
<line x1="439.4" y1="751.1" x2="547" y2="751.1" stroke="#e7e7e7" stroke-width="1"/>
<line x1="439.4" y1="708" x2="547" y2="708" stroke="#00ffff" stroke-width="1.9"/>
<line x1="439.4" y1="705.6" x2="547" y2="705.6" stroke="#ff00ff" stroke-width="1.9"/>
<line x1="439.4" y1="703.8" x2="547" y2="703.8" stroke="#0000ff" stroke-width="1.9"/>
<line x1="439.4" y1="702" x2="547" y2="702" stroke="#ffff00" stroke-width="1.9"/>
<line x1="440.4" y1="738.3" x2="547" y2="738.3" stroke="#ff0000" stroke-width="2.2" stroke-dasharray="1.8 2.9"/>
<line x1="440.4" y1="741.4" x2="547" y2="741.4" stroke="#00ff00" stroke-width="2.2" stroke-dasharray="1.8 2.9"/>
<line x1="440.4" y1="744.8" x2="547" y2="744.8" stroke="#0000ff" stroke-width="2.2" stroke-dasharray="1.8 2.9"/>
<line x1="440.4" y1="751.4" x2="547" y2="751.4" stroke="#00ffff" stroke-width="2.2" stroke-dasharray="1.8 2.9"/>
<rect x="439.4" y="700.9" width="107.6" height="51.8" fill="none" stroke="#555555" stroke-width="1"/>
<line x1="439.4" y1="704.7" x2="442.4" y2="704.7" stroke="#555555" stroke-width="1"/>
<line x1="547" y1="704.7" x2="544" y2="704.7" stroke="#555555" stroke-width="1"/>
<text x="435.9" y="708.4" font-size="11" text-anchor="end" fill="#3a3a3a">0</text>
<line x1="439.4" y1="727.9" x2="442.4" y2="727.9" stroke="#555555" stroke-width="1"/>
<line x1="547" y1="727.9" x2="544" y2="727.9" stroke="#555555" stroke-width="1"/>
<text x="435.9" y="731.6" font-size="11" text-anchor="end" fill="#3a3a3a">-5</text>
<line x1="439.4" y1="751.1" x2="442.4" y2="751.1" stroke="#555555" stroke-width="1"/>
<line x1="547" y1="751.1" x2="544" y2="751.1" stroke="#555555" stroke-width="1"/>
<text x="435.9" y="754.8" font-size="11" text-anchor="end" fill="#3a3a3a">-10</text>
<text x="440.5" y="767.5" font-size="11" text-anchor="middle" fill="#3a3a3a">416</text>
<text x="493.5" y="767.5" font-size="11" text-anchor="middle" fill="#3a3a3a">417</text>
<text x="546.5" y="767.5" font-size="11" text-anchor="middle" fill="#3a3a3a">418</text>
<text x="440.5" y="698.8" font-size="11" fill="#3a3a3a">×10<tspan font-size="8" dy="-4.5">-5</tspan></text>
<rect x="442.8" y="864.6" width="104.5" height="53.6" fill="#fff" stroke="none" stroke-width="1"/>
<line x1="469" y1="864.6" x2="469" y2="918.2" stroke="#e7e7e7" stroke-width="1"/>
<line x1="495" y1="864.6" x2="495" y2="918.2" stroke="#e7e7e7" stroke-width="1"/>
<line x1="521" y1="864.6" x2="521" y2="918.2" stroke="#e7e7e7" stroke-width="1"/>
<line x1="442.8" y1="868.4" x2="547.3" y2="868.4" stroke="#e7e7e7" stroke-width="1"/>
<line x1="442.8" y1="890.8" x2="547.3" y2="890.8" stroke="#e7e7e7" stroke-width="1"/>
<line x1="442.8" y1="911.5" x2="547.3" y2="911.5" stroke="#e7e7e7" stroke-width="1"/>
<line x1="442.8" y1="870.8" x2="547.3" y2="870.8" stroke="#ffff00" stroke-width="1.9"/>
<line x1="442.8" y1="867.6" x2="547.3" y2="867.6" stroke="#ff00ff" stroke-width="1.9"/>
<line x1="442.8" y1="865.8" x2="547.3" y2="865.8" stroke="#0000ff" stroke-width="1.9"/>
<line x1="443.8" y1="910.2" x2="547.3" y2="910.2" stroke="#ff0000" stroke-width="2.2" stroke-dasharray="1.8 2.9"/>
<line x1="443.8" y1="912" x2="547.3" y2="912" stroke="#00ff00" stroke-width="2.2" stroke-dasharray="1.8 2.9"/>
<line x1="443.8" y1="913.9" x2="547.3" y2="913.9" stroke="#0000ff" stroke-width="2.2" stroke-dasharray="1.8 2.9"/>
<line x1="443.8" y1="917.3" x2="547.3" y2="917.3" stroke="#00ffff" stroke-width="2.2" stroke-dasharray="1.8 2.9"/>
<rect x="442.8" y="864.6" width="104.5" height="53.6" fill="none" stroke="#555555" stroke-width="1"/>
<line x1="442.8" y1="868.4" x2="445.8" y2="868.4" stroke="#555555" stroke-width="1"/>
<line x1="547.3" y1="868.4" x2="544.3" y2="868.4" stroke="#555555" stroke-width="1"/>
<text x="439.3" y="872.1" font-size="11" text-anchor="end" fill="#3a3a3a">0</text>
<line x1="442.8" y1="890.8" x2="445.8" y2="890.8" stroke="#555555" stroke-width="1"/>
<line x1="547.3" y1="890.8" x2="544.3" y2="890.8" stroke="#555555" stroke-width="1"/>
<text x="439.3" y="894.5" font-size="11" text-anchor="end" fill="#3a3a3a">-5</text>
<line x1="442.8" y1="911.5" x2="445.8" y2="911.5" stroke="#555555" stroke-width="1"/>
<line x1="547.3" y1="911.5" x2="544.3" y2="911.5" stroke="#555555" stroke-width="1"/>
<text x="439.3" y="915.2" font-size="11" text-anchor="end" fill="#3a3a3a">-10</text>
<text x="444" y="933.5" font-size="11" text-anchor="middle" fill="#3a3a3a">416</text>
<text x="470" y="933.5" font-size="11" text-anchor="middle" fill="#3a3a3a">416.5</text>
<text x="496" y="933.5" font-size="11" text-anchor="middle" fill="#3a3a3a">417</text>
<text x="522" y="933.5" font-size="11" text-anchor="middle" fill="#3a3a3a">417.5</text>
<text x="444" y="862" font-size="11" fill="#3a3a3a">×10<tspan font-size="8" dy="-4.5">-3</tspan></text>
<rect x="443.5" y="1033.4" width="103.6" height="51.4" fill="#fff" stroke="none" stroke-width="1"/>
<line x1="495.3" y1="1033.4" x2="495.3" y2="1084.8" stroke="#e7e7e7" stroke-width="1"/>
<line x1="443.5" y1="1044.1" x2="547.1" y2="1044.1" stroke="#e7e7e7" stroke-width="1"/>
<line x1="443.5" y1="1061.3" x2="547.1" y2="1061.3" stroke="#e7e7e7" stroke-width="1"/>
<line x1="443.5" y1="1079.8" x2="547.1" y2="1079.8" stroke="#e7e7e7" stroke-width="1"/>
<line x1="444.5" y1="1035.2" x2="547.1" y2="1035.2" stroke="#00ffff" stroke-width="2.2" stroke-dasharray="1.8 2.9"/>
<line x1="444.5" y1="1047.7" x2="547.1" y2="1047.7" stroke="#ff0000" stroke-width="2.2" stroke-dasharray="1.8 2.9"/>
<line x1="444.5" y1="1049.3" x2="547.1" y2="1049.3" stroke="#00ff00" stroke-width="2.2" stroke-dasharray="1.8 2.9"/>
<line x1="444.5" y1="1051.3" x2="547.1" y2="1051.3" stroke="#0000ff" stroke-width="2.2" stroke-dasharray="1.8 2.9"/>
<line x1="443.5" y1="1054.2" x2="547.1" y2="1054.2" stroke="#000000" stroke-width="1.9"/>
<line x1="443.5" y1="1058.2" x2="547.1" y2="1058.2" stroke="#ff00ff" stroke-width="1.9"/>
<line x1="443.5" y1="1065.6" x2="547.1" y2="1065.6" stroke="#ffff00" stroke-width="1.9"/>
<line x1="443.5" y1="1066.9" x2="547.1" y2="1066.9" stroke="#ff0000" stroke-width="1.9"/>
<line x1="443.5" y1="1068.7" x2="547.1" y2="1068.7" stroke="#0000ff" stroke-width="1.9"/>
<line x1="443.5" y1="1074.7" x2="547.1" y2="1074.7" stroke="#00ffff" stroke-width="1.9"/>
<line x1="444.5" y1="1083.2" x2="547.1" y2="1083.2" stroke="#ff00ff" stroke-width="2.2" stroke-dasharray="1.8 2.9"/>
<rect x="443.5" y="1033.4" width="103.6" height="51.4" fill="none" stroke="#555555" stroke-width="1"/>
<line x1="443.5" y1="1044.1" x2="446.5" y2="1044.1" stroke="#555555" stroke-width="1"/>
<line x1="547.1" y1="1044.1" x2="544.1" y2="1044.1" stroke="#555555" stroke-width="1"/>
<text x="440" y="1047.8" font-size="11" text-anchor="end" fill="#3a3a3a">2</text>
<line x1="443.5" y1="1061.3" x2="446.5" y2="1061.3" stroke="#555555" stroke-width="1"/>
<line x1="547.1" y1="1061.3" x2="544.1" y2="1061.3" stroke="#555555" stroke-width="1"/>
<text x="440" y="1065" font-size="11" text-anchor="end" fill="#3a3a3a">0</text>
<line x1="443.5" y1="1079.8" x2="446.5" y2="1079.8" stroke="#555555" stroke-width="1"/>
<line x1="547.1" y1="1079.8" x2="544.1" y2="1079.8" stroke="#555555" stroke-width="1"/>
<text x="440" y="1083.5" font-size="11" text-anchor="end" fill="#3a3a3a">-2</text>
<text x="445" y="1099.8" font-size="11" text-anchor="middle" fill="#3a3a3a">416</text>
<text x="496" y="1099.8" font-size="11" text-anchor="middle" fill="#3a3a3a">417</text>
<text x="546.6" y="1099.8" font-size="11" text-anchor="middle" fill="#3a3a3a">418</text>
<text x="444" y="1031" font-size="11" fill="#3a3a3a">×10<tspan font-size="8" dy="-4.5">-3</tspan></text>
<rect x="566.2" y="762" width="28" height="27.5" fill="none" stroke="#3d9fee" stroke-width="1.4"/>
<rect x="562.2" y="926" width="32" height="23.9" fill="none" stroke="#3d9fee" stroke-width="1.4"/>
<rect x="562.7" y="1095" width="31.5" height="17.2" fill="none" stroke="#3d9fee" stroke-width="1.4"/>
<rect x="702.4" y="617.2" width="526.3" height="76.9" fill="#fff" stroke="#555555" stroke-width="1"/>
<line x1="712.4" y1="625.4" x2="734.1" y2="625.4" stroke="#9370db" stroke-width="2.3"/>
<text x="736.7" y="629.8" font-size="12.65" text-anchor="start" fill="#222">Carrier flight path</text>
<line x1="712.4" y1="640.6" x2="734.1" y2="640.6" stroke="#278c27" stroke-width="2.3"/>
<text x="736.7" y="645" font-size="12.65" text-anchor="start" fill="#222">INS</text>
<line x1="712.4" y1="655.8" x2="734.1" y2="655.8" stroke="#000000" stroke-width="2.3"/>
<text x="736.7" y="660.2" font-size="12.65" text-anchor="start" fill="#222">Standard INS+LEO2</text>
<line x1="712.4" y1="671" x2="734.1" y2="671" stroke="#ffff00" stroke-width="2.3"/>
<text x="736.7" y="675.4" font-size="12.65" text-anchor="start" fill="#222">Standard INS+LEO2+Altimeter</text>
<line x1="712.4" y1="686.3" x2="734.1" y2="686.3" stroke="#ff0000" stroke-width="2.3"/>
<text x="736.7" y="690.7" font-size="12.65" text-anchor="start" fill="#222">Unbiased altimeter+5 s switching</text>
<line x1="915.8" y1="625.4" x2="936.6" y2="625.4" stroke="#00ff00" stroke-width="2.3"/>
<text x="939.7" y="629.8" font-size="12.65" text-anchor="start" fill="#222">Unbiased altimeter+10 s switching</text>
<line x1="915.8" y1="640.6" x2="936.6" y2="640.6" stroke="#0000ff" stroke-width="2.3"/>
<text x="939.7" y="645" font-size="12.65" text-anchor="start" fill="#222">Unbiased altimeter+30 s switching</text>
<line x1="915.8" y1="655.8" x2="936.6" y2="655.8" stroke="#00ffff" stroke-width="2.3"/>
<text x="939.7" y="660.2" font-size="12.65" text-anchor="start" fill="#222">Unbiased altimeter+60 s switching</text>
<line x1="915.8" y1="671" x2="936.6" y2="671" stroke="#ff00ff" stroke-width="2.3"/>
<text x="939.7" y="675.4" font-size="12.65" text-anchor="start" fill="#222">Unbiased altimeter+90 s switching</text>
<line x1="915.8" y1="686.3" x2="936.6" y2="686.3" stroke="#ff0000" stroke-width="2.4" stroke-dasharray="2.2 2.8"/>
<text x="939.7" y="690.7" font-size="12.65" text-anchor="start" fill="#222">5 s switching</text>
<line x1="1121.8" y1="625.4" x2="1142.6" y2="625.4" stroke="#00ff00" stroke-width="2.4" stroke-dasharray="2.2 2.8"/>
<text x="1147.8" y="629.8" font-size="12.65" text-anchor="start" fill="#222">10 s switching</text>
<line x1="1121.8" y1="640.6" x2="1142.6" y2="640.6" stroke="#0000ff" stroke-width="2.4" stroke-dasharray="2.2 2.8"/>
<text x="1147.8" y="645" font-size="12.65" text-anchor="start" fill="#222">30 s switching</text>
<line x1="1121.8" y1="655.8" x2="1142.6" y2="655.8" stroke="#00ffff" stroke-width="2.4" stroke-dasharray="2.2 2.8"/>
<text x="1147.8" y="660.2" font-size="12.65" text-anchor="start" fill="#222">60 s switching</text>
<line x1="1121.8" y1="671" x2="1142.6" y2="671" stroke="#ff00ff" stroke-width="2.4" stroke-dasharray="2.2 2.8"/>
<text x="1147.8" y="675.4" font-size="12.65" text-anchor="start" fill="#222">90 s switching</text>
<line x1="739" y1="1009.5" x2="739" y2="772.9" stroke="#e4e4e4" stroke-width="1"/>
<line x1="739" y1="1009.5" x2="968.5" y2="1117.8" stroke="#e4e4e4" stroke-width="1"/>
<line x1="776.4" y1="999.2" x2="776.4" y2="762.6" stroke="#e4e4e4" stroke-width="1"/>
<line x1="776.4" y1="999.2" x2="1005.9" y2="1107.5" stroke="#e4e4e4" stroke-width="1"/>
<line x1="813.7" y1="988.9" x2="813.7" y2="752.3" stroke="#e4e4e4" stroke-width="1"/>
<line x1="813.7" y1="988.9" x2="1043.2" y2="1097.2" stroke="#e4e4e4" stroke-width="1"/>
<line x1="851" y1="978.6" x2="851" y2="742" stroke="#e4e4e4" stroke-width="1"/>
<line x1="851" y1="978.6" x2="1080.5" y2="1087" stroke="#e4e4e4" stroke-width="1"/>
<line x1="888.3" y1="968.4" x2="888.3" y2="731.8" stroke="#e4e4e4" stroke-width="1"/>
<line x1="888.3" y1="968.4" x2="1117.8" y2="1076.7" stroke="#e4e4e4" stroke-width="1"/>
<line x1="925.7" y1="958.1" x2="925.7" y2="721.5" stroke="#e4e4e4" stroke-width="1"/>
<line x1="925.7" y1="958.1" x2="1155.2" y2="1066.4" stroke="#e4e4e4" stroke-width="1"/>
<line x1="963" y1="947.8" x2="963" y2="711.2" stroke="#e4e4e4" stroke-width="1"/>
<line x1="963" y1="947.8" x2="1192.5" y2="1056.1" stroke="#e4e4e4" stroke-width="1"/>
<line x1="1019.4" y1="946.5" x2="1019.4" y2="709.9" stroke="#e4e4e4" stroke-width="1"/>
<line x1="720.8" y1="1028.8" x2="1019.4" y2="946.5" stroke="#e4e4e4" stroke-width="1"/>
<line x1="1115.1" y1="991.6" x2="1115.1" y2="755" stroke="#e4e4e4" stroke-width="1"/>
<line x1="816.5" y1="1074" x2="1115.1" y2="991.6" stroke="#e4e4e4" stroke-width="1"/>
<line x1="1210.7" y1="1036.8" x2="1210.7" y2="800.2" stroke="#e4e4e4" stroke-width="1"/>
<line x1="912.1" y1="1119.1" x2="1210.7" y2="1036.8" stroke="#e4e4e4" stroke-width="1"/>
<line x1="701.7" y1="990.2" x2="1000.3" y2="907.9" stroke="#e4e4e4" stroke-width="1"/>
<line x1="1000.3" y1="907.9" x2="1229.8" y2="1016.2" stroke="#e4e4e4" stroke-width="1"/>
<line x1="701.7" y1="960.6" x2="1000.3" y2="878.4" stroke="#e4e4e4" stroke-width="1"/>
<line x1="1000.3" y1="878.4" x2="1229.8" y2="986.6" stroke="#e4e4e4" stroke-width="1"/>
<line x1="701.7" y1="931.1" x2="1000.3" y2="848.8" stroke="#e4e4e4" stroke-width="1"/>
<line x1="1000.3" y1="848.8" x2="1229.8" y2="957.1" stroke="#e4e4e4" stroke-width="1"/>
<line x1="701.7" y1="901.5" x2="1000.3" y2="819.2" stroke="#e4e4e4" stroke-width="1"/>
<line x1="1000.3" y1="819.2" x2="1229.8" y2="927.5" stroke="#e4e4e4" stroke-width="1"/>
<line x1="701.7" y1="871.9" x2="1000.3" y2="789.6" stroke="#e4e4e4" stroke-width="1"/>
<line x1="1000.3" y1="789.6" x2="1229.8" y2="897.9" stroke="#e4e4e4" stroke-width="1"/>
<line x1="701.7" y1="842.3" x2="1000.3" y2="760" stroke="#e4e4e4" stroke-width="1"/>
<line x1="1000.3" y1="760" x2="1229.8" y2="868.3" stroke="#e4e4e4" stroke-width="1"/>
<line x1="701.7" y1="812.8" x2="1000.3" y2="730.5" stroke="#e4e4e4" stroke-width="1"/>
<line x1="1000.3" y1="730.5" x2="1229.8" y2="838.8" stroke="#e4e4e4" stroke-width="1"/>
<polyline points="756.2,840.2 849.5,884 854.4,902.1 858.5,935.2 862.7,976.4 865.2,1017.7 866.8,1034.2 871.8,1040.8 881.7,1045.8" fill="none" stroke="#9370db" stroke-width="2.0" stroke-linecap="butt" stroke-linejoin="round"/>
<polyline points="756.5,840.5 849.8,884.3 854.7,902.4 858.8,935.5 863,976.7 865.5,1018 867.1,1034.5 871.8,1041 881.7,1045.8" fill="none" stroke="#000000" stroke-width="2.0" stroke-linecap="butt" stroke-linejoin="round"/>
<polyline points="757,840.7 850.3,884.5 855.2,902.6 859.3,935.7 863.5,976.9 866,1018.2 867.6,1034.7 871.8,1041 881.7,1045.8" fill="none" stroke="#ffff00" stroke-width="2.0" stroke-linecap="butt" stroke-linejoin="round"/>
<polyline points="755.9,841.2 849.2,885 854.1,903.1 858.2,936.2 862.4,977.4 864.9,1018.7 866.5,1035.2 871.8,1041.3 881.7,1045.8" fill="none" stroke="#ff0000" stroke-width="2.0" stroke-linecap="butt" stroke-linejoin="round"/>
<polyline points="755.6,841 848.9,884.8 853.8,902.9 857.9,936 862.1,977.2 864.6,1018.5 866.2,1035 871.8,1041.2 881.7,1045.8" fill="none" stroke="#00ff00" stroke-width="2.0" stroke-linecap="butt" stroke-linejoin="round"/>
<polyline points="756.7,839.9 850,883.7 854.9,901.8 859,934.9 863.2,976.1 865.7,1017.4 867.3,1033.9 871.8,1040.6 881.7,1045.8" fill="none" stroke="#0000ff" stroke-width="2.0" stroke-linecap="butt" stroke-linejoin="round"/>
<polyline points="757,839.4 850.3,883.2 855.2,901.3 859.3,934.4 863.5,975.6 866,1016.9 867.6,1033.4 871.8,1040.4 881.7,1045.8" fill="none" stroke="#00ffff" stroke-width="2.0" stroke-linecap="butt" stroke-linejoin="round"/>
<polyline points="757.2,839.7 850.5,883.5 855.4,901.6 859.5,934.7 863.7,975.9 866.2,1017.2 867.8,1033.7 871.8,1040.5 881.7,1045.8" fill="none" stroke="#ff00ff" stroke-width="2.0" stroke-linecap="butt" stroke-linejoin="round"/>
<polyline points="866.8,1034.2 871.8,1040.8 881.7,1045.8 885.1,1045.7 889.7,1047.4 895.1,1049 901,1050.1 907.4,1050.5 914.6,1050.4 922.1,1050 929.7,1049.4 937.1,1048.6 944.5,1047.5 952.4,1046.1 961.6,1044.6 972.5,1042.8 984.6,1040.8 997.2,1038.8 1009.5,1036.7 1021.5,1034.7 1033.4,1032.7 1045.3,1030.7 1057.3,1028.7 1069.6,1026.7 1082.2,1024.7 1094.3,1022.9 1105.2,1021.3 1114.5,1020 1122.6,1019 1130,1018.2 1137.1,1017.5 1144.1,1016.9 1150.8,1016.4 1157,1016.1 1162.6,1015.9 1167.4,1015.9 1171.5,1016.2 1175.2,1016.5 1178.5,1016.9 1181.3,1017.3 1183.5,1017.7 1185.6,1018.3 1188.1,1019.1 1191.4,1020.4 1195.1,1021.9 1198.5,1023.5 1200.9,1024.5" fill="none" stroke="#000000" stroke-width="2.4" stroke-linecap="butt" stroke-linejoin="round"/>
<polyline points="881.7,1046.3 885.1,1046.3 889.7,1048 895.1,1049.6 901,1050.7 907.4,1051.1 914.6,1051 922.1,1050.6 929.7,1050 937.1,1049.2 944.5,1048 952.4,1046.7 961.6,1045.2 972.5,1043.4 984.6,1041.4 997.2,1039.4 1009.5,1037.3 1021.5,1035.3 1033.4,1033.3 1045.3,1031.3 1057.3,1029.3" fill="none" stroke="#0000ff" stroke-width="1.6" stroke-linecap="butt" stroke-linejoin="round"/>
<polyline points="874,1041.5 881.7,1046.6 885.1,1046.7 889.7,1048.4 895.1,1050 901,1051.1 907.4,1051.5 914.6,1051.4 922.1,1051 929.7,1050.4 937.1,1049.6 944.5,1048.5 952.4,1047.1 961.6,1045.6 972.5,1043.8 984.6,1041.8 997.2,1039.8 1009.5,1037.7 1021.5,1035.7" fill="none" stroke="#00ffff" stroke-width="1.8" stroke-linecap="butt" stroke-linejoin="round" stroke-dasharray="2.2 2.6"/>
<polyline points="738.3,787 846.2,869.9 848.6,884 851.9,918.6 856.9,968.2 861,1014.4 863.5,1029.3 873.4,1035.9 881.7,1040.8 885.1,1043.1 889.7,1044.8 895.1,1046.4 901,1047.5 907.4,1047.9 914.6,1047.8 922.1,1047.4 929.7,1046.8 937.1,1046 944.5,1044.9 952.4,1043.5 961.6,1042 972.5,1040.2 984.6,1038.2 997.2,1036.2 1009.5,1034.1 1021.5,1032.1 1033.4,1030.1 1045.3,1028.1 1057.3,1026.1" fill="none" stroke="#278c27" stroke-width="2.3" stroke-linecap="butt" stroke-linejoin="round"/>
<polyline points="756.2,840.2 849.5,884 854.4,902.1" fill="none" stroke="#ff0000" stroke-width="2.0" stroke-linecap="butt" stroke-linejoin="round" stroke-dasharray="2.2 2.6"/>
<polyline points="756.6,839.6 849.9,883.4 854.6,902.1" fill="none" stroke="#00ff00" stroke-width="2.0" stroke-linecap="butt" stroke-linejoin="round" stroke-dasharray="2.2 2.6"/>
<polyline points="757,839 850.3,882.8 854.8,902.1" fill="none" stroke="#0000ff" stroke-width="2.0" stroke-linecap="butt" stroke-linejoin="round" stroke-dasharray="2.2 2.6"/>
<polyline points="757.6,838.2 850.9,882 855.1,902.1" fill="none" stroke="#00ffff" stroke-width="2.0" stroke-linecap="butt" stroke-linejoin="round" stroke-dasharray="2.2 2.6"/>
<polyline points="848.9,884 853.8,902.1 857.9,935.2 862.1,976.4 864.6,1017.7 866.2,1034.2" fill="none" stroke="#ffff00" stroke-width="1.6" stroke-linecap="butt" stroke-linejoin="round"/>
<polyline points="850.1,884 855,902.1 859.1,935.2 863.3,976.4 865.8,1017.7 867.4,1034.2" fill="none" stroke="#ff0000" stroke-width="1.4" stroke-linecap="butt" stroke-linejoin="round" stroke-dasharray="3 2"/>
<polyline points="760.8,832.8 853.6,880.7 856.9,902.1 861,935.2 865.2,976.4 867.6,1017.7 868.5,1030.9 874,1040.3 880,1044" fill="none" stroke="#ff00ff" stroke-width="2.0" stroke-linecap="butt" stroke-linejoin="round" stroke-dasharray="2.2 2.6"/>
<polyline points="1057.3,1028.7 1069.6,1026.7 1082.2,1024.7 1094.3,1022.9 1105.2,1021.3 1114.5,1020 1122.6,1019 1130,1018.2 1137.1,1017.5 1144.1,1016.9 1150.8,1016.4 1157,1016.1 1162.6,1015.9 1167.4,1015.9 1171.5,1016.2 1175.2,1016.5 1178.5,1016.9 1181.3,1017.3 1183.5,1017.7 1185.6,1018.3 1188.1,1019.1 1191.4,1020.4 1195.1,1021.9 1198.5,1023.5 1200.9,1024.5" fill="none" stroke="#ff00ff" stroke-width="2.0" stroke-linecap="butt" stroke-linejoin="round" stroke-dasharray="2.2 2.6"/>
<polyline points="1195.1,1021.9 1198.5,1023.5 1200.9,1024.5" fill="none" stroke="#ff00ff" stroke-width="2.2" stroke-linecap="butt" stroke-linejoin="round"/>
<line x1="701.7" y1="1019.8" x2="701.7" y2="783.2" stroke="#5e5e5e" stroke-width="0.9"/>
<line x1="701.7" y1="783.2" x2="1000.3" y2="700.9" stroke="#5e5e5e" stroke-width="0.9"/>
<line x1="1000.3" y1="700.9" x2="1229.8" y2="809.2" stroke="#5e5e5e" stroke-width="0.9"/>
<line x1="1000.3" y1="937.5" x2="1000.3" y2="700.9" stroke="#5e5e5e" stroke-width="0.9"/>
<line x1="1229.8" y1="1045.8" x2="1229.8" y2="809.2" stroke="#5e5e5e" stroke-width="0.9"/>
<line x1="701.7" y1="1019.8" x2="1000.3" y2="937.5" stroke="#5e5e5e" stroke-width="0.9"/>
<line x1="1000.3" y1="937.5" x2="1229.8" y2="1045.8" stroke="#5e5e5e" stroke-width="0.9"/>
<line x1="701.7" y1="1019.8" x2="931.2" y2="1128.1" stroke="#5e5e5e" stroke-width="0.9"/>
<line x1="931.2" y1="1128.1" x2="1229.8" y2="1045.8" stroke="#5e5e5e" stroke-width="0.9"/>
<line x1="931.2" y1="1128.1" x2="938" y2="1131.3" stroke="#555555" stroke-width="1"/>
<text x="953.2" y="1143.8" font-size="11.2" text-anchor="middle" fill="#3a3a3a">50.28</text>
<line x1="968.5" y1="1117.8" x2="975.3" y2="1121" stroke="#555555" stroke-width="1"/>
<text x="990.5" y="1133.5" font-size="11.2" text-anchor="middle" fill="#3a3a3a">50.3</text>
<line x1="1005.9" y1="1107.5" x2="1012.6" y2="1110.7" stroke="#555555" stroke-width="1"/>
<text x="1027.8" y="1123.2" font-size="11.2" text-anchor="middle" fill="#3a3a3a">50.32</text>
<line x1="1043.2" y1="1097.2" x2="1050" y2="1100.4" stroke="#555555" stroke-width="1"/>
<text x="1065.2" y="1112.9" font-size="11.2" text-anchor="middle" fill="#3a3a3a">50.34</text>
<line x1="1080.5" y1="1087" x2="1087.3" y2="1090.2" stroke="#555555" stroke-width="1"/>
<text x="1102.5" y="1102.6" font-size="11.2" text-anchor="middle" fill="#3a3a3a">50.36</text>
<line x1="1117.8" y1="1076.7" x2="1124.6" y2="1079.9" stroke="#555555" stroke-width="1"/>
<text x="1139.8" y="1092.4" font-size="11.2" text-anchor="middle" fill="#3a3a3a">50.38</text>
<line x1="1155.2" y1="1066.4" x2="1161.9" y2="1069.6" stroke="#555555" stroke-width="1"/>
<text x="1177.2" y="1082.1" font-size="11.2" text-anchor="middle" fill="#3a3a3a">50.4</text>
<line x1="1192.5" y1="1056.1" x2="1199.3" y2="1059.3" stroke="#555555" stroke-width="1"/>
<text x="1214.5" y="1071.8" font-size="11.2" text-anchor="middle" fill="#3a3a3a">50.42</text>
<line x1="720.8" y1="1028.8" x2="713.6" y2="1030.8" stroke="#555555" stroke-width="1"/>
<text x="699.8" y="1043.1" font-size="11.2" text-anchor="middle" fill="#3a3a3a">-2.5</text>
<line x1="816.5" y1="1074" x2="809.2" y2="1075.9" stroke="#555555" stroke-width="1"/>
<text x="795.5" y="1088.2" font-size="11.2" text-anchor="middle" fill="#3a3a3a">-3</text>
<line x1="912.1" y1="1119.1" x2="904.8" y2="1121.1" stroke="#555555" stroke-width="1"/>
<text x="891.1" y="1133.4" font-size="11.2" text-anchor="middle" fill="#3a3a3a">-3.5</text>
<line x1="701.7" y1="1019.8" x2="694.9" y2="1016.6" stroke="#555555" stroke-width="1"/>
<text x="691" y="1020.5" font-size="11.2" text-anchor="end" fill="#3a3a3a">0.99</text>
<line x1="701.7" y1="990.2" x2="694.9" y2="987" stroke="#555555" stroke-width="1"/>
<text x="691" y="990.9" font-size="11.2" text-anchor="end" fill="#3a3a3a">1</text>
<line x1="701.7" y1="960.6" x2="694.9" y2="957.4" stroke="#555555" stroke-width="1"/>
<text x="691" y="961.3" font-size="11.2" text-anchor="end" fill="#3a3a3a">1.01</text>
<line x1="701.7" y1="931.1" x2="694.9" y2="927.9" stroke="#555555" stroke-width="1"/>
<text x="691" y="931.8" font-size="11.2" text-anchor="end" fill="#3a3a3a">1.02</text>
<line x1="701.7" y1="901.5" x2="694.9" y2="898.3" stroke="#555555" stroke-width="1"/>
<text x="691" y="902.2" font-size="11.2" text-anchor="end" fill="#3a3a3a">1.03</text>
<line x1="701.7" y1="871.9" x2="694.9" y2="868.7" stroke="#555555" stroke-width="1"/>
<text x="691" y="872.6" font-size="11.2" text-anchor="end" fill="#3a3a3a">1.04</text>
<line x1="701.7" y1="842.3" x2="694.9" y2="839.1" stroke="#555555" stroke-width="1"/>
<text x="691" y="843" font-size="11.2" text-anchor="end" fill="#3a3a3a">1.05</text>
<line x1="701.7" y1="812.8" x2="694.9" y2="809.6" stroke="#555555" stroke-width="1"/>
<text x="691" y="813.5" font-size="11.2" text-anchor="end" fill="#3a3a3a">1.06</text>
<line x1="701.7" y1="783.2" x2="694.9" y2="780" stroke="#555555" stroke-width="1"/>
<text x="691" y="783.9" font-size="11.2" text-anchor="end" fill="#3a3a3a">1.07</text>
<text x="687" y="761.5" font-size="11" fill="#3a3a3a" text-anchor="middle">×10<tspan font-size="8" dy="-4.5">4</tspan></text>
<text x="800" y="1137.5" font-size="12.2" text-anchor="middle" fill="#3a3a3a">Longitude (<tspan font-size="9.5" dy="-5">o</tspan><tspan dy="5">)</tspan></text>
<text x="1083.5" y="1144" font-size="12.2" text-anchor="middle" fill="#3a3a3a">Latitude (<tspan font-size="9.5" dy="-5">o</tspan><tspan dy="5">)</tspan></text>
<text x="665.5" y="897.5" font-size="12.2" text-anchor="middle" fill="#3a3a3a" transform="rotate(-90 665.5 897.5)">Altitude (m)</text>
<line x1="839.2" y1="822" x2="786.9" y2="835.6" stroke="#1f9bf5" stroke-width="3.0"/>
<polygon points="780.1,837.4 786.9,831.6 788.8,839.2" fill="#1f9bf5"/>
<polygon points="901.3,943.3 901.3,799.3 1081.8,749 1220.4,814.7 1220.4,958.7 1039.9,1009" fill="#fff"/>
<line x1="933.1" y1="934.4" x2="933.1" y2="790.4" stroke="#e4e4e4" stroke-width="1"/>
<line x1="933.1" y1="934.4" x2="1071.7" y2="1000.1" stroke="#e4e4e4" stroke-width="1"/>
<line x1="978.3" y1="921.8" x2="978.3" y2="777.8" stroke="#e4e4e4" stroke-width="1"/>
<line x1="978.3" y1="921.8" x2="1116.9" y2="987.5" stroke="#e4e4e4" stroke-width="1"/>
<line x1="1023.5" y1="909.2" x2="1023.5" y2="765.2" stroke="#e4e4e4" stroke-width="1"/>
<line x1="1023.5" y1="909.2" x2="1162.1" y2="974.9" stroke="#e4e4e4" stroke-width="1"/>
<line x1="1068.7" y1="896.7" x2="1068.7" y2="752.7" stroke="#e4e4e4" stroke-width="1"/>
<line x1="1068.7" y1="896.7" x2="1207.3" y2="962.4" stroke="#e4e4e4" stroke-width="1"/>
<line x1="1088.5" y1="896.2" x2="1088.5" y2="752.2" stroke="#e4e4e4" stroke-width="1"/>
<line x1="908" y1="946.5" x2="1088.5" y2="896.2" stroke="#e4e4e4" stroke-width="1"/>
<line x1="1134.2" y1="917.8" x2="1134.2" y2="773.8" stroke="#e4e4e4" stroke-width="1"/>
<line x1="953.7" y1="968.1" x2="1134.2" y2="917.8" stroke="#e4e4e4" stroke-width="1"/>
<line x1="1179.9" y1="939.5" x2="1179.9" y2="795.5" stroke="#e4e4e4" stroke-width="1"/>
<line x1="999.4" y1="989.8" x2="1179.9" y2="939.5" stroke="#e4e4e4" stroke-width="1"/>
<line x1="901.3" y1="906.4" x2="1081.8" y2="856.1" stroke="#e4e4e4" stroke-width="1"/>
<line x1="1081.8" y1="856.1" x2="1220.4" y2="921.8" stroke="#e4e4e4" stroke-width="1"/>
<line x1="901.3" y1="870.7" x2="1081.8" y2="820.4" stroke="#e4e4e4" stroke-width="1"/>
<line x1="1081.8" y1="820.4" x2="1220.4" y2="886.1" stroke="#e4e4e4" stroke-width="1"/>
<line x1="901.3" y1="835" x2="1081.8" y2="784.7" stroke="#e4e4e4" stroke-width="1"/>
<line x1="1081.8" y1="784.7" x2="1220.4" y2="850.4" stroke="#e4e4e4" stroke-width="1"/>
<polyline points="927.5,934.4 985.7,963.3 1067.4,1001.6" fill="none" stroke="#000000" stroke-width="2.6" stroke-linecap="butt" stroke-linejoin="round"/>
<polyline points="929.7,933.7 992,963.9 1069.9,1000.7" fill="none" stroke="#ffff00" stroke-width="2.4" stroke-linecap="butt" stroke-linejoin="round"/>
<polyline points="925.3,936.3 963.7,955.1 971.5,960.1 981,963.3 985.7,968 995.1,972.7 1007.7,977.1 1013.9,980.6 1062.6,1003.2" fill="none" stroke="#ff0000" stroke-width="2.8" stroke-linecap="butt" stroke-linejoin="round"/>
<polyline points="931.6,934.1 979.4,957.6 988.8,965.5 998.2,968.6 1007.7,974 1071.1,1000" fill="none" stroke="#00ff00" stroke-width="2.2" stroke-linecap="butt" stroke-linejoin="round"/>
<polyline points="937,933.1 992,959.5 1075.2,998.5" fill="none" stroke="#0000ff" stroke-width="2.6" stroke-linecap="butt" stroke-linejoin="round"/>
<polyline points="941.1,931.9 954.3,936.3 995.1,958.2 1077.4,997.2" fill="none" stroke="#00ffff" stroke-width="2.6" stroke-linecap="butt" stroke-linejoin="round"/>
<polyline points="942.3,933.1 963.7,941.9 995.1,960.1 1035.9,978 1076.8,998.5" fill="none" stroke="#ff00ff" stroke-width="1.6" stroke-linecap="butt" stroke-linejoin="round"/>
<polyline points="932.9,923.1 1069.9,985.9" fill="none" stroke="#00ff00" stroke-width="2.2" stroke-linecap="butt" stroke-linejoin="round" stroke-dasharray="2.2 2.6"/>
<polyline points="937.9,902.6 1076.1,966.4" fill="none" stroke="#0000ff" stroke-width="2.2" stroke-linecap="butt" stroke-linejoin="round" stroke-dasharray="2.2 2.6"/>
<polyline points="941.1,894.2 1078.3,958.2" fill="none" stroke="#00ffff" stroke-width="2.2" stroke-linecap="butt" stroke-linejoin="round" stroke-dasharray="2.2 2.6"/>
<polyline points="976.9,778.5 1112.9,848.3" fill="none" stroke="#ff00ff" stroke-width="2.2" stroke-linecap="butt" stroke-linejoin="round" stroke-dasharray="2.2 2.6"/>
<line x1="901.3" y1="943.3" x2="901.3" y2="799.3" stroke="#5e5e5e" stroke-width="0.9"/>
<line x1="901.3" y1="799.3" x2="1081.8" y2="749" stroke="#5e5e5e" stroke-width="0.9"/>
<line x1="1081.8" y1="749" x2="1220.4" y2="814.7" stroke="#5e5e5e" stroke-width="0.9"/>
<line x1="1081.8" y1="893" x2="1081.8" y2="749" stroke="#5e5e5e" stroke-width="0.9"/>
<line x1="1220.4" y1="958.7" x2="1220.4" y2="814.7" stroke="#5e5e5e" stroke-width="0.9"/>
<line x1="901.3" y1="943.3" x2="1081.8" y2="893" stroke="#5e5e5e" stroke-width="0.9"/>
<line x1="1081.8" y1="893" x2="1220.4" y2="958.7" stroke="#5e5e5e" stroke-width="0.9"/>
<line x1="901.3" y1="943.3" x2="1039.9" y2="1009" stroke="#5e5e5e" stroke-width="0.9"/>
<line x1="1039.9" y1="1009" x2="1220.4" y2="958.7" stroke="#5e5e5e" stroke-width="0.9"/>
<line x1="1071.7" y1="1000.1" x2="1076.2" y2="1002.3" stroke="#555555" stroke-width="1"/>
<text x="1093.7" y="1015.8" font-size="11.2" text-anchor="middle" fill="#3a3a3a">50.301</text>
<line x1="1116.9" y1="987.5" x2="1121.4" y2="989.7" stroke="#555555" stroke-width="1"/>
<text x="1138.9" y="1003.2" font-size="11.2" text-anchor="middle" fill="#3a3a3a">50.302</text>
<line x1="1162.1" y1="974.9" x2="1166.6" y2="977.1" stroke="#555555" stroke-width="1"/>
<text x="1184.1" y="990.6" font-size="11.2" text-anchor="middle" fill="#3a3a3a">50.303</text>
<line x1="1207.3" y1="962.4" x2="1211.8" y2="964.5" stroke="#555555" stroke-width="1"/>
<text x="1229.3" y="978" font-size="11.2" text-anchor="middle" fill="#3a3a3a">50.304</text>
<line x1="908" y1="946.5" x2="903.1" y2="947.8" stroke="#555555" stroke-width="1"/>
<text x="887" y="960.7" font-size="11.2" text-anchor="middle" fill="#3a3a3a">-2.57</text>
<line x1="953.7" y1="968.1" x2="948.9" y2="969.5" stroke="#555555" stroke-width="1"/>
<text x="932.7" y="982.4" font-size="11.2" text-anchor="middle" fill="#3a3a3a">-2.58</text>
<line x1="999.4" y1="989.8" x2="994.6" y2="991.2" stroke="#555555" stroke-width="1"/>
<text x="978.4" y="1004.1" font-size="11.2" text-anchor="middle" fill="#3a3a3a">-2.59</text>
<line x1="901.3" y1="942.1" x2="896.8" y2="940" stroke="#555555" stroke-width="1"/>
<text x="892.9" y="942.8" font-size="11.2" text-anchor="end" fill="#3a3a3a">1.05</text>
<line x1="901.3" y1="906.4" x2="896.8" y2="904.3" stroke="#555555" stroke-width="1"/>
<text x="892.9" y="907.1" font-size="11.2" text-anchor="end" fill="#3a3a3a">1.0505</text>
<line x1="901.3" y1="870.7" x2="896.8" y2="868.6" stroke="#555555" stroke-width="1"/>
<text x="892.9" y="871.4" font-size="11.2" text-anchor="end" fill="#3a3a3a">1.051</text>
<line x1="901.3" y1="835" x2="896.8" y2="832.9" stroke="#555555" stroke-width="1"/>
<text x="892.9" y="835.7" font-size="11.2" text-anchor="end" fill="#3a3a3a">1.0515</text>
<line x1="901.3" y1="799.3" x2="896.8" y2="797.2" stroke="#555555" stroke-width="1"/>
<text x="892.9" y="800" font-size="11.2" text-anchor="end" fill="#3a3a3a">1.052</text>
<text x="886" y="774" font-size="11" fill="#3a3a3a" text-anchor="middle">×10<tspan font-size="8" dy="-4.5">4</tspan></text>
<rect x="60.8" y="1191.5" width="524.1" height="76.3" fill="#fff" stroke="#555555" stroke-width="1"/>
<line x1="71.7" y1="1200" x2="94.8" y2="1200" stroke="#9370db" stroke-width="2.3"/>
<text x="96.6" y="1204.4" font-size="12.4" text-anchor="start" fill="#222">Carrier flight path</text>
<line x1="71.7" y1="1214.8" x2="94.8" y2="1214.8" stroke="#278c27" stroke-width="2.3"/>
<text x="96.6" y="1219.2" font-size="12.4" text-anchor="start" fill="#222">INS</text>
<line x1="71.7" y1="1230" x2="94.8" y2="1230" stroke="#000000" stroke-width="2.3"/>
<text x="96.6" y="1234.4" font-size="12.4" text-anchor="start" fill="#222">Standard INS+LEO2</text>
<line x1="71.7" y1="1244.8" x2="94.8" y2="1244.8" stroke="#ffff00" stroke-width="2.3"/>
<text x="96.6" y="1249.2" font-size="12.4" text-anchor="start" fill="#222">Standard INS+LEO2+Altimeter</text>
<line x1="71.7" y1="1259.7" x2="94.8" y2="1259.7" stroke="#ff0000" stroke-width="2.3"/>
<text x="96.6" y="1264.1" font-size="12.4" text-anchor="start" fill="#222">Unbiased altimeter+5 s switching</text>
<line x1="271.2" y1="1200" x2="293.2" y2="1200" stroke="#00ff00" stroke-width="2.3"/>
<text x="296" y="1204.4" font-size="12.4" text-anchor="start" fill="#222">Unbiased altimeter+10 s switching</text>
<line x1="271.2" y1="1214.8" x2="293.2" y2="1214.8" stroke="#0000ff" stroke-width="2.3"/>
<text x="296" y="1219.2" font-size="12.4" text-anchor="start" fill="#222">Unbiased altimeter+30 s switching</text>
<line x1="271.2" y1="1230" x2="293.2" y2="1230" stroke="#00ffff" stroke-width="2.3"/>
<text x="296" y="1234.4" font-size="12.4" text-anchor="start" fill="#222">Unbiased altimeter+60 s switching</text>
<line x1="271.2" y1="1244.8" x2="293.2" y2="1244.8" stroke="#ff00ff" stroke-width="2.3"/>
<text x="296" y="1249.2" font-size="12.4" text-anchor="start" fill="#222">Unbiased altimeter+90 s switching</text>
<line x1="271.2" y1="1259.7" x2="293.2" y2="1259.7" stroke="#ff0000" stroke-width="2.4" stroke-dasharray="2.2 2.8"/>
<text x="296" y="1264.1" font-size="12.4" text-anchor="start" fill="#222">5 s switching</text>
<line x1="475.3" y1="1200" x2="496.6" y2="1200" stroke="#00ff00" stroke-width="2.4" stroke-dasharray="2.2 2.8"/>
<text x="500.7" y="1204.4" font-size="12.4" text-anchor="start" fill="#222">10 s switching</text>
<line x1="475.3" y1="1214.8" x2="496.6" y2="1214.8" stroke="#0000ff" stroke-width="2.4" stroke-dasharray="2.2 2.8"/>
<text x="500.7" y="1219.2" font-size="12.4" text-anchor="start" fill="#222">30 s switching</text>
<line x1="475.3" y1="1230" x2="496.6" y2="1230" stroke="#00ffff" stroke-width="2.4" stroke-dasharray="2.2 2.8"/>
<text x="500.7" y="1234.4" font-size="12.4" text-anchor="start" fill="#222">60 s switching</text>
<line x1="475.3" y1="1244.8" x2="496.6" y2="1244.8" stroke="#ff00ff" stroke-width="2.4" stroke-dasharray="2.2 2.8"/>
<text x="500.7" y="1249.2" font-size="12.4" text-anchor="start" fill="#222">90 s switching</text>
<clipPath id="c16"><rect x="60.5" y="1276.2" width="523.5" height="401.3"/></clipPath>
<rect x="60.5" y="1276.2" width="523.5" height="401.3" fill="#fff" stroke="none" stroke-width="1"/>
<line x1="125.9" y1="1276.2" x2="125.9" y2="1677.5" stroke="#dfdfdf" stroke-width="1"/>
<line x1="191.4" y1="1276.2" x2="191.4" y2="1677.5" stroke="#dfdfdf" stroke-width="1"/>
<line x1="256.8" y1="1276.2" x2="256.8" y2="1677.5" stroke="#dfdfdf" stroke-width="1"/>
<line x1="322.2" y1="1276.2" x2="322.2" y2="1677.5" stroke="#dfdfdf" stroke-width="1"/>
<line x1="387.7" y1="1276.2" x2="387.7" y2="1677.5" stroke="#dfdfdf" stroke-width="1"/>
<line x1="453.1" y1="1276.2" x2="453.1" y2="1677.5" stroke="#dfdfdf" stroke-width="1"/>
<line x1="518.6" y1="1276.2" x2="518.6" y2="1677.5" stroke="#dfdfdf" stroke-width="1"/>
<line x1="60.5" y1="1343.1" x2="584" y2="1343.1" stroke="#dfdfdf" stroke-width="1"/>
<line x1="60.5" y1="1410" x2="584" y2="1410" stroke="#dfdfdf" stroke-width="1"/>
<line x1="60.5" y1="1476.8" x2="584" y2="1476.8" stroke="#dfdfdf" stroke-width="1"/>
<line x1="60.5" y1="1543.7" x2="584" y2="1543.7" stroke="#dfdfdf" stroke-width="1"/>
<line x1="60.5" y1="1610.6" x2="584" y2="1610.6" stroke="#dfdfdf" stroke-width="1"/>
<polyline points="102,1299.4 102.8,1306.4 103.8,1316.6 105.1,1327.8 106.3,1338.4 107.5,1347.8 108.8,1357 110.1,1366.3 111.4,1376 112.7,1386.2 114,1396.7 115.3,1407.5 116.5,1418.7 117.7,1430.4 118.8,1442.6 119.9,1454.8 120.8,1466.5 121.6,1478 122.3,1489.5 122.9,1500.1 123.4,1509.2 123.9,1516.4 124.3,1522.2 124.6,1526.8 125.1,1530.6 125.6,1533.2 126.1,1534.6 126.7,1535.5 127.6,1536.6 128.6,1538 129.8,1539.4 131.4,1540.9 133.6,1542.6 136.6,1544.7 140.1,1547 144.2,1549.5 149,1552 154.5,1554.5 160.7,1557.2 167.5,1559.8 174.6,1562.2 182,1564.3 189.8,1566.2 198.1,1568.1 207.1,1570.1 216.5,1572.3 226.2,1574.6 237.1,1576.9 250,1579.5 265.6,1582.3 283.3,1585.3 301.9,1588.3 320,1591.3 338.4,1594.4 357.3,1597.5 375.1,1600.4 390,1602.9 400.9,1604.7 409,1606.1 415.8,1607.2 423,1608.5 430.8,1609.9 438.3,1611.4 445.8,1612.9 453.3,1614.5 461.2,1616.4 469.3,1618.5 477,1620.6 483.6,1622.4 488.7,1623.8 492.7,1625 496.3,1626.2 500,1627.6 504,1629.5 508,1631.7 511.8,1633.9 515.2,1635.8 518,1637.3 520.4,1638.6 522.6,1639.8 524.5,1641 526.3,1642.3 527.8,1643.7 529.2,1645 530.4,1646.3 531.5,1647.5 532.5,1648.7 533.3,1649.9 533.9,1651 534.3,1652 534.6,1652.8 534.8,1653.8 534.9,1655.1 535,1656.9 535.1,1659 535.1,1661.3 535.1,1664 535.1,1667.4 535.1,1671.3 535.1,1675 535.1,1677.5" fill="none" stroke="#278c27" stroke-width="2.3" stroke-linecap="butt" stroke-linejoin="round" clip-path="url(#c16)"/>
<polyline points="128.7,1304.2 128.8,1531 131,1536.2 131.7,1537 132.6,1538.2 133.8,1539.6 135.2,1541.1 137,1542.6 139.1,1544.1 141.4,1545.8 144.1,1547.5 147.2,1549.3 150.7,1551.1 154.7,1553.1 159.1,1555.2 163.9,1557.4 169.1,1559.5 174.6,1561.4 180.4,1563.1 186.5,1564.7 192.9,1566.2 199.8,1567.7 207.1,1569.4 214.6,1571.3 222.2,1573.2 230.4,1575.2 239.5,1577.3 250,1579.5 262.3,1581.8 276,1584.1 290.7,1586.5 305.6,1588.9 320,1591.3 334.6,1593.7 349.8,1596.2 364.7,1598.7 378.4,1601 390,1602.9 399,1604.4 406,1605.6 411.8,1606.5 417.2,1607.5 423,1608.5 429.2,1609.6 435.3,1610.8 441.3,1611.9 447.3,1613.2 453.3,1614.5 459.6,1616 466.1,1617.7 472.5,1619.3 478.4,1621 483.6,1622.4 487.8,1623.6 491.2,1624.5 494.2,1625.4 497,1626.4 500,1627.6 503.2,1629.1 506.4,1630.8 509.6,1632.6 512.6,1634.3 515.2,1635.8 517.5,1637 519.5,1638.1 521.3,1639.1 523,1640 524.5,1641 525.9,1642.1 527.2,1643.1 528.4,1644.2 529.4,1645.3 530.4,1646.3 531.3,1647.3 532.1,1648.3 532.8,1649.2 533.4,1650.1 533.9,1651 534.3,1651.8 534.5,1652.5 534.7,1653.1 534.8,1654 534.9,1655.1 535,1656.5 535,1658.1 535.1,1659.9 535.1,1661.8 535.1,1664 535.1,1666.6 535.1,1669.7 535.1,1672.9 535.1,1675.6 535.1,1677.5" fill="none" stroke="#9370db" stroke-width="2.0" stroke-linecap="butt" stroke-linejoin="round" clip-path="url(#c16)"/>
<polyline points="129,1304.2 129,1531 131,1536.2 131.7,1537 132.6,1538.2 133.8,1539.6 135.2,1541.1 137,1542.6 139.1,1544.1 141.4,1545.8 144.1,1547.5 147.2,1549.3 150.7,1551.1 154.7,1553.1 159.1,1555.2 163.9,1557.4 169.1,1559.5 174.6,1561.4 180.4,1563.1 186.5,1564.7 192.9,1566.2 199.8,1567.7 207.1,1569.4 214.6,1571.3 222.2,1573.2 230.4,1575.2 239.5,1577.3 250,1579.5 262.3,1581.8 276,1584.1 290.7,1586.5 305.6,1588.9 320,1591.3 334.6,1593.7 349.8,1596.2 364.7,1598.7 378.4,1601 390,1602.9 399,1604.4 406,1605.6 411.8,1606.5 417.2,1607.5 423,1608.5 429.2,1609.6 435.3,1610.8 441.3,1611.9 447.3,1613.2 453.3,1614.5 459.6,1616 466.1,1617.7 472.5,1619.3 478.4,1621 483.6,1622.4 487.8,1623.6 491.2,1624.5 494.2,1625.4 497,1626.4 500,1627.6 503.2,1629.1 506.4,1630.8 509.6,1632.6 512.6,1634.3 515.2,1635.8 517.5,1637 519.5,1638.1 521.3,1639.1 523,1640 524.5,1641 525.9,1642.1 527.2,1643.1 528.4,1644.2 529.4,1645.3 530.4,1646.3 531.3,1647.3 532.1,1648.3 532.8,1649.2 533.4,1650.1 533.9,1651 534.3,1651.8 534.5,1652.5 534.7,1653.1 534.8,1654 534.9,1655.1 535,1656.5 535,1658.1 535.1,1659.9 535.1,1661.8 535.1,1664 535.1,1666.6 535.1,1669.7 535.1,1672.9 535.1,1675.6 535.1,1677.5" fill="none" stroke="#000000" stroke-width="2.0" stroke-linecap="butt" stroke-linejoin="round" clip-path="url(#c16)"/>
<polyline points="129,1304.2 129,1531 131,1536.2 131.7,1537 132.6,1538.2 133.8,1539.6 135.2,1541.1 137,1542.6 139.1,1544.1 141.4,1545.8 144.1,1547.5 147.2,1549.3 150.7,1551.1 154.7,1553.1 159.1,1555.2 163.9,1557.4 169.1,1559.5 174.6,1561.4 180.4,1563.1 186.5,1564.7 192.9,1566.2 199.8,1567.7 207.1,1569.4 214.6,1571.3 222.2,1573.2 230.4,1575.2 239.5,1577.3 250,1579.5 262.3,1581.8 276,1584.1 290.7,1586.5 305.6,1588.9 320,1591.3 334.6,1593.7 349.8,1596.2 364.7,1598.7 378.4,1601 390,1602.9 399,1604.4 406,1605.6 411.8,1606.5 417.2,1607.5 423,1608.5 429.2,1609.6 435.3,1610.8 441.3,1611.9 447.3,1613.2 453.3,1614.5 459.6,1616 466.1,1617.7 472.5,1619.3 478.4,1621 483.6,1622.4 487.8,1623.6 491.2,1624.5 494.2,1625.4 497,1626.4 500,1627.6 503.2,1629.1 506.4,1630.8 509.6,1632.6 512.6,1634.3 515.2,1635.8 517.5,1637 519.5,1638.1 521.3,1639.1 523,1640 524.5,1641 525.9,1642.1 527.2,1643.1 528.4,1644.2 529.4,1645.3 530.4,1646.3 531.3,1647.3 532.1,1648.3 532.8,1649.2 533.4,1650.1 533.9,1651 534.3,1651.8 534.5,1652.5 534.7,1653.1 534.8,1654 534.9,1655.1 535,1656.5 535,1658.1 535.1,1659.9 535.1,1661.8 535.1,1664 535.1,1666.6 535.1,1669.7 535.1,1672.9 535.1,1675.6 535.1,1677.5" fill="none" stroke="#ffff00" stroke-width="2.0" stroke-linecap="butt" stroke-linejoin="round" clip-path="url(#c16)"/>
<polyline points="127.8,1304.2 128.4,1531 131,1536.2 131.7,1537 132.6,1538.2 133.8,1539.6 135.2,1541.1 137,1542.6 139.1,1544.1 141.4,1545.8 144.1,1547.5 147.2,1549.3 150.7,1551.1 154.7,1553.1 159.1,1555.2 163.9,1557.4 169.1,1559.5 174.6,1561.4 180.4,1563.1 186.5,1564.7 192.9,1566.2 199.8,1567.7 207.1,1569.4 214.6,1571.3 222.2,1573.2 230.4,1575.2 239.5,1577.3 250,1579.5 262.3,1581.8 276,1584.1 290.7,1586.5 305.6,1588.9 320,1591.3 334.6,1593.7 349.8,1596.2 364.7,1598.7 378.4,1601 390,1602.9 399,1604.4 406,1605.6 411.8,1606.5 417.2,1607.5 423,1608.5 429.2,1609.6 435.3,1610.8 441.3,1611.9 447.3,1613.2 453.3,1614.5 459.6,1616 466.1,1617.7 472.5,1619.3 478.4,1621 483.6,1622.4 487.8,1623.6 491.2,1624.5 494.2,1625.4 497,1626.4 500,1627.6 503.2,1629.1 506.4,1630.8 509.6,1632.6 512.6,1634.3 515.2,1635.8 517.5,1637 519.5,1638.1 521.3,1639.1 523,1640 524.5,1641 525.9,1642.1 527.2,1643.1 528.4,1644.2 529.4,1645.3 530.4,1646.3 531.3,1647.3 532.1,1648.3 532.8,1649.2 533.4,1650.1 533.9,1651 534.3,1651.8 534.5,1652.5 534.7,1653.1 534.8,1654 534.9,1655.1 535,1656.5 535,1658.1 535.1,1659.9 535.1,1661.8 535.1,1664 535.1,1666.6 535.1,1669.7 535.1,1672.9 535.1,1675.6 535.1,1677.5" fill="none" stroke="#ff0000" stroke-width="2.0" stroke-linecap="butt" stroke-linejoin="round" clip-path="url(#c16)"/>
<polyline points="127.5,1304.2 128.2,1531 131,1536.2 131.7,1537 132.6,1538.2 133.8,1539.6 135.2,1541.1 137,1542.6 139.1,1544.1 141.4,1545.8 144.1,1547.5 147.2,1549.3 150.7,1551.1 154.7,1553.1 159.1,1555.2 163.9,1557.4 169.1,1559.5 174.6,1561.4 180.4,1563.1 186.5,1564.7 192.9,1566.2 199.8,1567.7 207.1,1569.4 214.6,1571.3 222.2,1573.2 230.4,1575.2 239.5,1577.3 250,1579.5 262.3,1581.8 276,1584.1 290.7,1586.5 305.6,1588.9 320,1591.3 334.6,1593.7 349.8,1596.2 364.7,1598.7 378.4,1601 390,1602.9 399,1604.4 406,1605.6 411.8,1606.5 417.2,1607.5 423,1608.5 429.2,1609.6 435.3,1610.8 441.3,1611.9 447.3,1613.2 453.3,1614.5 459.6,1616 466.1,1617.7 472.5,1619.3 478.4,1621 483.6,1622.4 487.8,1623.6 491.2,1624.5 494.2,1625.4 497,1626.4 500,1627.6 503.2,1629.1 506.4,1630.8 509.6,1632.6 512.6,1634.3 515.2,1635.8 517.5,1637 519.5,1638.1 521.3,1639.1 523,1640 524.5,1641 525.9,1642.1 527.2,1643.1 528.4,1644.2 529.4,1645.3 530.4,1646.3 531.3,1647.3 532.1,1648.3 532.8,1649.2 533.4,1650.1 533.9,1651 534.3,1651.8 534.5,1652.5 534.7,1653.1 534.8,1654 534.9,1655.1 535,1656.5 535,1658.1 535.1,1659.9 535.1,1661.8 535.1,1664 535.1,1666.6 535.1,1669.7 535.1,1672.9 535.1,1675.6 535.1,1677.5" fill="none" stroke="#00ff00" stroke-width="2.0" stroke-linecap="butt" stroke-linejoin="round" clip-path="url(#c16)"/>
<polyline points="129,1304.2 129,1531 131,1536.2 131.7,1537 132.6,1538.2 133.8,1539.6 135.2,1541.1 137,1542.6 139.1,1544.1 141.4,1545.8 144.1,1547.5 147.2,1549.3 150.7,1551.1 154.7,1553.1 159.1,1555.2 163.9,1557.4 169.1,1559.5 174.6,1561.4 180.4,1563.1 186.5,1564.7 192.9,1566.2 199.8,1567.7 207.1,1569.4 214.6,1571.3 222.2,1573.2 230.4,1575.2 239.5,1577.3 250,1579.5 262.3,1581.8 276,1584.1 290.7,1586.5 305.6,1588.9 320,1591.3 334.6,1593.7 349.8,1596.2 364.7,1598.7 378.4,1601 390,1602.9 399,1604.4 406,1605.6 411.8,1606.5 417.2,1607.5 423,1608.5 429.2,1609.6 435.3,1610.8 441.3,1611.9 447.3,1613.2 453.3,1614.5 459.6,1616 466.1,1617.7 472.5,1619.3 478.4,1621 483.6,1622.4 487.8,1623.6 491.2,1624.5 494.2,1625.4 497,1626.4 500,1627.6 503.2,1629.1 506.4,1630.8 509.6,1632.6 512.6,1634.3 515.2,1635.8 517.5,1637 519.5,1638.1 521.3,1639.1 523,1640 524.5,1641 525.9,1642.1 527.2,1643.1 528.4,1644.2 529.4,1645.3 530.4,1646.3 531.3,1647.3 532.1,1648.3 532.8,1649.2 533.4,1650.1 533.9,1651 534.3,1651.8 534.5,1652.5 534.7,1653.1 534.8,1654 534.9,1655.1 535,1656.5 535,1658.1 535.1,1659.9 535.1,1661.8 535.1,1664 535.1,1666.6 535.1,1669.7 535.1,1672.9 535.1,1675.6 535.1,1677.5" fill="none" stroke="#0000ff" stroke-width="2.0" stroke-linecap="butt" stroke-linejoin="round" clip-path="url(#c16)"/>
<polyline points="129.3,1304.2 129.2,1531 131,1536.2 131.7,1537 132.6,1538.2 133.8,1539.6 135.2,1541.1 137,1542.6 139.1,1544.1 141.4,1545.8 144.1,1547.5 147.2,1549.3 150.7,1551.1 154.7,1553.1 159.1,1555.2 163.9,1557.4 169.1,1559.5 174.6,1561.4 180.4,1563.1 186.5,1564.7 192.9,1566.2 199.8,1567.7 207.1,1569.4 214.6,1571.3 222.2,1573.2 230.4,1575.2 239.5,1577.3 250,1579.5 262.3,1581.8 276,1584.1 290.7,1586.5 305.6,1588.9 320,1591.3 334.6,1593.7 349.8,1596.2 364.7,1598.7 378.4,1601 390,1602.9 399,1604.4 406,1605.6 411.8,1606.5 417.2,1607.5 423,1608.5 429.2,1609.6 435.3,1610.8 441.3,1611.9 447.3,1613.2 453.3,1614.5 459.6,1616 466.1,1617.7 472.5,1619.3 478.4,1621 483.6,1622.4 487.8,1623.6 491.2,1624.5 494.2,1625.4 497,1626.4 500,1627.6 503.2,1629.1 506.4,1630.8 509.6,1632.6 512.6,1634.3 515.2,1635.8 517.5,1637 519.5,1638.1 521.3,1639.1 523,1640 524.5,1641 525.9,1642.1 527.2,1643.1 528.4,1644.2 529.4,1645.3 530.4,1646.3 531.3,1647.3 532.1,1648.3 532.8,1649.2 533.4,1650.1 533.9,1651 534.3,1651.8 534.5,1652.5 534.7,1653.1 534.8,1654 534.9,1655.1 535,1656.5 535,1658.1 535.1,1659.9 535.1,1661.8 535.1,1664 535.1,1666.6 535.1,1669.7 535.1,1672.9 535.1,1675.6 535.1,1677.5" fill="none" stroke="#00ffff" stroke-width="2.0" stroke-linecap="butt" stroke-linejoin="round" clip-path="url(#c16)"/>
<polyline points="129.6,1304.2 129.3,1531 131,1536.2 131.7,1537 132.6,1538.2 133.8,1539.6 135.2,1541.1 137,1542.6 139.1,1544.1 141.4,1545.8 144.1,1547.5 147.2,1549.3 150.7,1551.1 154.7,1553.1 159.1,1555.2 163.9,1557.4 169.1,1559.5 174.6,1561.4 180.4,1563.1 186.5,1564.7 192.9,1566.2 199.8,1567.7 207.1,1569.4 214.6,1571.3 222.2,1573.2 230.4,1575.2 239.5,1577.3 250,1579.5 262.3,1581.8 276,1584.1 290.7,1586.5 305.6,1588.9 320,1591.3 334.6,1593.7 349.8,1596.2 364.7,1598.7 378.4,1601 390,1602.9 399,1604.4 406,1605.6 411.8,1606.5 417.2,1607.5 423,1608.5 429.2,1609.6 435.3,1610.8 441.3,1611.9 447.3,1613.2 453.3,1614.5 459.6,1616 466.1,1617.7 472.5,1619.3 478.4,1621 483.6,1622.4 487.8,1623.6 491.2,1624.5 494.2,1625.4 497,1626.4 500,1627.6 503.2,1629.1 506.4,1630.8 509.6,1632.6 512.6,1634.3 515.2,1635.8 517.5,1637 519.5,1638.1 521.3,1639.1 523,1640 524.5,1641 525.9,1642.1 527.2,1643.1 528.4,1644.2 529.4,1645.3 530.4,1646.3 531.3,1647.3 532.1,1648.3 532.8,1649.2 533.4,1650.1 533.9,1651 534.3,1651.8 534.5,1652.5 534.7,1653.1 534.8,1654 534.9,1655.1 535,1656.5 535,1658.1 535.1,1659.9 535.1,1661.8 535.1,1664 535.1,1666.6 535.1,1669.7 535.1,1672.9 535.1,1675.6 535.1,1677.5" fill="none" stroke="#ff00ff" stroke-width="2.0" stroke-linecap="butt" stroke-linejoin="round" clip-path="url(#c16)"/>
<polyline points="128.8,1304.2 129.1,1531 131,1536.2 131.7,1537 132.6,1538.2 133.8,1539.6 135.2,1541.1 137,1542.6 139.1,1544.1 141.4,1545.8 144.1,1547.5 147.2,1549.3 150.7,1551.1 154.7,1553.1 159.1,1555.2 163.9,1557.4 169.1,1559.5 174.6,1561.4 180.4,1563.1 186.5,1564.7 192.9,1566.2 199.8,1567.7 207.1,1569.4 214.6,1571.3 222.2,1573.2 230.4,1575.2 239.5,1577.3 250,1579.5 262.3,1581.8 276,1584.1 290.7,1586.5 305.6,1588.9 320,1591.3 334.6,1593.7 349.8,1596.2 364.7,1598.7 378.4,1601 390,1602.9 399,1604.4 406,1605.6 411.8,1606.5 417.2,1607.5 423,1608.5 429.2,1609.6 435.3,1610.8 441.3,1611.9 447.3,1613.2 453.3,1614.5 459.6,1616 466.1,1617.7 472.5,1619.3 478.4,1621 483.6,1622.4 487.8,1623.6 491.2,1624.5 494.2,1625.4 497,1626.4 500,1627.6 503.2,1629.1 506.4,1630.8 509.6,1632.6 512.6,1634.3 515.2,1635.8 517.5,1637 519.5,1638.1 521.3,1639.1 523,1640 524.5,1641 525.9,1642.1 527.2,1643.1 528.4,1644.2 529.4,1645.3 530.4,1646.3 531.3,1647.3 532.1,1648.3 532.8,1649.2 533.4,1650.1 533.9,1651 534.3,1651.8 534.5,1652.5 534.7,1653.1 534.8,1654 534.9,1655.1 535,1656.5 535,1658.1 535.1,1659.9 535.1,1661.8 535.1,1664 535.1,1666.6 535.1,1669.7 535.1,1672.9 535.1,1675.6 535.1,1677.5" fill="none" stroke="#ff0000" stroke-width="2.0" stroke-linecap="butt" stroke-linejoin="round" stroke-dasharray="2.2 2.6" clip-path="url(#c16)"/>
<polyline points="129.3,1304.2 129.3,1531 131,1536.2 131.7,1537 132.6,1538.2 133.8,1539.6 135.2,1541.1 137,1542.6 139.1,1544.1 141.4,1545.8 144.1,1547.5 147.2,1549.3 150.7,1551.1 154.7,1553.1 159.1,1555.2 163.9,1557.4 169.1,1559.5 174.6,1561.4 180.4,1563.1 186.5,1564.7 192.9,1566.2 199.8,1567.7 207.1,1569.4 214.6,1571.3 222.2,1573.2 230.4,1575.2 239.5,1577.3 250,1579.5 262.3,1581.8 276,1584.1 290.7,1586.5 305.6,1588.9 320,1591.3 334.6,1593.7 349.8,1596.2 364.7,1598.7 378.4,1601 390,1602.9 399,1604.4 406,1605.6 411.8,1606.5 417.2,1607.5 423,1608.5 429.2,1609.6 435.3,1610.8 441.3,1611.9 447.3,1613.2 453.3,1614.5 459.6,1616 466.1,1617.7 472.5,1619.3 478.4,1621 483.6,1622.4 487.8,1623.6 491.2,1624.5 494.2,1625.4 497,1626.4 500,1627.6 503.2,1629.1 506.4,1630.8 509.6,1632.6 512.6,1634.3 515.2,1635.8 517.5,1637 519.5,1638.1 521.3,1639.1 523,1640 524.5,1641 525.9,1642.1 527.2,1643.1 528.4,1644.2 529.4,1645.3 530.4,1646.3 531.3,1647.3 532.1,1648.3 532.8,1649.2 533.4,1650.1 533.9,1651 534.3,1651.8 534.5,1652.5 534.7,1653.1 534.8,1654 534.9,1655.1 535,1656.5 535,1658.1 535.1,1659.9 535.1,1661.8 535.1,1664 535.1,1666.6 535.1,1669.7 535.1,1672.9 535.1,1675.6 535.1,1677.5" fill="none" stroke="#00ff00" stroke-width="2.0" stroke-linecap="butt" stroke-linejoin="round" stroke-dasharray="2.2 2.6" clip-path="url(#c16)"/>
<polyline points="129.8,1304.2 129.5,1531 131,1536.2 131.7,1537 132.6,1538.2 133.8,1539.6 135.2,1541.1 137,1542.6 139.1,1544.1 141.4,1545.8 144.1,1547.5 147.2,1549.3 150.7,1551.1 154.7,1553.1 159.1,1555.2 163.9,1557.4 169.1,1559.5 174.6,1561.4 180.4,1563.1 186.5,1564.7 192.9,1566.2 199.8,1567.7 207.1,1569.4 214.6,1571.3 222.2,1573.2 230.4,1575.2 239.5,1577.3 250,1579.5 262.3,1581.8 276,1584.1 290.7,1586.5 305.6,1588.9 320,1591.3 334.6,1593.7 349.8,1596.2 364.7,1598.7 378.4,1601 390,1602.9 399,1604.4 406,1605.6 411.8,1606.5 417.2,1607.5 423,1608.5 429.2,1609.6 435.3,1610.8 441.3,1611.9 447.3,1613.2 453.3,1614.5 459.6,1616 466.1,1617.7 472.5,1619.3 478.4,1621 483.6,1622.4 487.8,1623.6 491.2,1624.5 494.2,1625.4 497,1626.4 500,1627.6 503.2,1629.1 506.4,1630.8 509.6,1632.6 512.6,1634.3 515.2,1635.8 517.5,1637 519.5,1638.1 521.3,1639.1 523,1640 524.5,1641 525.9,1642.1 527.2,1643.1 528.4,1644.2 529.4,1645.3 530.4,1646.3 531.3,1647.3 532.1,1648.3 532.8,1649.2 533.4,1650.1 533.9,1651 534.3,1651.8 534.5,1652.5 534.7,1653.1 534.8,1654 534.9,1655.1 535,1656.5 535,1658.1 535.1,1659.9 535.1,1661.8 535.1,1664 535.1,1666.6 535.1,1669.7 535.1,1672.9 535.1,1675.6 535.1,1677.5" fill="none" stroke="#0000ff" stroke-width="2.0" stroke-linecap="butt" stroke-linejoin="round" stroke-dasharray="2.2 2.6" clip-path="url(#c16)"/>
<polyline points="130.3,1304.2 129.7,1531 131,1536.2 131.7,1537 132.6,1538.2 133.8,1539.6 135.2,1541.1 137,1542.6 139.1,1544.1 141.4,1545.8 144.1,1547.5 147.2,1549.3 150.7,1551.1 154.7,1553.1 159.1,1555.2 163.9,1557.4 169.1,1559.5 174.6,1561.4 180.4,1563.1 186.5,1564.7 192.9,1566.2 199.8,1567.7 207.1,1569.4 214.6,1571.3 222.2,1573.2 230.4,1575.2 239.5,1577.3 250,1579.5 262.3,1581.8 276,1584.1 290.7,1586.5 305.6,1588.9 320,1591.3 334.6,1593.7 349.8,1596.2 364.7,1598.7 378.4,1601 390,1602.9 399,1604.4 406,1605.6 411.8,1606.5 417.2,1607.5 423,1608.5 429.2,1609.6 435.3,1610.8 441.3,1611.9 447.3,1613.2 453.3,1614.5 459.6,1616 466.1,1617.7 472.5,1619.3 478.4,1621 483.6,1622.4 487.8,1623.6 491.2,1624.5 494.2,1625.4 497,1626.4 500,1627.6 503.2,1629.1 506.4,1630.8 509.6,1632.6 512.6,1634.3 515.2,1635.8 517.5,1637 519.5,1638.1 521.3,1639.1 523,1640 524.5,1641 525.9,1642.1 527.2,1643.1 528.4,1644.2 529.4,1645.3 530.4,1646.3 531.3,1647.3 532.1,1648.3 532.8,1649.2 533.4,1650.1 533.9,1651 534.3,1651.8 534.5,1652.5 534.7,1653.1 534.8,1654 534.9,1655.1 535,1656.5 535,1658.1 535.1,1659.9 535.1,1661.8 535.1,1664 535.1,1666.6 535.1,1669.7 535.1,1672.9 535.1,1675.6 535.1,1677.5" fill="none" stroke="#00ffff" stroke-width="2.0" stroke-linecap="butt" stroke-linejoin="round" stroke-dasharray="2.2 2.6" clip-path="url(#c16)"/>
<polyline points="132.5,1304.2 130.6,1531 131,1536.2 131.7,1537 132.6,1538.2 133.8,1539.6 135.2,1541.1 137,1542.6 139.1,1544.1 141.4,1545.8 144.1,1547.5 147.2,1549.3 150.7,1551.1 154.7,1553.1 159.1,1555.2 163.9,1557.4 169.1,1559.5 174.6,1561.4 180.4,1563.1 186.5,1564.7 192.9,1566.2 199.8,1567.7 207.1,1569.4 214.6,1571.3 222.2,1573.2 230.4,1575.2 239.5,1577.3 250,1579.5 262.3,1581.8 276,1584.1 290.7,1586.5 305.6,1588.9 320,1591.3 334.6,1593.7 349.8,1596.2 364.7,1598.7 378.4,1601 390,1602.9 399,1604.4 406,1605.6 411.8,1606.5 417.2,1607.5 423,1608.5 429.2,1609.6 435.3,1610.8 441.3,1611.9 447.3,1613.2 453.3,1614.5 459.6,1616 466.1,1617.7 472.5,1619.3 478.4,1621 483.6,1622.4 487.8,1623.6 491.2,1624.5 494.2,1625.4 497,1626.4 500,1627.6 503.2,1629.1 506.4,1630.8 509.6,1632.6 512.6,1634.3 515.2,1635.8 517.5,1637 519.5,1638.1 521.3,1639.1 523,1640 524.5,1641 525.9,1642.1 527.2,1643.1 528.4,1644.2 529.4,1645.3 530.4,1646.3 531.3,1647.3 532.1,1648.3 532.8,1649.2 533.4,1650.1 533.9,1651 534.3,1651.8 534.5,1652.5 534.7,1653.1 534.8,1654 534.9,1655.1 535,1656.5 535,1658.1 535.1,1659.9 535.1,1661.8 535.1,1664 535.1,1666.6 535.1,1669.7 535.1,1672.9 535.1,1675.6 535.1,1677.5" fill="none" stroke="#ff00ff" stroke-width="2.0" stroke-linecap="butt" stroke-linejoin="round" stroke-dasharray="2.2 2.6" clip-path="url(#c16)"/>
<polyline points="129.6,1304.2 129.6,1531 131,1536.2 131.7,1537 132.6,1538.2 133.8,1539.6 135.2,1541.1 137,1542.6 139.1,1544.1 141.4,1545.8 144.1,1547.5 147.2,1549.3 150.7,1551.1 154.7,1553.1 159.1,1555.2 163.9,1557.4 169.1,1559.5 174.6,1561.4 180.4,1563.1 186.5,1564.7 192.9,1566.2 199.8,1567.7 207.1,1569.4 214.6,1571.3 222.2,1573.2 230.4,1575.2 239.5,1577.3 250,1579.5 262.3,1581.8 276,1584.1 290.7,1586.5 305.6,1588.9 320,1591.3 334.6,1593.7 349.8,1596.2 364.7,1598.7 378.4,1601 390,1602.9 399,1604.4 406,1605.6 411.8,1606.5 417.2,1607.5 423,1608.5 429.2,1609.6 435.3,1610.8 441.3,1611.9 447.3,1613.2 453.3,1614.5 459.6,1616 466.1,1617.7 472.5,1619.3 478.4,1621 483.6,1622.4 487.8,1623.6 491.2,1624.5 494.2,1625.4 497,1626.4 500,1627.6 503.2,1629.1 506.4,1630.8 509.6,1632.6 512.6,1634.3 515.2,1635.8 517.5,1637 519.5,1638.1 521.3,1639.1 523,1640 524.5,1641 525.9,1642.1 527.2,1643.1 528.4,1644.2 529.4,1645.3 530.4,1646.3 531.3,1647.3 532.1,1648.3 532.8,1649.2 533.4,1650.1 533.9,1651 534.3,1651.8 534.5,1652.5 534.7,1653.1 534.8,1654 534.9,1655.1 535,1656.5 535,1658.1 535.1,1659.9 535.1,1661.8 535.1,1664 535.1,1666.6 535.1,1669.7 535.1,1672.9 535.1,1675.6 535.1,1677.5" fill="none" stroke="#ff00ff" stroke-width="1.6" stroke-linecap="butt" stroke-linejoin="round" clip-path="url(#c16)"/>
<polyline points="129.4,1304.2 129.4,1531" fill="none" stroke="#00ffff" stroke-width="2.2" stroke-linecap="butt" stroke-linejoin="round" stroke-dasharray="2.2 2.6" clip-path="url(#c16)"/>
<polyline points="131.9,1304.2 130.6,1531 131,1536.2 131.7,1537 132.6,1538.2" fill="none" stroke="#ff00ff" stroke-width="2.0" stroke-linecap="butt" stroke-linejoin="round" stroke-dasharray="2.2 2.6" clip-path="url(#c16)"/>
<rect x="60.5" y="1276.2" width="523.5" height="401.3" fill="none" stroke="#555555" stroke-width="1"/>
<line x1="60.5" y1="1677.5" x2="60.5" y2="1672.5" stroke="#555555" stroke-width="1"/>
<line x1="60.5" y1="1276.2" x2="60.5" y2="1281.2" stroke="#555555" stroke-width="1"/>
<text x="60.5" y="1691.2" font-size="11.2" text-anchor="middle" fill="#3a3a3a">50.28</text>
<line x1="125.9" y1="1677.5" x2="125.9" y2="1672.5" stroke="#555555" stroke-width="1"/>
<line x1="125.9" y1="1276.2" x2="125.9" y2="1281.2" stroke="#555555" stroke-width="1"/>
<text x="125.9" y="1691.2" font-size="11.2" text-anchor="middle" fill="#3a3a3a">50.3</text>
<line x1="191.4" y1="1677.5" x2="191.4" y2="1672.5" stroke="#555555" stroke-width="1"/>
<line x1="191.4" y1="1276.2" x2="191.4" y2="1281.2" stroke="#555555" stroke-width="1"/>
<text x="191.4" y="1691.2" font-size="11.2" text-anchor="middle" fill="#3a3a3a">50.32</text>
<line x1="256.8" y1="1677.5" x2="256.8" y2="1672.5" stroke="#555555" stroke-width="1"/>
<line x1="256.8" y1="1276.2" x2="256.8" y2="1281.2" stroke="#555555" stroke-width="1"/>
<text x="256.8" y="1691.2" font-size="11.2" text-anchor="middle" fill="#3a3a3a">50.34</text>
<line x1="322.2" y1="1677.5" x2="322.2" y2="1672.5" stroke="#555555" stroke-width="1"/>
<line x1="322.2" y1="1276.2" x2="322.2" y2="1281.2" stroke="#555555" stroke-width="1"/>
<text x="322.2" y="1691.2" font-size="11.2" text-anchor="middle" fill="#3a3a3a">50.36</text>
<line x1="387.7" y1="1677.5" x2="387.7" y2="1672.5" stroke="#555555" stroke-width="1"/>
<line x1="387.7" y1="1276.2" x2="387.7" y2="1281.2" stroke="#555555" stroke-width="1"/>
<text x="387.7" y="1691.2" font-size="11.2" text-anchor="middle" fill="#3a3a3a">50.38</text>
<line x1="453.1" y1="1677.5" x2="453.1" y2="1672.5" stroke="#555555" stroke-width="1"/>
<line x1="453.1" y1="1276.2" x2="453.1" y2="1281.2" stroke="#555555" stroke-width="1"/>
<text x="453.1" y="1691.2" font-size="11.2" text-anchor="middle" fill="#3a3a3a">50.4</text>
<line x1="518.6" y1="1677.5" x2="518.6" y2="1672.5" stroke="#555555" stroke-width="1"/>
<line x1="518.6" y1="1276.2" x2="518.6" y2="1281.2" stroke="#555555" stroke-width="1"/>
<text x="518.6" y="1691.2" font-size="11.2" text-anchor="middle" fill="#3a3a3a">50.42</text>
<line x1="584" y1="1677.5" x2="584" y2="1672.5" stroke="#555555" stroke-width="1"/>
<line x1="584" y1="1276.2" x2="584" y2="1281.2" stroke="#555555" stroke-width="1"/>
<text x="584" y="1691.2" font-size="11.2" text-anchor="middle" fill="#3a3a3a">50.44</text>
<line x1="60.5" y1="1276.2" x2="65.5" y2="1276.2" stroke="#555555" stroke-width="1"/>
<line x1="584" y1="1276.2" x2="579" y2="1276.2" stroke="#555555" stroke-width="1"/>
<text x="56.5" y="1279.9" font-size="11.2" text-anchor="end" fill="#3a3a3a">-2.4</text>
<line x1="60.5" y1="1343.1" x2="65.5" y2="1343.1" stroke="#555555" stroke-width="1"/>
<line x1="584" y1="1343.1" x2="579" y2="1343.1" stroke="#555555" stroke-width="1"/>
<text x="56.5" y="1346.8" font-size="11.2" text-anchor="end" fill="#3a3a3a">-2.6</text>
<line x1="60.5" y1="1410" x2="65.5" y2="1410" stroke="#555555" stroke-width="1"/>
<line x1="584" y1="1410" x2="579" y2="1410" stroke="#555555" stroke-width="1"/>
<text x="56.5" y="1413.7" font-size="11.2" text-anchor="end" fill="#3a3a3a">-2.8</text>
<line x1="60.5" y1="1476.8" x2="65.5" y2="1476.8" stroke="#555555" stroke-width="1"/>
<line x1="584" y1="1476.8" x2="579" y2="1476.8" stroke="#555555" stroke-width="1"/>
<text x="56.5" y="1480.5" font-size="11.2" text-anchor="end" fill="#3a3a3a">-3</text>
<line x1="60.5" y1="1543.7" x2="65.5" y2="1543.7" stroke="#555555" stroke-width="1"/>
<line x1="584" y1="1543.7" x2="579" y2="1543.7" stroke="#555555" stroke-width="1"/>
<text x="56.5" y="1547.4" font-size="11.2" text-anchor="end" fill="#3a3a3a">-3.2</text>
<line x1="60.5" y1="1610.6" x2="65.5" y2="1610.6" stroke="#555555" stroke-width="1"/>
<line x1="584" y1="1610.6" x2="579" y2="1610.6" stroke="#555555" stroke-width="1"/>
<text x="56.5" y="1614.3" font-size="11.2" text-anchor="end" fill="#3a3a3a">-3.4</text>
<line x1="60.5" y1="1677.5" x2="65.5" y2="1677.5" stroke="#555555" stroke-width="1"/>
<line x1="584" y1="1677.5" x2="579" y2="1677.5" stroke="#555555" stroke-width="1"/>
<text x="56.5" y="1681.2" font-size="11.2" text-anchor="end" fill="#3a3a3a">-3.6</text>
<text x="324" y="1708.7" font-size="12.2" text-anchor="middle" fill="#3a3a3a">Latitude (<tspan font-size="9.5" dy="-5">o</tspan><tspan dy="5">)</tspan></text>
<text x="34.5" y="1476" font-size="12.2" text-anchor="middle" fill="#3a3a3a" transform="rotate(-90 34.5 1476)">Longitude (<tspan font-size="9.5" dy="-5">o</tspan><tspan dy="5">)</tspan></text>
<line x1="207.1" y1="1334.6" x2="151.7" y2="1335.7" stroke="#1f9bf5" stroke-width="3.0"/>
<polygon points="144.7,1335.8 152.6,1331.7 152.8,1339.5" fill="#1f9bf5"/>
<clipPath id="c17"><rect x="264.2" y="1283.8" width="303.3" height="274.5"/></clipPath>
<rect x="264.2" y="1283.8" width="303.3" height="274.5" fill="#fff" stroke="none" stroke-width="1"/>
<line x1="269.1" y1="1283.8" x2="269.1" y2="1558.3" stroke="#dfdfdf" stroke-width="1"/>
<line x1="311.7" y1="1283.8" x2="311.7" y2="1558.3" stroke="#dfdfdf" stroke-width="1"/>
<line x1="354.3" y1="1283.8" x2="354.3" y2="1558.3" stroke="#dfdfdf" stroke-width="1"/>
<line x1="397" y1="1283.8" x2="397" y2="1558.3" stroke="#dfdfdf" stroke-width="1"/>
<line x1="439.6" y1="1283.8" x2="439.6" y2="1558.3" stroke="#dfdfdf" stroke-width="1"/>
<line x1="482.2" y1="1283.8" x2="482.2" y2="1558.3" stroke="#dfdfdf" stroke-width="1"/>
<line x1="524.9" y1="1283.8" x2="524.9" y2="1558.3" stroke="#dfdfdf" stroke-width="1"/>
<line x1="264.2" y1="1290.5" x2="567.5" y2="1290.5" stroke="#dfdfdf" stroke-width="1"/>
<line x1="264.2" y1="1331" x2="567.5" y2="1331" stroke="#dfdfdf" stroke-width="1"/>
<line x1="264.2" y1="1371.5" x2="567.5" y2="1371.5" stroke="#dfdfdf" stroke-width="1"/>
<line x1="264.2" y1="1412" x2="567.5" y2="1412" stroke="#dfdfdf" stroke-width="1"/>
<line x1="264.2" y1="1452.6" x2="567.5" y2="1452.6" stroke="#dfdfdf" stroke-width="1"/>
<line x1="264.2" y1="1493.1" x2="567.5" y2="1493.1" stroke="#dfdfdf" stroke-width="1"/>
<line x1="264.2" y1="1533.6" x2="567.5" y2="1533.6" stroke="#dfdfdf" stroke-width="1"/>
<polyline points="298.4,1284.2 298.4,1555.7 306.2,1558.8" fill="none" stroke="#ffff00" stroke-width="2.6" stroke-linecap="butt" stroke-linejoin="round" clip-path="url(#c17)"/>
<polyline points="300.9,1284.2 300.9,1285.8 300.6,1288.1 299.1,1290 295,1291 289.7,1291.7 285.9,1292.7 284.7,1294.2 285.1,1296 286.8,1297.9 290.5,1299.9 295.6,1301.9 299.1,1304.1 299.8,1306.7 299.1,1309.4 298.2,1312.1 298,1314.6 297.7,1316.9 296.5,1319.1 293.2,1321.1 289.1,1322.9 286.8,1324.4 287.8,1325.6 290.5,1326.6 293,1328 294.3,1330.1 295.4,1332.7 296.5,1335 297.8,1336.9 299.2,1338.5 300,1340.3 300.4,1342.4 300.2,1344.6 299.1,1346.5 296.2,1347.8 292.3,1348.7 289.4,1350 288.5,1352 288.7,1354.2 289.4,1356.2 290.8,1357.6 292.8,1358.7 294.7,1359.7 296.6,1360.6 298.4,1361.6 300,1363.3 301.3,1366.4 302.2,1370.3 302.7,1373.9 302.5,1376.7 301.8,1379.1 300.9,1380.9 299.4,1381.8 297.7,1382 296.5,1382.7 296.3,1384 296.7,1385.7 297.4,1388 298.6,1390.9 300.1,1394.3 301.2,1398.6 301.5,1403.9 301.3,1410.1 301.2,1416.2 301.7,1422.1 302.2,1428 302.7,1433.9 302.7,1439.8 302.6,1445.6 302.7,1451.5 303.1,1457.9 303.5,1464.3 303.5,1469.2 302.6,1471 301.1,1471.3 300,1472.7 299.7,1476.8 299.8,1482.1 300,1486.8 300.3,1490.2 300.7,1492.9 300.9,1495.7 300.7,1496.9 300.3,1498.2 300,1504.5 299.9,1521.1 300,1542.7 300,1558.3" fill="none" stroke="#ff0000" stroke-width="2.0" stroke-linecap="butt" stroke-linejoin="round" clip-path="url(#c17)"/>
<polyline points="282.4,1284.2 282.6,1286 282.8,1288.7 282.4,1290.9 280.2,1292.1 277.4,1293 276.2,1294.1 277.8,1295.6 281.2,1297.3 285,1298.8 289.4,1299.8 294.3,1300.5 298.2,1301.5 300.5,1302.8 301.8,1304.4 302.7,1306.8 303.4,1310.6 303.7,1315.2 302.7,1319.1 298.7,1321.8 293.3,1323.7 290.3,1325.3 291.7,1326.4 295.5,1327 299.1,1328 301.8,1329.3 304.4,1331 306.2,1333.3 307.3,1336.6 307.7,1340.5 307.1,1343.8 304.9,1346.1 301.7,1347.8 299.1,1349.1 297.7,1349.5 296.9,1349.4 296.5,1350.9 296.8,1355.5 297.5,1361.8 297.4,1366.8 295.6,1369.2 293,1370.5 291.2,1372.1 290.8,1374.7 291.1,1377.7 292.1,1380.9 293.8,1384.3 296.1,1387.9 298.2,1391.5 300.1,1395.1 301.8,1398.7 302.7,1402.1 301.8,1405.2 300,1408 299.1,1410.9 300.1,1413.7 302,1416.4 303.5,1419.7 304.3,1424.4 304.7,1429.6 304.4,1433.9 303.1,1436.1 301.2,1437.3 300,1439.2 300.3,1442 301.3,1445.4 301.8,1449.8 301.2,1456 300.1,1463.2 299.1,1469.2 298.3,1472.9 297.5,1475.5 297.4,1478 298.2,1480.7 299.7,1483.4 300.9,1486.8 301.3,1492 301.3,1497.9 301.8,1502.7 303.1,1504.6 304.9,1505.3 306.2,1508 306.7,1514.5 306.9,1522.9 307.1,1531 307.5,1538.3 307.9,1545.2 308,1550.4 307.5,1552.7 306.7,1553.3 306.2,1553.9 306.1,1555.5 306.1,1557.1 306.2,1558.3" fill="none" stroke="#00ff00" stroke-width="2.0" stroke-linecap="butt" stroke-linejoin="round" clip-path="url(#c17)"/>
<polyline points="323.8,1284.2 323.9,1287.6 324,1292.6 323.8,1297.9 323.6,1304 323.3,1310.4 322.1,1315.6 319.5,1318.6 316.1,1320.3 313.3,1321.8 311.2,1323.3 309.7,1324.6 309.7,1326.2 312.3,1328.3 316.5,1330.8 320.3,1333.3 323.2,1335.7 325.7,1338.1 327.4,1340.3 328,1342.3 327.8,1344.1 327,1345.6 326.1,1346.6 324.6,1347.2 322.1,1347.7 317.5,1348 312,1348.1 308,1348.8 306.8,1349.6 307.3,1350.8 308,1354.4 308.2,1362.4 308.7,1372.6 309.7,1380.9 311.8,1385.2 314.6,1387.5 316.8,1389.7 318.2,1392.6 319,1395.5 319.4,1398.6 319.2,1402.2 318.5,1406.1 317.7,1409.2 316.5,1410.2 315.1,1410.5 314.1,1412.7 314.1,1418.6 314.6,1426.4 315,1433.9 315.3,1440.1 315.6,1446 315.9,1451.5 316.5,1456.8 317.1,1461.6 316.8,1465.6 314.7,1468.3 311.7,1470.1 309.7,1472.7 309.6,1477.1 310.4,1482.3 311.5,1486.8 312.6,1490 314,1492.5 315,1495.7 315.6,1499.8 315.8,1504.5 315.9,1509.8 315.8,1516.4 315.4,1523.7 315,1529.2 314.4,1530.7 313.7,1530.5 313.3,1532.7 313.4,1540.6 313.8,1550.9 314.1,1558.3" fill="none" stroke="#0000ff" stroke-width="2.0" stroke-linecap="butt" stroke-linejoin="round" clip-path="url(#c17)"/>
<polyline points="330.9,1284.2 329.3,1285.5 327,1287.3 323.8,1289.1 318.9,1290.8 313.1,1292.4 309.7,1294.1 310.3,1295.6 313.3,1297.1 316.8,1298.8 320.9,1301 325.5,1303.5 329.1,1305.9 330.9,1308 331.7,1310.1 331.8,1312.1 331.5,1314 330.5,1315.7 329.1,1317.4 327,1318.7 324.5,1319.9 322.1,1321.2 319.6,1322.7 317.3,1324.3 316.8,1326.2 319.5,1328.3 323.9,1330.7 327.4,1333.3 328.8,1336.2 329.3,1339.3 329.1,1342.1 328.4,1344.2 327,1345.9 325.6,1347.4 324,1347.4 322.4,1347.1 321.2,1350 320.9,1358.2 321.1,1369.5 321.2,1380.9 321,1392.4 320.8,1403.9 320,1412.7 318.1,1416.6 315.7,1417.8 314.1,1419.7 314.3,1424.1 315.4,1429.2 315.9,1433.9 315.1,1437.8 313.9,1441.3 313.3,1444.5 313.6,1447.2 314.6,1449.6 315.9,1451.5 317.6,1452.8 319.7,1453.7 321.2,1455.1 322,1457.1 322.3,1459.6 322.1,1462.1 321.4,1464.6 320.1,1467.1 318.5,1469.2 316.3,1470.3 313.6,1471 311.5,1472.7 310.4,1476.2 309.9,1480.7 309.7,1485.1 310,1488.6 310.7,1491.9 311.5,1495.7 312.4,1498.8 313.4,1502.4 314.1,1509.8 314.3,1525.2 314.2,1544.5 314.1,1558.3" fill="none" stroke="#00ffff" stroke-width="2.0" stroke-linecap="butt" stroke-linejoin="round" clip-path="url(#c17)"/>
<polyline points="334.4,1284.2 332.3,1285.5 329.1,1287.3 325.6,1289.1 321,1290.6 315.9,1292 313.3,1293.5 314.6,1295.2 318.2,1297 322.1,1298.8 325.7,1300.8 329.5,1302.9 332.7,1305 334.8,1307.1 336.3,1309.1 337.1,1311.2 337.2,1313.3 336.7,1315.5 335.3,1317.4 332.9,1318.7 329.6,1319.8 325.6,1320.9 319.7,1322.2 313.2,1323.7 309.7,1325.3 311.8,1327.2 317,1329.4 322.1,1331.5 326,1333.5 329.7,1335.5 332.7,1337.7 334.8,1340.1 336.2,1342.6 337.1,1344.7 337.8,1346.4 337.9,1347.8 336.6,1348.8 332.5,1348 327,1346.8 323,1349.1 322,1357.3 322.5,1368.9 323,1380.9 322.7,1392.7 322.3,1405 321.7,1416.2 321,1426.4 320.2,1435.5 319.4,1442.7 318.8,1446.9 318.2,1449.2 317.7,1451.5 317,1454.5 316.3,1457.4 315.9,1460.3 316.1,1463.4 316.7,1466.5 316.8,1469.2 316,1470.9 314.8,1472.3 314.1,1474.5 314.8,1478.2 316,1482.7 316.8,1486.8 316.5,1490.1 315.8,1493 315,1495.7 314.3,1498.1 313.5,1500.4 313.3,1502.7 313.9,1504.9 315,1507 315.9,1509.8 316.3,1513.7 316.5,1518.2 316.4,1522.1 316.2,1525 315.8,1527.4 315,1529.2 313.6,1529.7 311.9,1529.8 310.6,1531.8 310.1,1538 310,1546.1 309.7,1552.1 309.1,1554 308.4,1553.9 308,1553.9 307.6,1555 307.4,1556.4 308,1557.4 310,1558.1 312.9,1558.6 315,1558.8" fill="none" stroke="#ff00ff" stroke-width="2.0" stroke-linecap="butt" stroke-linejoin="round" clip-path="url(#c17)"/>
<polyline points="301.2,1284.2 300.5,1310.3 300.9,1363.3 299.1,1398.6 297.4,1433.9 294.7,1451.5 293,1478 293,1504.5 289.4,1531 288.5,1558.3" fill="none" stroke="#ff0000" stroke-width="2.0" stroke-linecap="butt" stroke-linejoin="round" stroke-dasharray="2.2 2.6" clip-path="url(#c17)"/>
<polyline points="308.8,1284.2 306.2,1301.5 308,1319.1 309.7,1333.3 307.1,1354.4 308,1380.9 302.7,1398.6 300,1416.2 299.1,1451.5 296.5,1469.2 293,1486.8 295.6,1495.7 290.3,1509.8 291.2,1522.1 289.4,1531 292.1,1539.8 291.2,1558.3" fill="none" stroke="#00ff00" stroke-width="2.0" stroke-linecap="butt" stroke-linejoin="round" stroke-dasharray="2.2 2.6" clip-path="url(#c17)"/>
<polyline points="318.5,1284.2 320.3,1310.3 319.4,1328 318.5,1349.1 317.7,1380.9 315,1398.6 311.5,1412.7 308,1425 308,1451.5 306.2,1469.2 300.9,1483.3 292.1,1485.9 293,1504.5 297.4,1518.6 294.7,1531 295.6,1558.3" fill="none" stroke="#0000ff" stroke-width="2.0" stroke-linecap="butt" stroke-linejoin="round" stroke-dasharray="2.2 2.6" clip-path="url(#c17)"/>
<polyline points="331.8,1284.2 330.9,1297.9 325.6,1319.1 323.8,1333.3 319.4,1349.1 317.7,1380.9 316.8,1398.6 315,1433.9 312.4,1451.5 309.7,1469.2 300.9,1483.3 283.2,1485.1 285.9,1500.9 288.5,1511.5 287.7,1522.1 293,1532.7 288.5,1552.1 287.7,1558.3" fill="none" stroke="#00ffff" stroke-width="2.0" stroke-linecap="butt" stroke-linejoin="round" stroke-dasharray="2.2 2.6" clip-path="url(#c17)"/>
<polyline points="412.1,1284.2 410.3,1292.7 405,1301.5 401.5,1308.5 394.5,1316.5 390.9,1328 386.5,1338.5 381.2,1346.5 371.5,1350 369.7,1359.7 367.1,1372.1 362.7,1389.7 358.3,1407.4 354.7,1425 353,1442.7 352.1,1449.8 364.4,1451.5 363.6,1455.1 359.1,1465.6 353.9,1479.8 348.6,1495.7 343.3,1508 332.7,1522.1 325.6,1538 321.2,1550.4 318.5,1553.9" fill="none" stroke="#ff00ff" stroke-width="2.0" stroke-linecap="butt" stroke-linejoin="round" stroke-dasharray="2.2 2.6" clip-path="url(#c17)"/>
<rect x="264.2" y="1283.8" width="303.3" height="274.5" fill="none" stroke="#555555" stroke-width="1"/>
<line x1="269.1" y1="1558.3" x2="269.1" y2="1554.3" stroke="#555555" stroke-width="1"/>
<line x1="269.1" y1="1283.8" x2="269.1" y2="1287.8" stroke="#555555" stroke-width="1"/>
<text x="269.1" y="1573.6" font-size="11.2" text-anchor="middle" fill="#3a3a3a">50.3005</text>
<line x1="311.7" y1="1558.3" x2="311.7" y2="1554.3" stroke="#555555" stroke-width="1"/>
<line x1="311.7" y1="1283.8" x2="311.7" y2="1287.8" stroke="#555555" stroke-width="1"/>
<text x="311.7" y="1573.6" font-size="11.2" text-anchor="middle" fill="#3a3a3a">50.301</text>
<line x1="354.3" y1="1558.3" x2="354.3" y2="1554.3" stroke="#555555" stroke-width="1"/>
<line x1="354.3" y1="1283.8" x2="354.3" y2="1287.8" stroke="#555555" stroke-width="1"/>
<text x="354.3" y="1573.6" font-size="11.2" text-anchor="middle" fill="#3a3a3a">50.3015</text>
<line x1="397" y1="1558.3" x2="397" y2="1554.3" stroke="#555555" stroke-width="1"/>
<line x1="397" y1="1283.8" x2="397" y2="1287.8" stroke="#555555" stroke-width="1"/>
<text x="397" y="1573.6" font-size="11.2" text-anchor="middle" fill="#3a3a3a">50.302</text>
<line x1="439.6" y1="1558.3" x2="439.6" y2="1554.3" stroke="#555555" stroke-width="1"/>
<line x1="439.6" y1="1283.8" x2="439.6" y2="1287.8" stroke="#555555" stroke-width="1"/>
<text x="439.6" y="1573.6" font-size="11.2" text-anchor="middle" fill="#3a3a3a">50.3025</text>
<line x1="482.2" y1="1558.3" x2="482.2" y2="1554.3" stroke="#555555" stroke-width="1"/>
<line x1="482.2" y1="1283.8" x2="482.2" y2="1287.8" stroke="#555555" stroke-width="1"/>
<text x="482.2" y="1573.6" font-size="11.2" text-anchor="middle" fill="#3a3a3a">50.303</text>
<line x1="524.9" y1="1558.3" x2="524.9" y2="1554.3" stroke="#555555" stroke-width="1"/>
<line x1="524.9" y1="1283.8" x2="524.9" y2="1287.8" stroke="#555555" stroke-width="1"/>
<text x="524.9" y="1573.6" font-size="11.2" text-anchor="middle" fill="#3a3a3a">50.3035</text>
<line x1="567.5" y1="1558.3" x2="567.5" y2="1554.3" stroke="#555555" stroke-width="1"/>
<line x1="567.5" y1="1283.8" x2="567.5" y2="1287.8" stroke="#555555" stroke-width="1"/>
<text x="567.5" y="1573.6" font-size="11.2" text-anchor="middle" fill="#3a3a3a">50.304</text>
<line x1="264.2" y1="1290.5" x2="268.2" y2="1290.5" stroke="#555555" stroke-width="1"/>
<line x1="567.5" y1="1290.5" x2="563.5" y2="1290.5" stroke="#555555" stroke-width="1"/>
<text x="260.2" y="1294.2" font-size="11.2" text-anchor="end" fill="#3a3a3a">-2.5</text>
<line x1="264.2" y1="1331" x2="268.2" y2="1331" stroke="#555555" stroke-width="1"/>
<line x1="567.5" y1="1331" x2="563.5" y2="1331" stroke="#555555" stroke-width="1"/>
<text x="260.2" y="1334.7" font-size="11.2" text-anchor="end" fill="#3a3a3a">-2.6</text>
<line x1="264.2" y1="1371.5" x2="268.2" y2="1371.5" stroke="#555555" stroke-width="1"/>
<line x1="567.5" y1="1371.5" x2="563.5" y2="1371.5" stroke="#555555" stroke-width="1"/>
<text x="260.2" y="1375.2" font-size="11.2" text-anchor="end" fill="#3a3a3a">-2.7</text>
<line x1="264.2" y1="1412" x2="268.2" y2="1412" stroke="#555555" stroke-width="1"/>
<line x1="567.5" y1="1412" x2="563.5" y2="1412" stroke="#555555" stroke-width="1"/>
<text x="260.2" y="1415.7" font-size="11.2" text-anchor="end" fill="#3a3a3a">-2.8</text>
<line x1="264.2" y1="1452.6" x2="268.2" y2="1452.6" stroke="#555555" stroke-width="1"/>
<line x1="567.5" y1="1452.6" x2="563.5" y2="1452.6" stroke="#555555" stroke-width="1"/>
<text x="260.2" y="1456.2" font-size="11.2" text-anchor="end" fill="#3a3a3a">-2.9</text>
<line x1="264.2" y1="1493.1" x2="268.2" y2="1493.1" stroke="#555555" stroke-width="1"/>
<line x1="567.5" y1="1493.1" x2="563.5" y2="1493.1" stroke="#555555" stroke-width="1"/>
<text x="260.2" y="1496.8" font-size="11.2" text-anchor="end" fill="#3a3a3a">-3</text>
<line x1="264.2" y1="1533.6" x2="268.2" y2="1533.6" stroke="#555555" stroke-width="1"/>
<line x1="567.5" y1="1533.6" x2="563.5" y2="1533.6" stroke="#555555" stroke-width="1"/>
<text x="260.2" y="1537.3" font-size="11.2" text-anchor="end" fill="#3a3a3a">-3.1</text>
<text x="167.5" y="602" font-size="26.5" fill="#222" textLength="274.5" lengthAdjust="spacingAndGlyphs">(<tspan font-weight="bold">a</tspan>) Position error curve</text>
<text x="807" y="602" font-size="26.5" fill="#222" textLength="276" lengthAdjust="spacingAndGlyphs">(<tspan font-weight="bold">b</tspan>) Velocity error curve</text>
<text x="167.5" y="1181" font-size="26.5" fill="#222" textLength="274.5" lengthAdjust="spacingAndGlyphs">(<tspan font-weight="bold">c</tspan>) Attitude error curve</text>
<text x="710" y="1181" font-size="26.5" fill="#222" textLength="471" lengthAdjust="spacingAndGlyphs">(<tspan font-weight="bold">d</tspan>) 3-dimensional trajectory error curve</text>
<text x="71.5" y="1744" font-size="26.5" fill="#222" textLength="467.5" lengthAdjust="spacingAndGlyphs">(<tspan font-weight="bold">e</tspan>) 2-dimensional trajectory error curve</text>
</svg>
</body></html>
